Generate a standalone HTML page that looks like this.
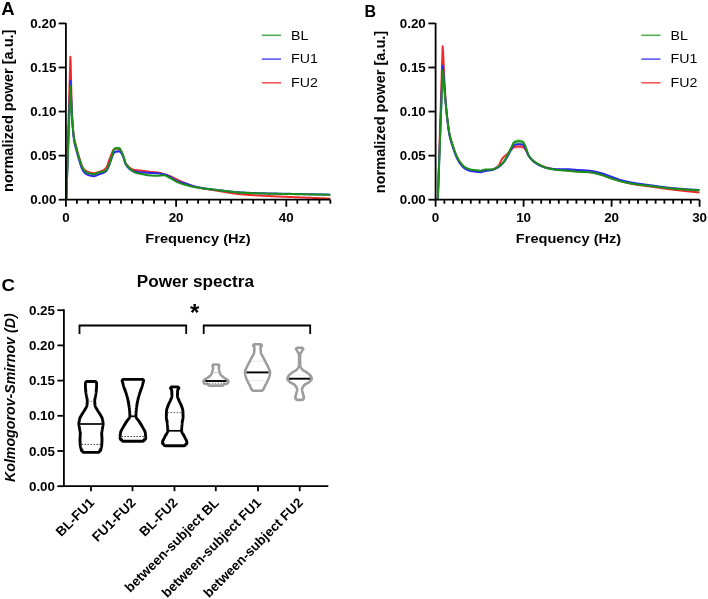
<!DOCTYPE html>
<html><head><meta charset="utf-8"><style>
html,body{margin:0;padding:0;background:#fff;}
svg{display:block;font-family:"Liberation Sans",sans-serif;will-change:transform;}
</style></head><body>
<svg width="708" height="599" viewBox="0 0 708 599">
<rect width="708" height="599" fill="#fff"/>
<path d="M69.21,97.28 L69.23,96.07 L69.25,95.05 L69.28,94.08 L69.30,93.12 L69.32,92.18 L69.34,91.25 L69.37,90.32 L69.39,89.41 L69.41,88.50 L69.44,87.59 L69.46,86.69 L69.48,85.79 L69.51,84.89 L69.53,84.00 L69.55,83.11 L69.58,82.23 L69.60,81.35 L69.62,80.46 L69.65,79.59 L69.67,78.71 L69.69,77.83 L69.72,76.96 L69.74,76.09 L69.76,75.22 L69.78,74.36 L69.81,73.49 L69.83,72.63 L69.85,71.77 L69.88,70.91 L69.90,70.05 L69.92,69.20 L69.95,68.34 L69.97,67.49 L69.99,66.64 L70.02,65.79 L70.04,64.94 L70.06,64.09 L70.09,63.25 L70.11,62.41 L70.13,61.56 L70.16,60.72 L70.18,59.89 L70.20,59.05 L70.22,58.21 L70.25,57.38 L70.27,56.55 L70.29,55.71 L70.32,54.89 L70.34,54.06 L70.36,53.25 L70.39,53.65 L70.41,54.04 L70.43,54.44 L70.46,54.84 L70.48,55.24 L70.50,55.64 L70.53,56.04 L70.55,56.44 L70.57,56.85 L70.60,57.26 L70.62,57.66 L70.64,58.16 L70.66,59.26 L70.69,60.35 L70.71,61.45 L70.73,62.55 L70.76,63.64 L70.78,64.74 L70.80,65.83 L70.83,66.92 L70.85,68.01 L70.87,69.09 L70.90,70.17 L70.92,71.25 L70.94,72.33 L70.97,73.40 L70.99,74.46 L71.01,75.53 L71.03,76.59 L71.06,77.64 L71.08,78.69 L71.10,79.73 L71.13,80.77 L71.15,81.80 L71.17,82.83 L71.20,83.85 L71.22,84.87 L71.24,85.87 L71.27,86.87 L71.29,87.87 L71.31,88.85 L71.34,89.83 L71.36,90.81 L71.38,91.77 L71.41,92.72 L71.43,93.67 L71.45,94.61 L71.47,95.54 L71.50,96.46 L71.52,97.37 L71.54,98.27 L71.57,99.17 L71.59,100.05 L71.61,100.92 L71.64,101.79 L71.66,102.64 L71.68,103.49 L71.71,104.32 L71.73,105.14 L71.75,105.96 L71.78,106.77 L71.80,107.56 L71.82,108.35 L71.85,109.14 L71.87,109.91 L71.89,110.69 L71.91,111.48 L71.94,112.28 L71.96,113.27 L71.96,113.27 L71.94,113.08 L71.91,112.68 L71.89,112.23 L71.87,111.74 L71.85,111.22 L71.82,110.68 L71.80,110.11 L71.78,109.52 L71.75,108.92 L71.73,108.29 L71.71,107.64 L71.68,106.98 L71.66,106.30 L71.64,105.61 L71.61,104.90 L71.59,104.17 L71.57,103.43 L71.54,102.68 L71.52,101.91 L71.50,101.13 L71.47,100.33 L71.45,99.52 L71.43,98.70 L71.41,97.86 L71.38,97.02 L71.36,96.16 L71.34,95.29 L71.31,94.41 L71.29,93.52 L71.27,92.61 L71.24,91.70 L71.22,90.78 L71.20,89.85 L71.17,88.90 L71.15,87.95 L71.13,86.99 L71.10,86.02 L71.08,85.04 L71.06,84.06 L71.03,83.06 L71.01,82.06 L70.99,81.05 L70.97,80.03 L70.94,79.01 L70.92,77.98 L70.90,76.94 L70.87,75.90 L70.85,74.85 L70.83,73.80 L70.80,72.74 L70.78,71.67 L70.76,70.60 L70.73,69.53 L70.71,68.45 L70.69,67.36 L70.66,66.28 L70.64,65.19 L70.62,64.70 L70.60,64.30 L70.57,63.89 L70.55,63.48 L70.53,63.07 L70.50,62.66 L70.48,62.25 L70.46,61.83 L70.43,61.42 L70.41,61.00 L70.39,60.58 L70.36,60.16 L70.34,60.93 L70.32,61.73 L70.29,62.52 L70.27,63.32 L70.25,64.11 L70.22,64.90 L70.20,65.69 L70.18,66.47 L70.16,67.26 L70.13,68.04 L70.11,68.82 L70.09,69.60 L70.06,70.38 L70.04,71.16 L70.02,71.94 L69.99,72.71 L69.97,73.48 L69.95,74.26 L69.92,75.03 L69.90,75.79 L69.88,76.56 L69.85,77.32 L69.83,78.09 L69.81,78.85 L69.78,79.61 L69.76,80.36 L69.74,81.12 L69.72,81.87 L69.69,82.63 L69.67,83.38 L69.65,84.12 L69.62,84.87 L69.60,85.61 L69.58,86.35 L69.55,87.09 L69.53,87.82 L69.51,88.56 L69.48,89.29 L69.46,90.01 L69.44,90.73 L69.41,91.45 L69.39,92.16 L69.37,92.87 L69.34,93.57 L69.32,94.26 L69.30,94.95 L69.28,95.61 L69.25,96.26 L69.23,96.87 L69.21,97.28 Z" fill="#ff8080" fill-opacity="0.45" stroke="none"/>
<path d="M111.63,153.94 L111.74,153.51 L111.85,153.16 L111.95,152.83 L112.06,152.49 L112.17,152.16 L112.27,151.83 L112.38,151.51 L112.48,151.19 L112.59,150.88 L112.70,150.58 L112.80,150.29 L112.91,150.01 L113.02,149.75 L113.12,149.50 L113.23,149.27 L113.34,149.06 L113.44,148.87 L113.55,148.71 L113.66,148.57 L113.76,148.46 L113.87,148.36 L113.98,148.27 L114.08,148.17 L114.19,148.08 L114.30,147.99 L114.40,147.90 L114.51,147.82 L114.61,147.74 L114.72,147.67 L114.83,147.60 L114.93,147.54 L115.04,147.48 L115.15,147.42 L115.25,147.37 L115.36,147.33 L115.47,147.29 L115.57,147.26 L115.68,147.24 L115.79,147.22 L115.89,147.20 L116.00,147.19 L116.11,147.18 L116.21,147.17 L116.32,147.17 L116.43,147.16 L116.53,147.16 L116.64,147.16 L116.74,147.16 L116.85,147.16 L116.96,147.16 L117.06,147.16 L117.17,147.17 L117.28,147.18 L117.38,147.19 L117.49,147.20 L117.60,147.21 L117.70,147.22 L117.81,147.24 L117.92,147.25 L118.02,147.27 L118.13,147.29 L118.24,147.31 L118.34,147.33 L118.45,147.36 L118.56,147.38 L118.66,147.41 L118.77,147.44 L118.87,147.47 L118.98,147.50 L119.09,147.53 L119.19,147.56 L119.30,147.61 L119.41,147.67 L119.51,147.74 L119.62,147.83 L119.73,147.94 L119.83,148.05 L119.94,148.18 L120.05,148.32 L120.15,148.47 L120.26,148.63 L120.37,148.80 L120.47,148.97 L120.58,149.15 L120.69,149.34 L120.79,149.53 L120.90,149.73 L121.00,149.93 L121.11,150.13 L121.22,150.34 L121.32,150.54 L121.43,150.75 L121.54,150.95 L121.64,151.16 L121.75,151.38 L121.86,151.61 L121.96,151.85 L122.07,152.11 L122.18,152.37 L122.28,152.64 L122.39,152.92 L122.50,153.21 L122.60,153.50 L122.71,153.80 L122.82,154.11 L122.92,154.42 L123.03,154.74 L123.13,155.06 L123.24,155.38 L123.35,155.71 L123.45,156.04 L123.56,156.37 L123.67,156.70 L123.77,157.04 L123.88,157.39 L123.99,157.77 L124.09,158.17 L124.20,158.60 L124.31,159.12 L124.31,159.12 L124.20,158.96 L124.09,158.71 L123.99,158.46 L123.88,158.22 L123.77,157.98 L123.67,157.75 L123.56,157.52 L123.45,157.28 L123.35,157.04 L123.24,156.80 L123.13,156.55 L123.03,156.31 L122.92,156.07 L122.82,155.83 L122.71,155.59 L122.60,155.36 L122.50,155.13 L122.39,154.90 L122.28,154.68 L122.18,154.47 L122.07,154.26 L121.96,154.06 L121.86,153.87 L121.75,153.69 L121.64,153.52 L121.54,153.36 L121.43,153.20 L121.32,153.04 L121.22,152.88 L121.11,152.72 L121.00,152.55 L120.90,152.39 L120.79,152.23 L120.69,152.07 L120.58,151.92 L120.47,151.77 L120.37,151.63 L120.26,151.49 L120.15,151.36 L120.05,151.24 L119.94,151.12 L119.83,151.02 L119.73,150.92 L119.62,150.84 L119.51,150.77 L119.41,150.72 L119.30,150.67 L119.19,150.64 L119.09,150.62 L118.98,150.61 L118.87,150.59 L118.77,150.57 L118.66,150.55 L118.56,150.53 L118.45,150.51 L118.34,150.49 L118.24,150.48 L118.13,150.46 L118.02,150.44 L117.92,150.42 L117.81,150.40 L117.70,150.39 L117.60,150.37 L117.49,150.35 L117.38,150.33 L117.28,150.32 L117.17,150.30 L117.06,150.28 L116.96,150.27 L116.85,150.25 L116.74,150.24 L116.64,150.22 L116.53,150.20 L116.43,150.19 L116.32,150.17 L116.21,150.16 L116.11,150.15 L116.00,150.13 L115.89,150.12 L115.79,150.10 L115.68,150.10 L115.57,150.09 L115.47,150.09 L115.36,150.10 L115.25,150.11 L115.15,150.12 L115.04,150.14 L114.93,150.16 L114.83,150.18 L114.72,150.21 L114.61,150.24 L114.51,150.28 L114.40,150.31 L114.30,150.35 L114.19,150.39 L114.08,150.43 L113.98,150.48 L113.87,150.52 L113.76,150.56 L113.66,150.62 L113.55,150.69 L113.44,150.79 L113.34,150.92 L113.23,151.06 L113.12,151.22 L113.02,151.39 L112.91,151.58 L112.80,151.78 L112.70,151.99 L112.59,152.21 L112.48,152.43 L112.38,152.65 L112.27,152.88 L112.17,153.10 L112.06,153.31 L111.95,153.52 L111.85,153.71 L111.74,153.87 L111.63,153.94 Z" fill="#ff8080" fill-opacity="0.45" stroke="none"/>
<path d="M66.29,199.70 L70.36,56.70 L70.64,61.54 L70.86,71.86 L71.08,81.78 L71.30,91.11 L71.52,99.61 L71.74,107.06 L71.96,113.27 L72.18,117.99 L72.40,121.43 L72.62,124.48 L72.84,127.21 L73.06,129.65 L73.28,131.83 L73.50,133.76 L73.72,135.47 L73.94,136.99 L74.17,138.35 L74.39,139.57 L74.61,140.62 L74.83,141.55 L75.05,142.38 L75.27,143.15 L75.49,143.90 L75.71,144.65 L75.93,145.46 L76.15,146.31 L76.37,147.18 L76.59,148.05 L76.81,148.92 L77.03,149.78 L77.25,150.63 L77.47,151.46 L77.69,152.27 L77.91,153.06 L78.13,153.84 L78.35,154.60 L78.57,155.36 L78.79,156.10 L79.01,156.84 L79.23,157.56 L79.45,158.26 L79.68,158.96 L79.90,159.65 L80.12,160.35 L80.34,161.05 L80.56,161.74 L80.78,162.42 L81.00,163.08 L81.22,163.72 L81.44,164.32 L81.66,164.89 L81.88,165.40 L82.10,165.88 L82.32,166.33 L82.54,166.76 L82.76,167.17 L82.98,167.57 L83.20,167.93 L83.42,168.27 L83.64,168.58 L83.86,168.86 L84.08,169.11 L84.30,169.34 L84.52,169.57 L84.74,169.79 L84.96,170.00 L85.19,170.20 L85.41,170.39 L85.63,170.57 L85.85,170.74 L86.07,170.90 L86.29,171.06 L86.51,171.20 L86.73,171.33 L86.95,171.45 L87.17,171.55 L87.39,171.65 L87.61,171.74 L87.83,171.83 L88.05,171.91 L88.27,171.99 L88.49,172.07 L88.71,172.15 L88.93,172.22 L89.15,172.29 L89.37,172.35 L89.59,172.41 L89.81,172.47 L90.03,172.53 L90.25,172.59 L90.47,172.64 L90.70,172.69 L90.92,172.74 L91.14,172.78 L91.36,172.83 L91.58,172.87 L91.80,172.91 L92.02,172.95 L92.24,172.99 L92.46,173.03 L92.68,173.07 L92.90,173.11 L93.12,173.14 L93.34,173.17 L93.56,173.19 L93.78,173.21 L94.00,173.21 L94.22,173.21 L94.44,173.19 L94.66,173.16 L94.88,173.12 L95.10,173.07 L95.32,173.02 L95.54,172.96 L95.76,172.90 L95.98,172.83 L96.21,172.76 L96.43,172.69 L96.65,172.62 L96.87,172.55 L97.09,172.48 L97.31,172.42 L97.53,172.36 L97.75,172.30 L97.97,172.23 L98.19,172.17 L98.41,172.11 L98.63,172.04 L98.85,171.97 L99.07,171.90 L99.29,171.83 L99.51,171.76 L99.73,171.69 L99.95,171.61 L100.17,171.54 L100.39,171.46 L100.61,171.38 L100.83,171.30 L101.05,171.21 L101.27,171.12 L101.49,171.03 L101.72,170.94 L101.94,170.85 L102.16,170.75 L102.38,170.65 L102.60,170.55 L102.82,170.44 L103.04,170.32 L103.26,170.20 L103.48,170.07 L103.70,169.93 L103.92,169.78 L104.14,169.62 L104.36,169.45 L104.58,169.26 L104.80,169.06 L105.02,168.84 L105.24,168.61 L105.46,168.36 L105.68,168.10 L105.90,167.81 L106.12,167.52 L106.34,167.20 L106.56,166.87 L106.78,166.51 L107.00,166.08 L107.23,165.58 L107.45,165.03 L107.67,164.42 L107.89,163.79 L108.11,163.13 L108.33,162.46 L108.55,161.80 L108.77,161.16 L108.99,160.54 L109.21,159.96 L109.43,159.39 L109.65,158.82 L109.87,158.26 L110.09,157.69 L110.31,157.14 L110.53,156.58 L110.75,156.04 L110.97,155.50 L111.19,154.97 L111.41,154.45 L111.63,153.94 L111.85,153.42 L112.07,152.86 L112.29,152.30 L112.51,151.74 L112.74,151.20 L112.96,150.70 L113.18,150.26 L113.40,149.90 L113.62,149.63 L113.84,149.46 L114.06,149.32 L114.28,149.18 L114.50,149.05 L114.72,148.94 L114.94,148.85 L115.16,148.77 L115.38,148.71 L115.60,148.67 L115.82,148.66 L116.04,148.66 L116.26,148.67 L116.48,148.68 L116.70,148.69 L116.92,148.71 L117.14,148.73 L117.36,148.76 L117.58,148.79 L117.80,148.82 L118.02,148.86 L118.25,148.89 L118.47,148.94 L118.69,148.98 L118.91,149.03 L119.13,149.09 L119.35,149.16 L119.57,149.30 L119.79,149.49 L120.01,149.73 L120.23,150.02 L120.45,150.34 L120.67,150.68 L120.89,151.05 L121.11,151.42 L121.33,151.80 L121.55,152.18 L121.77,152.58 L121.99,153.02 L122.21,153.50 L122.43,154.02 L122.65,154.56 L122.87,155.12 L123.09,155.70 L123.31,156.28 L123.53,156.87 L123.76,157.46 L123.98,158.08 L124.20,158.77 L124.42,159.48 L124.64,160.19 L124.86,160.88 L125.08,161.52 L125.30,162.07 L125.52,162.52 L125.74,162.93 L125.96,163.32 L126.18,163.69 L126.40,164.04 L126.62,164.37 L126.84,164.68 L127.06,164.98 L127.28,165.26 L127.50,165.53 L127.72,165.78 L127.94,166.03 L128.16,166.26 L128.38,166.49 L128.60,166.71 L128.82,166.92 L129.04,167.14 L129.27,167.34 L129.49,167.54 L129.71,167.73 L129.93,167.91 L130.15,168.08 L130.37,168.25 L130.59,168.40 L130.81,168.54 L131.03,168.67 L131.25,168.79 L131.47,168.90 L131.69,169.00 L131.91,169.10 L132.13,169.19 L132.35,169.28 L132.57,169.36 L132.79,169.44 L133.01,169.52 L133.23,169.59 L133.45,169.66 L133.67,169.72 L133.89,169.78 L134.11,169.83 L134.33,169.88 L134.55,169.92 L134.78,169.96 L135.00,169.99 L135.22,170.01 L135.44,170.04 L135.66,170.06 L135.88,170.08 L136.10,170.10 L136.32,170.12 L136.54,170.14 L136.76,170.16 L136.98,170.17 L137.20,170.19 L137.42,170.20 L137.64,170.22 L137.86,170.24 L138.08,170.26 L138.30,170.28 L138.52,170.30 L138.74,170.32 L138.96,170.34 L139.18,170.37 L139.40,170.39 L139.62,170.42 L139.84,170.44 L140.06,170.47 L140.29,170.50 L140.51,170.53 L140.73,170.56 L140.95,170.58 L141.17,170.61 L141.39,170.64 L141.61,170.67 L141.83,170.70 L142.05,170.73 L142.27,170.77 L142.49,170.80 L142.71,170.83 L142.93,170.86 L143.15,170.89 L143.37,170.93 L143.59,170.96 L143.81,170.99 L144.03,171.02 L144.25,171.06 L144.47,171.09 L144.69,171.12 L144.91,171.15 L145.13,171.19 L145.35,171.22 L145.57,171.25 L145.80,171.28 L146.02,171.32 L146.24,171.35 L146.46,171.38 L146.68,171.41 L146.90,171.44 L147.12,171.47 L147.34,171.51 L147.56,171.54 L147.78,171.57 L148.00,171.60 L148.22,171.63 L148.44,171.65 L148.66,171.68 L148.88,171.71 L149.10,171.74 L149.32,171.77 L149.54,171.79 L149.76,171.82 L149.98,171.84 L150.20,171.87 L150.42,171.89 L150.64,171.91 L150.86,171.94 L151.08,171.96 L151.31,171.98 L151.53,172.00 L151.75,172.02 L151.97,172.04 L152.19,172.05 L152.41,172.07 L152.63,172.09 L152.85,172.10 L153.07,172.11 L153.29,172.13 L153.51,172.14 L153.73,172.16 L153.95,172.17 L154.17,172.18 L154.39,172.20 L154.61,172.21 L154.83,172.22 L155.05,172.24 L155.27,172.25 L155.49,172.27 L155.71,172.29 L155.93,172.31 L156.15,172.33 L156.37,172.35 L156.59,172.37 L156.82,172.39 L157.04,172.41 L157.26,172.44 L157.48,172.47 L157.70,172.50 L157.92,172.54 L158.14,172.58 L158.36,172.62 L158.58,172.67 L158.80,172.71 L159.02,172.76 L159.24,172.82 L159.46,172.87 L159.68,172.93 L159.90,172.99 L160.12,173.05 L160.34,173.11 L160.56,173.17 L160.78,173.23 L161.00,173.30 L161.22,173.36 L161.44,173.43 L161.66,173.49 L161.88,173.56 L162.10,173.63 L162.33,173.70 L162.55,173.76 L162.77,173.83 L162.99,173.89 L163.21,173.96 L163.43,174.02 L163.65,174.09 L163.87,174.15 L164.09,174.21 L164.31,174.27 L164.53,174.33 L164.75,174.39 L164.97,174.45 L165.19,174.51 L165.41,174.58 L165.63,174.64 L165.85,174.70 L166.07,174.77 L166.29,174.83 L166.51,174.90 L166.73,174.96 L166.95,175.03 L167.17,175.10 L167.39,175.17 L167.61,175.25 L167.84,175.32 L168.06,175.40 L168.28,175.48 L168.50,175.56 L168.72,175.65 L168.94,175.73 L169.16,175.82 L169.38,175.91 L169.60,176.00 L169.82,176.09 L170.04,176.18 L170.26,176.27 L170.48,176.37 L170.70,176.47 L170.92,176.56 L171.14,176.66 L171.36,176.76 L171.58,176.87 L171.80,176.97 L172.02,177.07 L172.24,177.18 L172.46,177.28 L172.68,177.39 L172.90,177.49 L173.12,177.60 L173.35,177.71 L173.57,177.82 L173.79,177.93 L174.01,178.04 L174.23,178.14 L174.45,178.26 L174.67,178.37 L174.89,178.48 L175.11,178.59 L175.33,178.70 L175.55,178.81 L175.77,178.92 L175.99,179.03 L176.21,179.14 L176.43,179.25 L176.65,179.36 L176.87,179.47 L177.09,179.58 L177.31,179.69 L177.53,179.80 L177.75,179.91 L177.97,180.01 L178.19,180.12 L178.41,180.23 L178.63,180.33 L178.86,180.44 L179.08,180.54 L179.30,180.64 L179.52,180.74 L179.74,180.85 L179.96,180.95 L180.18,181.04 L180.40,181.14 L180.62,181.24 L180.84,181.33 L181.06,181.43 L181.28,181.52 L181.50,181.61 L181.72,181.71 L181.94,181.80 L182.16,181.90 L182.38,181.99 L182.60,182.08 L182.82,182.18 L183.04,182.27 L183.26,182.36 L183.48,182.46 L183.70,182.55 L183.92,182.64 L184.14,182.73 L184.37,182.83 L184.59,182.92 L184.81,183.01 L185.03,183.10 L185.25,183.19 L185.47,183.28 L185.69,183.37 L185.91,183.46 L186.13,183.54 L186.35,183.63 L186.57,183.72 L186.79,183.80 L187.01,183.89 L187.23,183.97 L187.45,184.06 L187.67,184.14 L187.89,184.22 L188.11,184.31 L188.33,184.39 L188.55,184.47 L188.77,184.55 L188.99,184.62 L189.21,184.70 L189.43,184.78 L189.65,184.85 L189.88,184.93 L190.10,185.01 L190.32,185.08 L190.54,185.16 L190.76,185.23 L190.98,185.31 L191.20,185.38 L191.42,185.45 L191.64,185.53 L191.86,185.60 L192.08,185.67 L192.30,185.74 L192.52,185.81 L192.74,185.88 L192.96,185.95 L193.18,186.02 L193.40,186.09 L193.62,186.16 L193.84,186.22 L194.06,186.29 L194.28,186.35 L194.50,186.42 L194.72,186.48 L194.94,186.54 L195.16,186.60 L195.39,186.66 L195.61,186.72 L195.83,186.78 L196.05,186.83 L196.27,186.89 L196.49,186.94 L196.71,186.99 L196.93,187.04 L197.15,187.10 L197.37,187.15 L197.59,187.20 L197.81,187.25 L198.03,187.30 L198.25,187.35 L198.47,187.40 L198.69,187.45 L198.91,187.50 L199.13,187.55 L199.35,187.60 L199.57,187.64 L199.79,187.69 L200.01,187.74 L200.23,187.79 L200.45,187.83 L200.67,187.88 L200.90,187.92 L201.12,187.97 L201.34,188.02 L201.56,188.06 L201.78,188.11 L202.00,188.15 L202.22,188.19 L202.44,188.24 L202.66,188.28 L202.88,188.33 L203.10,188.37 L203.32,188.41 L203.54,188.45 L203.76,188.50 L203.98,188.54 L204.20,188.58 L204.42,188.62 L204.64,188.66 L204.86,188.70 L205.08,188.75 L205.30,188.79 L205.52,188.83 L205.74,188.87 L205.96,188.91 L206.18,188.95 L206.41,188.99 L206.63,189.03 L206.85,189.07 L207.07,189.10 L207.29,189.14 L207.51,189.18 L207.73,189.22 L207.95,189.26 L208.17,189.30 L208.39,189.34 L208.61,189.37 L208.83,189.41 L209.05,189.45 L209.27,189.49 L209.49,189.52 L209.71,189.56 L209.93,189.60 L210.15,189.63 L210.37,189.67 L210.59,189.71 L210.81,189.74 L211.03,189.78 L211.25,189.82 L211.47,189.85 L211.69,189.89 L211.92,189.93 L212.14,189.96 L212.36,190.00 L212.58,190.03 L212.80,190.07 L213.02,190.10 L213.24,190.14 L213.46,190.18 L213.68,190.21 L213.90,190.25 L214.12,190.28 L214.34,190.32 L214.56,190.35 L214.78,190.39 L215.00,190.42 L215.22,190.46 L215.44,190.49 L215.66,190.53 L215.88,190.56 L216.10,190.60 L216.32,190.63 L216.54,190.67 L216.76,190.71 L216.98,190.74 L217.20,190.78 L217.43,190.81 L217.65,190.85 L217.87,190.88 L218.09,190.92 L218.31,190.95 L218.53,190.99 L218.75,191.02 L218.97,191.06 L219.19,191.09 L219.41,191.13 L219.63,191.17 L219.85,191.20 L220.07,191.24 L220.29,191.27 L220.51,191.31 L220.73,191.34 L220.95,191.38 L221.17,191.42 L221.39,191.45 L221.61,191.49 L221.83,191.53 L222.05,191.56 L222.27,191.60 L222.49,191.63 L222.71,191.67 L222.94,191.71 L223.16,191.74 L223.38,191.78 L223.60,191.82 L223.82,191.85 L224.04,191.89 L224.26,191.93 L224.48,191.96 L224.70,192.00 L224.92,192.03 L225.14,192.07 L225.36,192.11 L225.58,192.14 L225.80,192.18 L226.02,192.21 L226.24,192.25 L226.46,192.29 L226.68,192.32 L226.90,192.36 L227.12,192.39 L227.34,192.43 L227.56,192.46 L227.78,192.50 L228.00,192.54 L228.22,192.57 L228.45,192.61 L228.67,192.64 L228.89,192.68 L229.11,192.71 L229.33,192.74 L229.55,192.78 L229.77,192.81 L229.99,192.85 L230.21,192.88 L230.43,192.92 L230.65,192.95 L230.87,192.98 L231.09,193.02 L231.31,193.05 L231.53,193.08 L231.75,193.12 L231.97,193.15 L232.19,193.18 L232.41,193.21 L232.63,193.24 L232.85,193.28 L233.07,193.31 L233.29,193.34 L233.51,193.37 L233.73,193.40 L233.96,193.43 L234.18,193.46 L234.40,193.49 L234.62,193.52 L234.84,193.55 L235.06,193.58 L235.28,193.61 L235.50,193.64 L235.72,193.67 L235.94,193.70 L236.16,193.73 L236.38,193.76 L236.60,193.78 L236.82,193.81 L237.04,193.84 L237.26,193.86 L237.48,193.89 L237.70,193.92 L237.92,193.94 L238.14,193.97 L238.36,193.99 L238.58,194.02 L238.80,194.04 L239.02,194.07 L239.24,194.09 L239.47,194.12 L239.69,194.14 L239.91,194.16 L240.13,194.18 L240.35,194.21 L240.57,194.23 L240.79,194.25 L241.01,194.27 L241.23,194.29 L241.45,194.31 L241.67,194.33 L241.89,194.35 L242.11,194.37 L242.33,194.39 L242.55,194.41 L242.77,194.43 L242.99,194.45 L243.21,194.47 L243.43,194.48 L243.65,194.50 L243.87,194.52 L244.09,194.54 L244.31,194.56 L244.53,194.58 L244.75,194.59 L244.98,194.61 L245.20,194.63 L245.42,194.64 L245.64,194.66 L245.86,194.68 L246.08,194.70 L246.30,194.71 L246.52,194.73 L246.74,194.75 L246.96,194.76 L247.18,194.78 L247.40,194.79 L247.62,194.81 L247.84,194.83 L248.06,194.84 L248.28,194.86 L248.50,194.87 L248.72,194.89 L248.94,194.90 L249.16,194.92 L249.38,194.93 L249.60,194.95 L249.82,194.96 L250.04,194.98 L250.26,194.99 L250.49,195.01 L250.71,195.02 L250.93,195.04 L251.15,195.05 L251.37,195.07 L251.59,195.08 L251.81,195.09 L252.03,195.11 L252.25,195.12 L252.47,195.14 L252.69,195.15 L252.91,195.16 L253.13,195.18 L253.35,195.19 L253.57,195.20 L253.79,195.22 L254.01,195.23 L254.23,195.24 L254.45,195.26 L254.67,195.27 L254.89,195.28 L255.11,195.30 L255.33,195.31 L255.55,195.32 L255.77,195.33 L256.00,195.35 L256.22,195.36 L256.44,195.37 L256.66,195.38 L256.88,195.40 L257.10,195.41 L257.32,195.42 L257.54,195.43 L257.76,195.45 L257.98,195.46 L258.20,195.47 L258.42,195.48 L258.64,195.50 L258.86,195.51 L259.08,195.52 L259.30,195.53 L259.52,195.54 L259.74,195.56 L259.96,195.57 L260.18,195.58 L260.40,195.59 L260.62,195.60 L260.84,195.62 L261.06,195.63 L261.28,195.64 L261.51,195.65 L261.73,195.66 L261.95,195.67 L262.17,195.69 L262.39,195.70 L262.61,195.71 L262.83,195.72 L263.05,195.73 L263.27,195.75 L263.49,195.76 L263.71,195.77 L263.93,195.78 L264.15,195.79 L264.37,195.80 L264.59,195.82 L264.81,195.83 L265.03,195.84 L265.25,195.85 L265.47,195.86 L265.69,195.88 L265.91,195.89 L266.13,195.90 L266.35,195.91 L266.57,195.92 L266.79,195.93 L267.02,195.94 L267.24,195.96 L267.46,195.97 L267.68,195.98 L267.90,195.99 L268.12,196.00 L268.34,196.01 L268.56,196.02 L268.78,196.03 L269.00,196.05 L269.22,196.06 L269.44,196.07 L269.66,196.08 L269.88,196.09 L270.10,196.10 L270.32,196.11 L270.54,196.12 L270.76,196.13 L270.98,196.14 L271.20,196.15 L271.42,196.16 L271.64,196.18 L271.86,196.19 L272.08,196.20 L272.30,196.21 L272.53,196.22 L272.75,196.23 L272.97,196.24 L273.19,196.25 L273.41,196.26 L273.63,196.27 L273.85,196.28 L274.07,196.29 L274.29,196.30 L274.51,196.31 L274.73,196.32 L274.95,196.33 L275.17,196.34 L275.39,196.35 L275.61,196.36 L275.83,196.37 L276.05,196.38 L276.27,196.39 L276.49,196.40 L276.71,196.41 L276.93,196.42 L277.15,196.43 L277.37,196.44 L277.59,196.45 L277.81,196.46 L278.04,196.47 L278.26,196.48 L278.48,196.49 L278.70,196.50 L278.92,196.51 L279.14,196.52 L279.36,196.53 L279.58,196.54 L279.80,196.55 L280.02,196.56 L280.24,196.57 L280.46,196.58 L280.68,196.59 L280.90,196.60 L281.12,196.61 L281.34,196.62 L281.56,196.63 L281.78,196.64 L282.00,196.64 L282.22,196.65 L282.44,196.66 L282.66,196.67 L282.88,196.68 L283.10,196.69 L283.32,196.70 L283.55,196.71 L283.77,196.72 L283.99,196.73 L284.21,196.74 L284.43,196.75 L284.65,196.76 L284.87,196.77 L285.09,196.78 L285.31,196.79 L285.53,196.80 L285.75,196.80 L285.97,196.81 L286.19,196.82 L286.41,196.83 L286.63,196.84 L286.85,196.85 L287.07,196.86 L287.29,196.87 L287.51,196.88 L287.73,196.89 L287.95,196.90 L288.17,196.91 L288.39,196.92 L288.61,196.93 L288.83,196.93 L289.06,196.94 L289.28,196.95 L289.50,196.96 L289.72,196.97 L289.94,196.98 L290.16,196.99 L290.38,197.00 L290.60,197.01 L290.82,197.02 L291.04,197.03 L291.26,197.04 L291.48,197.05 L291.70,197.06 L291.92,197.06 L292.14,197.07 L292.36,197.08 L292.58,197.09 L292.80,197.10 L293.02,197.11 L293.24,197.12 L293.46,197.13 L293.68,197.14 L293.90,197.15 L294.12,197.16 L294.34,197.17 L294.57,197.18 L294.79,197.18 L295.01,197.19 L295.23,197.20 L295.45,197.21 L295.67,197.22 L295.89,197.23 L296.11,197.24 L296.33,197.25 L296.55,197.26 L296.77,197.27 L296.99,197.28 L297.21,197.29 L297.43,197.29 L297.65,197.30 L297.87,197.31 L298.09,197.32 L298.31,197.33 L298.53,197.34 L298.75,197.35 L298.97,197.36 L299.19,197.37 L299.41,197.38 L299.63,197.39 L299.85,197.39 L300.08,197.40 L300.30,197.41 L300.52,197.42 L300.74,197.43 L300.96,197.44 L301.18,197.45 L301.40,197.46 L301.62,197.47 L301.84,197.48 L302.06,197.48 L302.28,197.49 L302.50,197.50 L302.72,197.51 L302.94,197.52 L303.16,197.53 L303.38,197.54 L303.60,197.55 L303.82,197.56 L304.04,197.56 L304.26,197.57 L304.48,197.58 L304.70,197.59 L304.92,197.60 L305.14,197.61 L305.36,197.62 L305.59,197.63 L305.81,197.63 L306.03,197.64 L306.25,197.65 L306.47,197.66 L306.69,197.67 L306.91,197.68 L307.13,197.69 L307.35,197.70 L307.57,197.70 L307.79,197.71 L308.01,197.72 L308.23,197.73 L308.45,197.74 L308.67,197.75 L308.89,197.76 L309.11,197.77 L309.33,197.77 L309.55,197.78 L309.77,197.79 L309.99,197.80 L310.21,197.81 L310.43,197.82 L310.65,197.83 L310.87,197.83 L311.10,197.84 L311.32,197.85 L311.54,197.86 L311.76,197.87 L311.98,197.88 L312.20,197.89 L312.42,197.89 L312.64,197.90 L312.86,197.91 L313.08,197.92 L313.30,197.93 L313.52,197.94 L313.74,197.95 L313.96,197.95 L314.18,197.96 L314.40,197.97 L314.62,197.98 L314.84,197.99 L315.06,198.00 L315.28,198.00 L315.50,198.01 L315.72,198.02 L315.94,198.03 L316.16,198.04 L316.38,198.05 L316.61,198.06 L316.83,198.06 L317.05,198.07 L317.27,198.08 L317.49,198.09 L317.71,198.10 L317.93,198.11 L318.15,198.11 L318.37,198.12 L318.59,198.13 L318.81,198.14 L319.03,198.15 L319.25,198.15 L319.47,198.16 L319.69,198.17 L319.91,198.18 L320.13,198.19 L320.35,198.20 L320.57,198.20 L320.79,198.21 L321.01,198.22 L321.23,198.23 L321.45,198.24 L321.67,198.24 L321.89,198.25 L322.12,198.26 L322.34,198.27 L322.56,198.28 L322.78,198.28 L323.00,198.29 L323.22,198.30 L323.44,198.31 L323.66,198.32 L323.88,198.32 L324.10,198.33 L324.32,198.34 L324.54,198.35 L324.76,198.36 L324.98,198.36 L325.20,198.37 L325.42,198.38 L325.64,198.39 L325.86,198.40 L326.08,198.40 L326.30,198.41 L326.52,198.42 L326.74,198.43 L326.96,198.44 L327.18,198.44 L327.40,198.45 L327.63,198.46 L327.85,198.47 L328.07,198.47 L328.29,198.48 L328.51,198.49 L328.73,198.50 L328.95,198.51 L329.17,198.51 L329.39,198.52 L329.61,198.53 L329.83,198.54 L330.05,198.54 L330.27,198.55" fill="none" stroke="#f02a2a" stroke-width="2" stroke-linejoin="round"/>
<path d="M111.63,158.34 L111.74,157.90 L111.85,157.52 L111.95,157.15 L112.06,156.78 L112.17,156.41 L112.27,156.04 L112.38,155.68 L112.48,155.32 L112.59,154.97 L112.70,154.62 L112.80,154.29 L112.91,153.97 L113.02,153.67 L113.12,153.38 L113.23,153.12 L113.34,152.87 L113.44,152.65 L113.55,152.45 L113.66,152.29 L113.76,152.15 L113.87,152.02 L113.98,151.90 L114.08,151.78 L114.19,151.67 L114.30,151.56 L114.40,151.45 L114.51,151.35 L114.61,151.26 L114.72,151.17 L114.83,151.09 L114.93,151.01 L115.04,150.93 L115.15,150.86 L115.25,150.79 L115.36,150.73 L115.47,150.68 L115.57,150.63 L115.68,150.58 L115.79,150.54 L115.89,150.51 L116.00,150.47 L116.11,150.44 L116.21,150.41 L116.32,150.38 L116.43,150.35 L116.53,150.32 L116.64,150.29 L116.74,150.26 L116.85,150.24 L116.96,150.21 L117.06,150.19 L117.17,150.17 L117.28,150.15 L117.38,150.13 L117.49,150.11 L117.60,150.09 L117.70,150.08 L117.81,150.07 L117.92,150.05 L118.02,150.04 L118.13,150.03 L118.24,150.02 L118.34,150.02 L118.45,150.01 L118.56,150.01 L118.66,150.00 L118.77,150.00 L118.87,150.00 L118.98,150.01 L119.09,150.01 L119.19,150.02 L119.30,150.03 L119.41,150.06 L119.51,150.10 L119.62,150.16 L119.73,150.22 L119.83,150.30 L119.94,150.39 L120.05,150.49 L120.15,150.59 L120.26,150.71 L120.37,150.83 L120.47,150.96 L120.58,151.10 L120.69,151.24 L120.79,151.38 L120.90,151.53 L121.00,151.69 L121.11,151.84 L121.22,152.00 L121.32,152.16 L121.43,152.32 L121.54,152.48 L121.64,152.64 L121.75,152.82 L121.86,153.01 L121.96,153.22 L122.07,153.43 L122.18,153.66 L122.28,153.90 L122.39,154.15 L122.50,154.40 L122.60,154.67 L122.71,154.94 L122.82,155.22 L122.92,155.51 L123.03,155.81 L123.13,156.11 L123.24,156.41 L123.35,156.72 L123.45,157.03 L123.56,157.35 L123.67,157.67 L123.77,158.00 L123.88,158.35 L123.99,158.73 L124.09,159.14 L124.20,159.58 L124.31,160.10 L124.31,160.10 L124.20,159.87 L124.09,159.59 L123.99,159.30 L123.88,159.03 L123.77,158.78 L123.67,158.54 L123.56,158.31 L123.45,158.07 L123.35,157.83 L123.24,157.59 L123.13,157.35 L123.03,157.12 L122.92,156.88 L122.82,156.66 L122.71,156.43 L122.60,156.21 L122.50,156.00 L122.39,155.80 L122.28,155.60 L122.18,155.41 L122.07,155.23 L121.96,155.06 L121.86,154.90 L121.75,154.75 L121.64,154.61 L121.54,154.49 L121.43,154.36 L121.32,154.24 L121.22,154.12 L121.11,153.99 L121.00,153.87 L120.90,153.75 L120.79,153.63 L120.69,153.51 L120.58,153.40 L120.47,153.29 L120.37,153.19 L120.26,153.09 L120.15,153.00 L120.05,152.92 L119.94,152.84 L119.83,152.77 L119.73,152.71 L119.62,152.66 L119.51,152.63 L119.41,152.60 L119.30,152.59 L119.19,152.58 L119.09,152.59 L118.98,152.60 L118.87,152.60 L118.77,152.61 L118.66,152.62 L118.56,152.63 L118.45,152.64 L118.34,152.65 L118.24,152.66 L118.13,152.67 L118.02,152.68 L117.92,152.69 L117.81,152.70 L117.70,152.72 L117.60,152.73 L117.49,152.74 L117.38,152.75 L117.28,152.77 L117.17,152.78 L117.06,152.79 L116.96,152.80 L116.85,152.82 L116.74,152.83 L116.64,152.84 L116.53,152.86 L116.43,152.87 L116.32,152.88 L116.21,152.90 L116.11,152.91 L116.00,152.92 L115.89,152.94 L115.79,152.95 L115.68,152.97 L115.57,152.99 L115.47,153.01 L115.36,153.04 L115.25,153.07 L115.15,153.11 L115.04,153.15 L114.93,153.19 L114.83,153.24 L114.72,153.29 L114.61,153.34 L114.51,153.40 L114.40,153.46 L114.30,153.53 L114.19,153.59 L114.08,153.67 L113.98,153.74 L113.87,153.82 L113.76,153.90 L113.66,153.99 L113.55,154.11 L113.44,154.25 L113.34,154.42 L113.23,154.61 L113.12,154.82 L113.02,155.04 L112.91,155.29 L112.80,155.54 L112.70,155.80 L112.59,156.08 L112.48,156.35 L112.38,156.63 L112.27,156.91 L112.17,157.19 L112.06,157.46 L111.95,157.73 L111.85,157.97 L111.74,158.20 L111.63,158.34 Z" fill="#8080ff" fill-opacity="0.45" stroke="none"/>
<path d="M66.29,199.70 L70.36,80.90 L70.64,83.54 L70.86,89.64 L71.08,95.51 L71.30,101.09 L71.52,106.31 L71.74,111.10 L71.96,115.40 L72.18,119.13 L72.40,122.39 L72.62,125.47 L72.84,128.38 L73.06,131.10 L73.28,133.62 L73.50,135.91 L73.72,137.97 L73.94,139.78 L74.17,141.31 L74.39,142.57 L74.61,143.64 L74.83,144.58 L75.05,145.40 L75.27,146.17 L75.49,146.90 L75.71,147.65 L75.93,148.45 L76.15,149.31 L76.37,150.17 L76.59,151.04 L76.81,151.91 L77.03,152.77 L77.25,153.62 L77.47,154.45 L77.69,155.26 L77.91,156.05 L78.13,156.83 L78.35,157.60 L78.57,158.35 L78.79,159.10 L79.01,159.83 L79.23,160.55 L79.45,161.25 L79.68,161.95 L79.90,162.64 L80.12,163.34 L80.34,164.04 L80.56,164.73 L80.78,165.41 L81.00,166.08 L81.22,166.71 L81.44,167.31 L81.66,167.88 L81.88,168.40 L82.10,168.87 L82.32,169.32 L82.54,169.75 L82.76,170.17 L82.98,170.56 L83.20,170.93 L83.42,171.27 L83.64,171.58 L83.86,171.85 L84.08,172.10 L84.30,172.34 L84.52,172.56 L84.74,172.78 L84.96,172.99 L85.19,173.19 L85.41,173.38 L85.63,173.56 L85.85,173.74 L86.07,173.90 L86.29,174.05 L86.51,174.19 L86.73,174.32 L86.95,174.44 L87.17,174.55 L87.39,174.64 L87.61,174.73 L87.83,174.82 L88.05,174.91 L88.27,174.99 L88.49,175.06 L88.71,175.14 L88.93,175.21 L89.15,175.28 L89.37,175.34 L89.59,175.41 L89.81,175.47 L90.03,175.52 L90.25,175.58 L90.47,175.63 L90.70,175.68 L90.92,175.73 L91.14,175.77 L91.36,175.82 L91.58,175.86 L91.80,175.90 L92.02,175.94 L92.24,175.98 L92.46,176.02 L92.68,176.06 L92.90,176.10 L93.12,176.13 L93.34,176.16 L93.56,176.18 L93.78,176.20 L94.00,176.20 L94.22,176.19 L94.44,176.17 L94.66,176.12 L94.88,176.07 L95.10,176.00 L95.32,175.91 L95.54,175.83 L95.76,175.73 L95.98,175.63 L96.21,175.53 L96.43,175.43 L96.65,175.33 L96.87,175.23 L97.09,175.14 L97.31,175.06 L97.53,174.98 L97.75,174.90 L97.97,174.82 L98.19,174.74 L98.41,174.66 L98.63,174.58 L98.85,174.49 L99.07,174.41 L99.29,174.33 L99.51,174.25 L99.73,174.16 L99.95,174.08 L100.17,174.00 L100.39,173.92 L100.61,173.83 L100.83,173.75 L101.05,173.67 L101.27,173.58 L101.49,173.50 L101.72,173.43 L101.94,173.35 L102.16,173.28 L102.38,173.21 L102.60,173.13 L102.82,173.06 L103.04,172.98 L103.26,172.89 L103.48,172.80 L103.70,172.70 L103.92,172.60 L104.14,172.48 L104.36,172.36 L104.58,172.22 L104.80,172.08 L105.02,171.93 L105.24,171.76 L105.46,171.59 L105.68,171.40 L105.90,171.20 L106.12,170.99 L106.34,170.76 L106.56,170.52 L106.78,170.26 L107.00,169.96 L107.23,169.60 L107.45,169.21 L107.67,168.78 L107.89,168.32 L108.11,167.84 L108.33,167.34 L108.55,166.82 L108.77,166.30 L108.99,165.77 L109.21,165.25 L109.43,164.70 L109.65,164.11 L109.87,163.49 L110.09,162.86 L110.31,162.20 L110.53,161.54 L110.75,160.88 L110.97,160.22 L111.19,159.57 L111.41,158.94 L111.63,158.34 L111.85,157.73 L112.07,157.08 L112.29,156.41 L112.51,155.75 L112.74,155.11 L112.96,154.51 L113.18,153.98 L113.40,153.53 L113.62,153.19 L113.84,152.95 L114.06,152.75 L114.28,152.56 L114.50,152.39 L114.72,152.23 L114.94,152.10 L115.16,151.98 L115.38,151.88 L115.60,151.80 L115.82,151.74 L116.04,151.69 L116.26,151.64 L116.48,151.60 L116.70,151.56 L116.92,151.52 L117.14,151.48 L117.36,151.44 L117.58,151.41 L117.80,151.39 L118.02,151.36 L118.25,151.34 L118.47,151.32 L118.69,151.31 L118.91,151.30 L119.13,151.30 L119.35,151.32 L119.57,151.39 L119.79,151.51 L120.01,151.67 L120.23,151.87 L120.45,152.10 L120.67,152.36 L120.89,152.63 L121.11,152.92 L121.33,153.21 L121.55,153.50 L121.77,153.82 L121.99,154.19 L122.21,154.61 L122.43,155.06 L122.65,155.56 L122.87,156.08 L123.09,156.63 L123.31,157.19 L123.53,157.76 L123.76,158.34 L123.98,158.98 L124.20,159.71 L124.42,160.50 L124.64,161.30 L124.86,162.07 L125.08,162.78 L125.30,163.37 L125.52,163.84 L125.74,164.26 L125.96,164.66 L126.18,165.03 L126.40,165.38 L126.62,165.70 L126.84,166.01 L127.06,166.30 L127.28,166.58 L127.50,166.84 L127.72,167.09 L127.94,167.34 L128.16,167.58 L128.38,167.82 L128.60,168.05 L128.82,168.28 L129.04,168.50 L129.27,168.72 L129.49,168.93 L129.71,169.13 L129.93,169.33 L130.15,169.51 L130.37,169.69 L130.59,169.85 L130.81,170.01 L131.03,170.15 L131.25,170.28 L131.47,170.40 L131.69,170.50 L131.91,170.61 L132.13,170.70 L132.35,170.80 L132.57,170.89 L132.79,170.97 L133.01,171.06 L133.23,171.13 L133.45,171.21 L133.67,171.27 L133.89,171.34 L134.11,171.40 L134.33,171.45 L134.55,171.50 L134.78,171.54 L135.00,171.58 L135.22,171.62 L135.44,171.66 L135.66,171.69 L135.88,171.73 L136.10,171.76 L136.32,171.79 L136.54,171.82 L136.76,171.85 L136.98,171.88 L137.20,171.91 L137.42,171.94 L137.64,171.96 L137.86,171.99 L138.08,172.01 L138.30,172.04 L138.52,172.06 L138.74,172.08 L138.96,172.11 L139.18,172.13 L139.40,172.15 L139.62,172.17 L139.84,172.19 L140.06,172.21 L140.29,172.23 L140.51,172.25 L140.73,172.27 L140.95,172.29 L141.17,172.31 L141.39,172.32 L141.61,172.34 L141.83,172.36 L142.05,172.38 L142.27,172.40 L142.49,172.42 L142.71,172.44 L142.93,172.46 L143.15,172.48 L143.37,172.50 L143.59,172.51 L143.81,172.53 L144.03,172.55 L144.25,172.57 L144.47,172.58 L144.69,172.60 L144.91,172.62 L145.13,172.63 L145.35,172.65 L145.57,172.66 L145.80,172.68 L146.02,172.70 L146.24,172.71 L146.46,172.73 L146.68,172.74 L146.90,172.76 L147.12,172.77 L147.34,172.78 L147.56,172.80 L147.78,172.81 L148.00,172.83 L148.22,172.84 L148.44,172.85 L148.66,172.87 L148.88,172.88 L149.10,172.89 L149.32,172.90 L149.54,172.92 L149.76,172.93 L149.98,172.94 L150.20,172.95 L150.42,172.96 L150.64,172.97 L150.86,172.98 L151.08,172.99 L151.31,173.00 L151.53,173.01 L151.75,173.02 L151.97,173.03 L152.19,173.03 L152.41,173.04 L152.63,173.05 L152.85,173.06 L153.07,173.07 L153.29,173.08 L153.51,173.09 L153.73,173.10 L153.95,173.11 L154.17,173.12 L154.39,173.13 L154.61,173.14 L154.83,173.15 L155.05,173.17 L155.27,173.18 L155.49,173.19 L155.71,173.20 L155.93,173.22 L156.15,173.23 L156.37,173.25 L156.59,173.26 L156.82,173.28 L157.04,173.30 L157.26,173.31 L157.48,173.33 L157.70,173.35 L157.92,173.37 L158.14,173.39 L158.36,173.42 L158.58,173.44 L158.80,173.47 L159.02,173.49 L159.24,173.52 L159.46,173.55 L159.68,173.58 L159.90,173.61 L160.12,173.64 L160.34,173.67 L160.56,173.70 L160.78,173.74 L161.00,173.77 L161.22,173.81 L161.44,173.85 L161.66,173.89 L161.88,173.93 L162.10,173.97 L162.33,174.01 L162.55,174.05 L162.77,174.10 L162.99,174.14 L163.21,174.19 L163.43,174.23 L163.65,174.28 L163.87,174.33 L164.09,174.38 L164.31,174.44 L164.53,174.50 L164.75,174.56 L164.97,174.63 L165.19,174.71 L165.41,174.79 L165.63,174.87 L165.85,174.95 L166.07,175.04 L166.29,175.13 L166.51,175.23 L166.73,175.33 L166.95,175.43 L167.17,175.53 L167.39,175.63 L167.61,175.74 L167.84,175.84 L168.06,175.95 L168.28,176.06 L168.50,176.17 L168.72,176.28 L168.94,176.39 L169.16,176.50 L169.38,176.60 L169.60,176.71 L169.82,176.82 L170.04,176.93 L170.26,177.04 L170.48,177.16 L170.70,177.28 L170.92,177.40 L171.14,177.53 L171.36,177.66 L171.58,177.80 L171.80,177.93 L172.02,178.07 L172.24,178.21 L172.46,178.35 L172.68,178.49 L172.90,178.63 L173.12,178.77 L173.35,178.91 L173.57,179.06 L173.79,179.20 L174.01,179.34 L174.23,179.48 L174.45,179.62 L174.67,179.75 L174.89,179.89 L175.11,180.02 L175.33,180.15 L175.55,180.28 L175.77,180.40 L175.99,180.52 L176.21,180.64 L176.43,180.75 L176.65,180.86 L176.87,180.96 L177.09,181.06 L177.31,181.15 L177.53,181.24 L177.75,181.33 L177.97,181.41 L178.19,181.49 L178.41,181.56 L178.63,181.64 L178.86,181.71 L179.08,181.78 L179.30,181.85 L179.52,181.92 L179.74,181.99 L179.96,182.05 L180.18,182.12 L180.40,182.18 L180.62,182.24 L180.84,182.30 L181.06,182.36 L181.28,182.42 L181.50,182.48 L181.72,182.54 L181.94,182.60 L182.16,182.66 L182.38,182.72 L182.60,182.77 L182.82,182.83 L183.04,182.89 L183.26,182.95 L183.48,183.01 L183.70,183.07 L183.92,183.13 L184.14,183.19 L184.37,183.26 L184.59,183.32 L184.81,183.39 L185.03,183.45 L185.25,183.52 L185.47,183.59 L185.69,183.66 L185.91,183.73 L186.13,183.80 L186.35,183.87 L186.57,183.95 L186.79,184.02 L187.01,184.09 L187.23,184.17 L187.45,184.24 L187.67,184.32 L187.89,184.40 L188.11,184.47 L188.33,184.55 L188.55,184.63 L188.77,184.70 L188.99,184.78 L189.21,184.86 L189.43,184.93 L189.65,185.01 L189.88,185.09 L190.10,185.16 L190.32,185.24 L190.54,185.31 L190.76,185.39 L190.98,185.46 L191.20,185.54 L191.42,185.61 L191.64,185.69 L191.86,185.76 L192.08,185.83 L192.30,185.90 L192.52,185.97 L192.74,186.04 L192.96,186.11 L193.18,186.18 L193.40,186.24 L193.62,186.31 L193.84,186.37 L194.06,186.44 L194.28,186.50 L194.50,186.56 L194.72,186.62 L194.94,186.67 L195.16,186.73 L195.39,186.78 L195.61,186.84 L195.83,186.89 L196.05,186.94 L196.27,186.98 L196.49,187.03 L196.71,187.07 L196.93,187.12 L197.15,187.16 L197.37,187.20 L197.59,187.24 L197.81,187.29 L198.03,187.33 L198.25,187.37 L198.47,187.41 L198.69,187.45 L198.91,187.49 L199.13,187.53 L199.35,187.57 L199.57,187.61 L199.79,187.65 L200.01,187.69 L200.23,187.73 L200.45,187.76 L200.67,187.80 L200.90,187.84 L201.12,187.87 L201.34,187.91 L201.56,187.95 L201.78,187.98 L202.00,188.02 L202.22,188.05 L202.44,188.09 L202.66,188.12 L202.88,188.16 L203.10,188.19 L203.32,188.22 L203.54,188.26 L203.76,188.29 L203.98,188.32 L204.20,188.35 L204.42,188.39 L204.64,188.42 L204.86,188.45 L205.08,188.48 L205.30,188.51 L205.52,188.54 L205.74,188.57 L205.96,188.61 L206.18,188.64 L206.41,188.67 L206.63,188.70 L206.85,188.73 L207.07,188.75 L207.29,188.78 L207.51,188.81 L207.73,188.84 L207.95,188.87 L208.17,188.90 L208.39,188.93 L208.61,188.96 L208.83,188.98 L209.05,189.01 L209.27,189.04 L209.49,189.07 L209.71,189.09 L209.93,189.12 L210.15,189.15 L210.37,189.18 L210.59,189.20 L210.81,189.23 L211.03,189.26 L211.25,189.28 L211.47,189.31 L211.69,189.34 L211.92,189.36 L212.14,189.39 L212.36,189.41 L212.58,189.44 L212.80,189.47 L213.02,189.49 L213.24,189.52 L213.46,189.54 L213.68,189.57 L213.90,189.60 L214.12,189.62 L214.34,189.65 L214.56,189.67 L214.78,189.70 L215.00,189.72 L215.22,189.75 L215.44,189.77 L215.66,189.80 L215.88,189.82 L216.10,189.85 L216.32,189.88 L216.54,189.90 L216.76,189.93 L216.98,189.95 L217.20,189.98 L217.43,190.00 L217.65,190.03 L217.87,190.05 L218.09,190.08 L218.31,190.11 L218.53,190.13 L218.75,190.16 L218.97,190.18 L219.19,190.21 L219.41,190.23 L219.63,190.26 L219.85,190.29 L220.07,190.31 L220.29,190.34 L220.51,190.37 L220.73,190.39 L220.95,190.42 L221.17,190.44 L221.39,190.47 L221.61,190.50 L221.83,190.52 L222.05,190.55 L222.27,190.58 L222.49,190.60 L222.71,190.63 L222.94,190.66 L223.16,190.68 L223.38,190.71 L223.60,190.73 L223.82,190.76 L224.04,190.79 L224.26,190.81 L224.48,190.84 L224.70,190.87 L224.92,190.89 L225.14,190.92 L225.36,190.94 L225.58,190.97 L225.80,191.00 L226.02,191.02 L226.24,191.05 L226.46,191.07 L226.68,191.10 L226.90,191.12 L227.12,191.15 L227.34,191.18 L227.56,191.20 L227.78,191.23 L228.00,191.25 L228.22,191.28 L228.45,191.30 L228.67,191.33 L228.89,191.35 L229.11,191.38 L229.33,191.40 L229.55,191.42 L229.77,191.45 L229.99,191.47 L230.21,191.50 L230.43,191.52 L230.65,191.55 L230.87,191.57 L231.09,191.59 L231.31,191.62 L231.53,191.64 L231.75,191.66 L231.97,191.69 L232.19,191.71 L232.41,191.73 L232.63,191.75 L232.85,191.78 L233.07,191.80 L233.29,191.82 L233.51,191.84 L233.73,191.86 L233.96,191.88 L234.18,191.91 L234.40,191.93 L234.62,191.95 L234.84,191.97 L235.06,191.99 L235.28,192.01 L235.50,192.03 L235.72,192.05 L235.94,192.07 L236.16,192.09 L236.38,192.11 L236.60,192.12 L236.82,192.14 L237.04,192.16 L237.26,192.18 L237.48,192.20 L237.70,192.22 L237.92,192.23 L238.14,192.25 L238.36,192.27 L238.58,192.28 L238.80,192.30 L239.02,192.32 L239.24,192.33 L239.47,192.35 L239.69,192.36 L239.91,192.38 L240.13,192.39 L240.35,192.41 L240.57,192.42 L240.79,192.43 L241.01,192.45 L241.23,192.46 L241.45,192.47 L241.67,192.48 L241.89,192.50 L242.11,192.51 L242.33,192.52 L242.55,192.53 L242.77,192.54 L242.99,192.56 L243.21,192.57 L243.43,192.58 L243.65,192.59 L243.87,192.60 L244.09,192.61 L244.31,192.62 L244.53,192.63 L244.75,192.65 L244.98,192.66 L245.20,192.67 L245.42,192.68 L245.64,192.69 L245.86,192.70 L246.08,192.71 L246.30,192.72 L246.52,192.73 L246.74,192.74 L246.96,192.75 L247.18,192.76 L247.40,192.77 L247.62,192.78 L247.84,192.79 L248.06,192.80 L248.28,192.81 L248.50,192.82 L248.72,192.83 L248.94,192.84 L249.16,192.85 L249.38,192.86 L249.60,192.87 L249.82,192.88 L250.04,192.88 L250.26,192.89 L250.49,192.90 L250.71,192.91 L250.93,192.92 L251.15,192.93 L251.37,192.94 L251.59,192.95 L251.81,192.96 L252.03,192.96 L252.25,192.97 L252.47,192.98 L252.69,192.99 L252.91,193.00 L253.13,193.00 L253.35,193.01 L253.57,193.02 L253.79,193.03 L254.01,193.04 L254.23,193.04 L254.45,193.05 L254.67,193.06 L254.89,193.07 L255.11,193.08 L255.33,193.08 L255.55,193.09 L255.77,193.10 L256.00,193.11 L256.22,193.11 L256.44,193.12 L256.66,193.13 L256.88,193.13 L257.10,193.14 L257.32,193.15 L257.54,193.16 L257.76,193.16 L257.98,193.17 L258.20,193.18 L258.42,193.18 L258.64,193.19 L258.86,193.20 L259.08,193.20 L259.30,193.21 L259.52,193.22 L259.74,193.22 L259.96,193.23 L260.18,193.24 L260.40,193.24 L260.62,193.25 L260.84,193.26 L261.06,193.26 L261.28,193.27 L261.51,193.27 L261.73,193.28 L261.95,193.29 L262.17,193.29 L262.39,193.30 L262.61,193.31 L262.83,193.31 L263.05,193.32 L263.27,193.32 L263.49,193.33 L263.71,193.33 L263.93,193.34 L264.15,193.35 L264.37,193.35 L264.59,193.36 L264.81,193.36 L265.03,193.37 L265.25,193.38 L265.47,193.38 L265.69,193.39 L265.91,193.39 L266.13,193.40 L266.35,193.40 L266.57,193.41 L266.79,193.41 L267.02,193.42 L267.24,193.42 L267.46,193.43 L267.68,193.43 L267.90,193.44 L268.12,193.45 L268.34,193.45 L268.56,193.46 L268.78,193.46 L269.00,193.47 L269.22,193.47 L269.44,193.47 L269.66,193.48 L269.88,193.48 L270.10,193.49 L270.32,193.49 L270.54,193.50 L270.76,193.50 L270.98,193.51 L271.20,193.51 L271.42,193.52 L271.64,193.52 L271.86,193.53 L272.08,193.53 L272.30,193.54 L272.53,193.54 L272.75,193.54 L272.97,193.55 L273.19,193.55 L273.41,193.56 L273.63,193.56 L273.85,193.57 L274.07,193.57 L274.29,193.57 L274.51,193.58 L274.73,193.58 L274.95,193.59 L275.17,193.59 L275.39,193.60 L275.61,193.60 L275.83,193.60 L276.05,193.61 L276.27,193.61 L276.49,193.62 L276.71,193.62 L276.93,193.62 L277.15,193.63 L277.37,193.63 L277.59,193.64 L277.81,193.64 L278.04,193.64 L278.26,193.65 L278.48,193.65 L278.70,193.66 L278.92,193.66 L279.14,193.66 L279.36,193.67 L279.58,193.67 L279.80,193.67 L280.02,193.68 L280.24,193.68 L280.46,193.69 L280.68,193.69 L280.90,193.69 L281.12,193.70 L281.34,193.70 L281.56,193.71 L281.78,193.71 L282.00,193.71 L282.22,193.72 L282.44,193.72 L282.66,193.72 L282.88,193.73 L283.10,193.73 L283.32,193.74 L283.55,193.74 L283.77,193.74 L283.99,193.75 L284.21,193.75 L284.43,193.76 L284.65,193.76 L284.87,193.76 L285.09,193.77 L285.31,193.77 L285.53,193.77 L285.75,193.78 L285.97,193.78 L286.19,193.79 L286.41,193.79 L286.63,193.79 L286.85,193.80 L287.07,193.80 L287.29,193.81 L287.51,193.81 L287.73,193.81 L287.95,193.82 L288.17,193.82 L288.39,193.83 L288.61,193.83 L288.83,193.83 L289.06,193.84 L289.28,193.84 L289.50,193.85 L289.72,193.85 L289.94,193.86 L290.16,193.86 L290.38,193.86 L290.60,193.87 L290.82,193.87 L291.04,193.88 L291.26,193.88 L291.48,193.89 L291.70,193.89 L291.92,193.89 L292.14,193.90 L292.36,193.90 L292.58,193.91 L292.80,193.91 L293.02,193.92 L293.24,193.92 L293.46,193.93 L293.68,193.93 L293.90,193.93 L294.12,193.94 L294.34,193.94 L294.57,193.95 L294.79,193.95 L295.01,193.96 L295.23,193.96 L295.45,193.96 L295.67,193.97 L295.89,193.97 L296.11,193.98 L296.33,193.98 L296.55,193.99 L296.77,193.99 L296.99,194.00 L297.21,194.00 L297.43,194.00 L297.65,194.01 L297.87,194.01 L298.09,194.02 L298.31,194.02 L298.53,194.03 L298.75,194.03 L298.97,194.04 L299.19,194.04 L299.41,194.04 L299.63,194.05 L299.85,194.05 L300.08,194.06 L300.30,194.06 L300.52,194.07 L300.74,194.07 L300.96,194.08 L301.18,194.08 L301.40,194.08 L301.62,194.09 L301.84,194.09 L302.06,194.10 L302.28,194.10 L302.50,194.11 L302.72,194.11 L302.94,194.12 L303.16,194.12 L303.38,194.13 L303.60,194.13 L303.82,194.13 L304.04,194.14 L304.26,194.14 L304.48,194.15 L304.70,194.15 L304.92,194.16 L305.14,194.16 L305.36,194.17 L305.59,194.17 L305.81,194.17 L306.03,194.18 L306.25,194.18 L306.47,194.19 L306.69,194.19 L306.91,194.20 L307.13,194.20 L307.35,194.21 L307.57,194.21 L307.79,194.21 L308.01,194.22 L308.23,194.22 L308.45,194.23 L308.67,194.23 L308.89,194.24 L309.11,194.24 L309.33,194.25 L309.55,194.25 L309.77,194.26 L309.99,194.26 L310.21,194.26 L310.43,194.27 L310.65,194.27 L310.87,194.28 L311.10,194.28 L311.32,194.29 L311.54,194.29 L311.76,194.30 L311.98,194.30 L312.20,194.31 L312.42,194.31 L312.64,194.31 L312.86,194.32 L313.08,194.32 L313.30,194.33 L313.52,194.33 L313.74,194.34 L313.96,194.34 L314.18,194.35 L314.40,194.35 L314.62,194.36 L314.84,194.36 L315.06,194.36 L315.28,194.37 L315.50,194.37 L315.72,194.38 L315.94,194.38 L316.16,194.39 L316.38,194.39 L316.61,194.40 L316.83,194.40 L317.05,194.41 L317.27,194.41 L317.49,194.41 L317.71,194.42 L317.93,194.42 L318.15,194.43 L318.37,194.43 L318.59,194.44 L318.81,194.44 L319.03,194.45 L319.25,194.45 L319.47,194.46 L319.69,194.46 L319.91,194.46 L320.13,194.47 L320.35,194.47 L320.57,194.48 L320.79,194.48 L321.01,194.49 L321.23,194.49 L321.45,194.50 L321.67,194.50 L321.89,194.51 L322.12,194.51 L322.34,194.52 L322.56,194.52 L322.78,194.52 L323.00,194.53 L323.22,194.53 L323.44,194.54 L323.66,194.54 L323.88,194.55 L324.10,194.55 L324.32,194.56 L324.54,194.56 L324.76,194.57 L324.98,194.57 L325.20,194.58 L325.42,194.58 L325.64,194.58 L325.86,194.59 L326.08,194.59 L326.30,194.60 L326.52,194.60 L326.74,194.61 L326.96,194.61 L327.18,194.62 L327.40,194.62 L327.63,194.63 L327.85,194.63 L328.07,194.64 L328.29,194.64 L328.51,194.64 L328.73,194.65 L328.95,194.65 L329.17,194.66 L329.39,194.66 L329.61,194.67 L329.83,194.67 L330.05,194.68 L330.27,194.68" fill="none" stroke="#2a2aec" stroke-width="2" stroke-linejoin="round"/>
<path d="M111.63,156.67 L111.74,156.15 L111.85,155.69 L111.95,155.24 L112.06,154.79 L112.17,154.34 L112.27,153.88 L112.38,153.43 L112.48,152.98 L112.59,152.53 L112.70,152.09 L112.80,151.67 L112.91,151.26 L113.02,150.87 L113.12,150.50 L113.23,150.15 L113.34,149.83 L113.44,149.54 L113.55,149.29 L113.66,149.07 L113.76,148.88 L113.87,148.71 L113.98,148.54 L114.08,148.37 L114.19,148.20 L114.30,148.05 L114.40,147.89 L114.51,147.75 L114.61,147.61 L114.72,147.47 L114.83,147.35 L114.93,147.23 L115.04,147.13 L115.15,147.03 L115.25,146.94 L115.36,146.87 L115.47,146.80 L115.57,146.75 L115.68,146.71 L115.79,146.69 L115.89,146.67 L116.00,146.66 L116.11,146.65 L116.21,146.64 L116.32,146.63 L116.43,146.62 L116.53,146.61 L116.64,146.60 L116.74,146.59 L116.85,146.58 L116.96,146.58 L117.06,146.57 L117.17,146.57 L117.28,146.56 L117.38,146.56 L117.49,146.55 L117.60,146.55 L117.70,146.55 L117.81,146.55 L117.92,146.55 L118.02,146.55 L118.13,146.55 L118.24,146.55 L118.34,146.55 L118.45,146.55 L118.56,146.56 L118.66,146.56 L118.77,146.57 L118.87,146.57 L118.98,146.58 L119.09,146.58 L119.19,146.59 L119.30,146.61 L119.41,146.66 L119.51,146.73 L119.62,146.82 L119.73,146.93 L119.83,147.05 L119.94,147.20 L120.05,147.36 L120.15,147.53 L120.26,147.71 L120.37,147.91 L120.47,148.12 L120.58,148.33 L120.69,148.55 L120.79,148.78 L120.90,149.01 L121.00,149.25 L121.11,149.49 L121.22,149.72 L121.32,149.96 L121.43,150.19 L121.54,150.42 L121.64,150.65 L121.75,150.90 L121.86,151.15 L121.96,151.42 L122.07,151.69 L122.18,151.98 L122.28,152.28 L122.39,152.58 L122.50,152.90 L122.60,153.21 L122.71,153.54 L122.82,153.87 L122.92,154.21 L123.03,154.55 L123.13,154.90 L123.24,155.25 L123.35,155.60 L123.45,155.96 L123.56,156.32 L123.67,156.68 L123.77,157.04 L123.88,157.43 L123.99,157.84 L124.09,158.27 L124.20,158.73 L124.31,159.29 L124.31,159.29 L124.20,159.09 L124.09,158.81 L123.99,158.53 L123.88,158.25 L123.77,157.98 L123.67,157.73 L123.56,157.47 L123.45,157.20 L123.35,156.93 L123.24,156.67 L123.13,156.40 L123.03,156.13 L122.92,155.86 L122.82,155.59 L122.71,155.33 L122.60,155.07 L122.50,154.81 L122.39,154.56 L122.28,154.32 L122.18,154.08 L122.07,153.85 L121.96,153.63 L121.86,153.41 L121.75,153.21 L121.64,153.01 L121.54,152.83 L121.43,152.65 L121.32,152.46 L121.22,152.26 L121.11,152.07 L121.00,151.87 L120.90,151.67 L120.79,151.48 L120.69,151.29 L120.58,151.10 L120.47,150.92 L120.37,150.74 L120.26,150.57 L120.15,150.42 L120.05,150.27 L119.94,150.14 L119.83,150.02 L119.73,149.91 L119.62,149.83 L119.51,149.76 L119.41,149.71 L119.30,149.68 L119.19,149.67 L119.09,149.68 L118.98,149.69 L118.87,149.69 L118.77,149.70 L118.66,149.70 L118.56,149.71 L118.45,149.71 L118.34,149.71 L118.24,149.71 L118.13,149.72 L118.02,149.72 L117.92,149.72 L117.81,149.72 L117.70,149.71 L117.60,149.71 L117.49,149.71 L117.38,149.71 L117.28,149.70 L117.17,149.70 L117.06,149.69 L116.96,149.69 L116.85,149.68 L116.74,149.67 L116.64,149.66 L116.53,149.66 L116.43,149.65 L116.32,149.64 L116.21,149.63 L116.11,149.61 L116.00,149.60 L115.89,149.59 L115.79,149.58 L115.68,149.57 L115.57,149.58 L115.47,149.60 L115.36,149.63 L115.25,149.68 L115.15,149.73 L115.04,149.79 L114.93,149.86 L114.83,149.93 L114.72,150.02 L114.61,150.11 L114.51,150.20 L114.40,150.30 L114.30,150.41 L114.19,150.52 L114.08,150.63 L113.98,150.75 L113.87,150.86 L113.76,150.98 L113.66,151.11 L113.55,151.27 L113.44,151.46 L113.34,151.69 L113.23,151.94 L113.12,152.22 L113.02,152.52 L112.91,152.84 L112.80,153.17 L112.70,153.51 L112.59,153.86 L112.48,154.22 L112.38,154.57 L112.27,154.93 L112.17,155.27 L112.06,155.61 L111.95,155.93 L111.85,156.24 L111.74,156.50 L111.63,156.67 Z" fill="#60d060" fill-opacity="0.45" stroke="none"/>
<path d="M66.29,199.70 L70.36,86.00 L70.64,88.38 L70.86,93.62 L71.08,98.67 L71.30,103.48 L71.52,107.99 L71.74,112.15 L71.96,115.91 L72.18,119.22 L72.40,122.14 L72.62,124.91 L72.84,127.52 L73.06,129.98 L73.28,132.26 L73.50,134.36 L73.72,136.26 L73.94,137.94 L74.17,139.40 L74.39,140.62 L74.61,141.68 L74.83,142.61 L75.05,143.44 L75.27,144.21 L75.49,144.95 L75.71,145.71 L75.93,146.51 L76.15,147.37 L76.37,148.24 L76.59,149.11 L76.81,149.98 L77.03,150.84 L77.25,151.69 L77.47,152.52 L77.69,153.32 L77.91,154.11 L78.13,154.89 L78.35,155.66 L78.57,156.42 L78.79,157.16 L79.01,157.89 L79.23,158.61 L79.45,159.32 L79.68,160.01 L79.90,160.70 L80.12,161.40 L80.34,162.10 L80.56,162.80 L80.78,163.48 L81.00,164.14 L81.22,164.78 L81.44,165.38 L81.66,165.94 L81.88,166.46 L82.10,166.93 L82.32,167.38 L82.54,167.82 L82.76,168.23 L82.98,168.62 L83.20,168.99 L83.42,169.33 L83.64,169.64 L83.86,169.92 L84.08,170.16 L84.30,170.40 L84.52,170.63 L84.74,170.85 L84.96,171.06 L85.19,171.26 L85.41,171.45 L85.63,171.63 L85.85,171.80 L86.07,171.96 L86.29,172.11 L86.51,172.25 L86.73,172.38 L86.95,172.50 L87.17,172.61 L87.39,172.71 L87.61,172.80 L87.83,172.89 L88.05,172.97 L88.27,173.05 L88.49,173.13 L88.71,173.20 L88.93,173.27 L89.15,173.34 L89.37,173.41 L89.59,173.47 L89.81,173.53 L90.03,173.59 L90.25,173.64 L90.47,173.69 L90.70,173.74 L90.92,173.79 L91.14,173.84 L91.36,173.88 L91.58,173.92 L91.80,173.97 L92.02,174.00 L92.24,174.04 L92.46,174.08 L92.68,174.12 L92.90,174.16 L93.12,174.20 L93.34,174.22 L93.56,174.25 L93.78,174.26 L94.00,174.27 L94.22,174.26 L94.44,174.22 L94.66,174.17 L94.88,174.11 L95.10,174.02 L95.32,173.93 L95.54,173.83 L95.76,173.73 L95.98,173.62 L96.21,173.51 L96.43,173.40 L96.65,173.30 L96.87,173.20 L97.09,173.11 L97.31,173.04 L97.53,172.97 L97.75,172.90 L97.97,172.84 L98.19,172.78 L98.41,172.72 L98.63,172.66 L98.85,172.60 L99.07,172.54 L99.29,172.48 L99.51,172.43 L99.73,172.37 L99.95,172.32 L100.17,172.26 L100.39,172.21 L100.61,172.16 L100.83,172.10 L101.05,172.05 L101.27,171.99 L101.49,171.94 L101.72,171.89 L101.94,171.85 L102.16,171.80 L102.38,171.76 L102.60,171.72 L102.82,171.67 L103.04,171.62 L103.26,171.57 L103.48,171.51 L103.70,171.44 L103.92,171.36 L104.14,171.27 L104.36,171.17 L104.58,171.04 L104.80,170.90 L105.02,170.75 L105.24,170.58 L105.46,170.39 L105.68,170.20 L105.90,169.99 L106.12,169.77 L106.34,169.53 L106.56,169.29 L106.78,169.03 L107.00,168.73 L107.23,168.39 L107.45,168.01 L107.67,167.59 L107.89,167.15 L108.11,166.68 L108.33,166.19 L108.55,165.68 L108.77,165.16 L108.99,164.63 L109.21,164.10 L109.43,163.54 L109.65,162.93 L109.87,162.29 L110.09,161.63 L110.31,160.94 L110.53,160.23 L110.75,159.52 L110.97,158.79 L111.19,158.08 L111.41,157.37 L111.63,156.67 L111.85,155.94 L112.07,155.15 L112.29,154.32 L112.51,153.48 L112.74,152.67 L112.96,151.90 L113.18,151.21 L113.40,150.61 L113.62,150.15 L113.84,149.83 L114.06,149.53 L114.28,149.25 L114.50,148.99 L114.72,148.75 L114.94,148.54 L115.16,148.37 L115.38,148.24 L115.60,148.16 L115.82,148.13 L116.04,148.13 L116.26,148.13 L116.48,148.13 L116.70,148.13 L116.92,148.13 L117.14,148.13 L117.36,148.13 L117.58,148.13 L117.80,148.13 L118.02,148.13 L118.25,148.13 L118.47,148.13 L118.69,148.13 L118.91,148.13 L119.13,148.13 L119.35,148.16 L119.57,148.28 L119.79,148.49 L120.01,148.76 L120.23,149.09 L120.45,149.47 L120.67,149.89 L120.89,150.33 L121.11,150.78 L121.33,151.22 L121.55,151.65 L121.77,152.10 L121.99,152.59 L122.21,153.12 L122.43,153.69 L122.65,154.28 L122.87,154.90 L123.09,155.53 L123.31,156.17 L123.53,156.82 L123.76,157.46 L123.98,158.14 L124.20,158.90 L124.42,159.68 L124.64,160.47 L124.86,161.22 L125.08,161.91 L125.30,162.50 L125.52,162.96 L125.74,163.38 L125.96,163.77 L126.18,164.13 L126.40,164.47 L126.62,164.79 L126.84,165.09 L127.06,165.37 L127.28,165.65 L127.50,165.92 L127.72,166.18 L127.94,166.44 L128.16,166.70 L128.38,166.96 L128.60,167.21 L128.82,167.46 L129.04,167.71 L129.27,167.95 L129.49,168.18 L129.71,168.41 L129.93,168.63 L130.15,168.85 L130.37,169.06 L130.59,169.26 L130.81,169.47 L131.03,169.66 L131.25,169.86 L131.47,170.04 L131.69,170.23 L131.91,170.42 L132.13,170.61 L132.35,170.80 L132.57,170.98 L132.79,171.16 L133.01,171.34 L133.23,171.51 L133.45,171.67 L133.67,171.83 L133.89,171.97 L134.11,172.10 L134.33,172.22 L134.55,172.33 L134.78,172.42 L135.00,172.50 L135.22,172.58 L135.44,172.65 L135.66,172.72 L135.88,172.79 L136.10,172.86 L136.32,172.92 L136.54,172.98 L136.76,173.04 L136.98,173.09 L137.20,173.15 L137.42,173.20 L137.64,173.25 L137.86,173.30 L138.08,173.35 L138.30,173.39 L138.52,173.44 L138.74,173.48 L138.96,173.52 L139.18,173.57 L139.40,173.61 L139.62,173.65 L139.84,173.69 L140.06,173.73 L140.29,173.77 L140.51,173.81 L140.73,173.85 L140.95,173.89 L141.17,173.93 L141.39,173.97 L141.61,174.01 L141.83,174.05 L142.05,174.09 L142.27,174.14 L142.49,174.18 L142.71,174.23 L142.93,174.27 L143.15,174.32 L143.37,174.37 L143.59,174.42 L143.81,174.47 L144.03,174.52 L144.25,174.57 L144.47,174.62 L144.69,174.66 L144.91,174.71 L145.13,174.76 L145.35,174.81 L145.57,174.86 L145.80,174.90 L146.02,174.95 L146.24,174.99 L146.46,175.03 L146.68,175.07 L146.90,175.11 L147.12,175.15 L147.34,175.18 L147.56,175.21 L147.78,175.24 L148.00,175.27 L148.22,175.29 L148.44,175.31 L148.66,175.33 L148.88,175.35 L149.10,175.37 L149.32,175.39 L149.54,175.41 L149.76,175.42 L149.98,175.44 L150.20,175.46 L150.42,175.47 L150.64,175.49 L150.86,175.51 L151.08,175.52 L151.31,175.54 L151.53,175.55 L151.75,175.57 L151.97,175.58 L152.19,175.60 L152.41,175.61 L152.63,175.62 L152.85,175.63 L153.07,175.65 L153.29,175.66 L153.51,175.67 L153.73,175.68 L153.95,175.69 L154.17,175.70 L154.39,175.71 L154.61,175.72 L154.83,175.72 L155.05,175.73 L155.27,175.74 L155.49,175.74 L155.71,175.75 L155.93,175.75 L156.15,175.76 L156.37,175.76 L156.59,175.76 L156.82,175.76 L157.04,175.76 L157.26,175.76 L157.48,175.76 L157.70,175.75 L157.92,175.75 L158.14,175.74 L158.36,175.72 L158.58,175.71 L158.80,175.70 L159.02,175.68 L159.24,175.66 L159.46,175.64 L159.68,175.62 L159.90,175.60 L160.12,175.58 L160.34,175.56 L160.56,175.54 L160.78,175.52 L161.00,175.50 L161.22,175.48 L161.44,175.46 L161.66,175.44 L161.88,175.42 L162.10,175.40 L162.33,175.39 L162.55,175.37 L162.77,175.36 L162.99,175.35 L163.21,175.34 L163.43,175.33 L163.65,175.33 L163.87,175.32 L164.09,175.33 L164.31,175.34 L164.53,175.37 L164.75,175.40 L164.97,175.45 L165.19,175.51 L165.41,175.58 L165.63,175.66 L165.85,175.75 L166.07,175.84 L166.29,175.94 L166.51,176.05 L166.73,176.16 L166.95,176.28 L167.17,176.40 L167.39,176.52 L167.61,176.65 L167.84,176.77 L168.06,176.90 L168.28,177.03 L168.50,177.16 L168.72,177.29 L168.94,177.41 L169.16,177.53 L169.38,177.65 L169.60,177.77 L169.82,177.88 L170.04,177.98 L170.26,178.10 L170.48,178.21 L170.70,178.33 L170.92,178.45 L171.14,178.57 L171.36,178.69 L171.58,178.82 L171.80,178.94 L172.02,179.07 L172.24,179.20 L172.46,179.33 L172.68,179.46 L172.90,179.59 L173.12,179.73 L173.35,179.86 L173.57,179.99 L173.79,180.12 L174.01,180.25 L174.23,180.38 L174.45,180.51 L174.67,180.64 L174.89,180.77 L175.11,180.90 L175.33,181.02 L175.55,181.14 L175.77,181.26 L175.99,181.38 L176.21,181.50 L176.43,181.61 L176.65,181.72 L176.87,181.82 L177.09,181.93 L177.31,182.03 L177.53,182.12 L177.75,182.22 L177.97,182.31 L178.19,182.40 L178.41,182.49 L178.63,182.58 L178.86,182.67 L179.08,182.76 L179.30,182.85 L179.52,182.93 L179.74,183.02 L179.96,183.10 L180.18,183.18 L180.40,183.27 L180.62,183.35 L180.84,183.43 L181.06,183.51 L181.28,183.58 L181.50,183.66 L181.72,183.74 L181.94,183.81 L182.16,183.88 L182.38,183.96 L182.60,184.03 L182.82,184.10 L183.04,184.17 L183.26,184.24 L183.48,184.31 L183.70,184.38 L183.92,184.45 L184.14,184.51 L184.37,184.58 L184.59,184.64 L184.81,184.71 L185.03,184.77 L185.25,184.83 L185.47,184.90 L185.69,184.96 L185.91,185.02 L186.13,185.08 L186.35,185.15 L186.57,185.21 L186.79,185.27 L187.01,185.33 L187.23,185.39 L187.45,185.45 L187.67,185.51 L187.89,185.56 L188.11,185.62 L188.33,185.68 L188.55,185.74 L188.77,185.80 L188.99,185.85 L189.21,185.91 L189.43,185.96 L189.65,186.02 L189.88,186.07 L190.10,186.13 L190.32,186.18 L190.54,186.24 L190.76,186.29 L190.98,186.34 L191.20,186.39 L191.42,186.44 L191.64,186.50 L191.86,186.55 L192.08,186.60 L192.30,186.65 L192.52,186.69 L192.74,186.74 L192.96,186.79 L193.18,186.84 L193.40,186.88 L193.62,186.93 L193.84,186.97 L194.06,187.02 L194.28,187.06 L194.50,187.11 L194.72,187.15 L194.94,187.19 L195.16,187.23 L195.39,187.27 L195.61,187.31 L195.83,187.35 L196.05,187.39 L196.27,187.43 L196.49,187.47 L196.71,187.51 L196.93,187.54 L197.15,187.58 L197.37,187.61 L197.59,187.65 L197.81,187.69 L198.03,187.72 L198.25,187.76 L198.47,187.79 L198.69,187.82 L198.91,187.86 L199.13,187.89 L199.35,187.92 L199.57,187.96 L199.79,187.99 L200.01,188.02 L200.23,188.06 L200.45,188.09 L200.67,188.12 L200.90,188.15 L201.12,188.18 L201.34,188.21 L201.56,188.24 L201.78,188.27 L202.00,188.30 L202.22,188.33 L202.44,188.36 L202.66,188.39 L202.88,188.42 L203.10,188.45 L203.32,188.48 L203.54,188.51 L203.76,188.54 L203.98,188.57 L204.20,188.60 L204.42,188.62 L204.64,188.65 L204.86,188.68 L205.08,188.71 L205.30,188.73 L205.52,188.76 L205.74,188.79 L205.96,188.81 L206.18,188.84 L206.41,188.87 L206.63,188.89 L206.85,188.92 L207.07,188.95 L207.29,188.97 L207.51,189.00 L207.73,189.02 L207.95,189.05 L208.17,189.07 L208.39,189.10 L208.61,189.13 L208.83,189.15 L209.05,189.18 L209.27,189.20 L209.49,189.23 L209.71,189.25 L209.93,189.28 L210.15,189.30 L210.37,189.32 L210.59,189.35 L210.81,189.37 L211.03,189.40 L211.25,189.42 L211.47,189.45 L211.69,189.47 L211.92,189.49 L212.14,189.52 L212.36,189.54 L212.58,189.57 L212.80,189.59 L213.02,189.62 L213.24,189.64 L213.46,189.66 L213.68,189.69 L213.90,189.71 L214.12,189.74 L214.34,189.76 L214.56,189.78 L214.78,189.81 L215.00,189.83 L215.22,189.86 L215.44,189.88 L215.66,189.90 L215.88,189.93 L216.10,189.95 L216.32,189.98 L216.54,190.00 L216.76,190.02 L216.98,190.05 L217.20,190.07 L217.43,190.10 L217.65,190.12 L217.87,190.15 L218.09,190.17 L218.31,190.20 L218.53,190.22 L218.75,190.25 L218.97,190.27 L219.19,190.30 L219.41,190.32 L219.63,190.35 L219.85,190.37 L220.07,190.40 L220.29,190.42 L220.51,190.45 L220.73,190.48 L220.95,190.50 L221.17,190.53 L221.39,190.55 L221.61,190.58 L221.83,190.61 L222.05,190.63 L222.27,190.66 L222.49,190.69 L222.71,190.71 L222.94,190.74 L223.16,190.77 L223.38,190.79 L223.60,190.82 L223.82,190.85 L224.04,190.87 L224.26,190.90 L224.48,190.93 L224.70,190.96 L224.92,190.98 L225.14,191.01 L225.36,191.04 L225.58,191.06 L225.80,191.09 L226.02,191.12 L226.24,191.14 L226.46,191.17 L226.68,191.20 L226.90,191.22 L227.12,191.25 L227.34,191.28 L227.56,191.30 L227.78,191.33 L228.00,191.36 L228.22,191.38 L228.45,191.41 L228.67,191.44 L228.89,191.46 L229.11,191.49 L229.33,191.51 L229.55,191.54 L229.77,191.57 L229.99,191.59 L230.21,191.62 L230.43,191.64 L230.65,191.67 L230.87,191.69 L231.09,191.72 L231.31,191.74 L231.53,191.77 L231.75,191.79 L231.97,191.82 L232.19,191.84 L232.41,191.87 L232.63,191.89 L232.85,191.91 L233.07,191.94 L233.29,191.96 L233.51,191.98 L233.73,192.01 L233.96,192.03 L234.18,192.05 L234.40,192.07 L234.62,192.10 L234.84,192.12 L235.06,192.14 L235.28,192.16 L235.50,192.18 L235.72,192.20 L235.94,192.22 L236.16,192.24 L236.38,192.26 L236.60,192.28 L236.82,192.30 L237.04,192.32 L237.26,192.34 L237.48,192.36 L237.70,192.38 L237.92,192.40 L238.14,192.42 L238.36,192.43 L238.58,192.45 L238.80,192.47 L239.02,192.49 L239.24,192.50 L239.47,192.52 L239.69,192.53 L239.91,192.55 L240.13,192.56 L240.35,192.58 L240.57,192.59 L240.79,192.61 L241.01,192.62 L241.23,192.63 L241.45,192.65 L241.67,192.66 L241.89,192.67 L242.11,192.68 L242.33,192.70 L242.55,192.71 L242.77,192.72 L242.99,192.73 L243.21,192.74 L243.43,192.76 L243.65,192.77 L243.87,192.78 L244.09,192.79 L244.31,192.80 L244.53,192.81 L244.75,192.82 L244.98,192.83 L245.20,192.84 L245.42,192.86 L245.64,192.87 L245.86,192.88 L246.08,192.89 L246.30,192.90 L246.52,192.91 L246.74,192.92 L246.96,192.93 L247.18,192.94 L247.40,192.95 L247.62,192.96 L247.84,192.97 L248.06,192.98 L248.28,192.99 L248.50,193.00 L248.72,193.01 L248.94,193.02 L249.16,193.03 L249.38,193.04 L249.60,193.04 L249.82,193.05 L250.04,193.06 L250.26,193.07 L250.49,193.08 L250.71,193.09 L250.93,193.10 L251.15,193.11 L251.37,193.12 L251.59,193.12 L251.81,193.13 L252.03,193.14 L252.25,193.15 L252.47,193.16 L252.69,193.17 L252.91,193.17 L253.13,193.18 L253.35,193.19 L253.57,193.20 L253.79,193.21 L254.01,193.21 L254.23,193.22 L254.45,193.23 L254.67,193.24 L254.89,193.25 L255.11,193.25 L255.33,193.26 L255.55,193.27 L255.77,193.28 L256.00,193.28 L256.22,193.29 L256.44,193.30 L256.66,193.30 L256.88,193.31 L257.10,193.32 L257.32,193.33 L257.54,193.33 L257.76,193.34 L257.98,193.35 L258.20,193.35 L258.42,193.36 L258.64,193.37 L258.86,193.37 L259.08,193.38 L259.30,193.39 L259.52,193.39 L259.74,193.40 L259.96,193.41 L260.18,193.41 L260.40,193.42 L260.62,193.43 L260.84,193.43 L261.06,193.44 L261.28,193.44 L261.51,193.45 L261.73,193.46 L261.95,193.46 L262.17,193.47 L262.39,193.48 L262.61,193.48 L262.83,193.49 L263.05,193.49 L263.27,193.50 L263.49,193.51 L263.71,193.51 L263.93,193.52 L264.15,193.52 L264.37,193.53 L264.59,193.53 L264.81,193.54 L265.03,193.55 L265.25,193.55 L265.47,193.56 L265.69,193.56 L265.91,193.57 L266.13,193.57 L266.35,193.58 L266.57,193.58 L266.79,193.59 L267.02,193.60 L267.24,193.60 L267.46,193.61 L267.68,193.61 L267.90,193.62 L268.12,193.62 L268.34,193.63 L268.56,193.63 L268.78,193.64 L269.00,193.64 L269.22,193.65 L269.44,193.65 L269.66,193.66 L269.88,193.66 L270.10,193.67 L270.32,193.67 L270.54,193.68 L270.76,193.68 L270.98,193.69 L271.20,193.69 L271.42,193.69 L271.64,193.70 L271.86,193.70 L272.08,193.71 L272.30,193.71 L272.53,193.72 L272.75,193.72 L272.97,193.73 L273.19,193.73 L273.41,193.74 L273.63,193.74 L273.85,193.74 L274.07,193.75 L274.29,193.75 L274.51,193.76 L274.73,193.76 L274.95,193.77 L275.17,193.77 L275.39,193.77 L275.61,193.78 L275.83,193.78 L276.05,193.79 L276.27,193.79 L276.49,193.79 L276.71,193.80 L276.93,193.80 L277.15,193.81 L277.37,193.81 L277.59,193.82 L277.81,193.82 L278.04,193.82 L278.26,193.83 L278.48,193.83 L278.70,193.83 L278.92,193.84 L279.14,193.84 L279.36,193.85 L279.58,193.85 L279.80,193.85 L280.02,193.86 L280.24,193.86 L280.46,193.87 L280.68,193.87 L280.90,193.87 L281.12,193.88 L281.34,193.88 L281.56,193.89 L281.78,193.89 L282.00,193.89 L282.22,193.90 L282.44,193.90 L282.66,193.90 L282.88,193.91 L283.10,193.91 L283.32,193.92 L283.55,193.92 L283.77,193.92 L283.99,193.93 L284.21,193.93 L284.43,193.94 L284.65,193.94 L284.87,193.94 L285.09,193.95 L285.31,193.95 L285.53,193.95 L285.75,193.96 L285.97,193.96 L286.19,193.97 L286.41,193.97 L286.63,193.97 L286.85,193.98 L287.07,193.98 L287.29,193.99 L287.51,193.99 L287.73,193.99 L287.95,194.00 L288.17,194.00 L288.39,194.01 L288.61,194.01 L288.83,194.01 L289.06,194.02 L289.28,194.02 L289.50,194.03 L289.72,194.03 L289.94,194.03 L290.16,194.04 L290.38,194.04 L290.60,194.05 L290.82,194.05 L291.04,194.05 L291.26,194.06 L291.48,194.06 L291.70,194.07 L291.92,194.07 L292.14,194.07 L292.36,194.08 L292.58,194.08 L292.80,194.09 L293.02,194.09 L293.24,194.10 L293.46,194.10 L293.68,194.10 L293.90,194.11 L294.12,194.11 L294.34,194.12 L294.57,194.12 L294.79,194.12 L295.01,194.13 L295.23,194.13 L295.45,194.14 L295.67,194.14 L295.89,194.14 L296.11,194.15 L296.33,194.15 L296.55,194.16 L296.77,194.16 L296.99,194.17 L297.21,194.17 L297.43,194.17 L297.65,194.18 L297.87,194.18 L298.09,194.19 L298.31,194.19 L298.53,194.19 L298.75,194.20 L298.97,194.20 L299.19,194.21 L299.41,194.21 L299.63,194.22 L299.85,194.22 L300.08,194.22 L300.30,194.23 L300.52,194.23 L300.74,194.24 L300.96,194.24 L301.18,194.24 L301.40,194.25 L301.62,194.25 L301.84,194.26 L302.06,194.26 L302.28,194.26 L302.50,194.27 L302.72,194.27 L302.94,194.28 L303.16,194.28 L303.38,194.28 L303.60,194.29 L303.82,194.29 L304.04,194.30 L304.26,194.30 L304.48,194.31 L304.70,194.31 L304.92,194.31 L305.14,194.32 L305.36,194.32 L305.59,194.33 L305.81,194.33 L306.03,194.33 L306.25,194.34 L306.47,194.34 L306.69,194.35 L306.91,194.35 L307.13,194.35 L307.35,194.36 L307.57,194.36 L307.79,194.37 L308.01,194.37 L308.23,194.37 L308.45,194.38 L308.67,194.38 L308.89,194.39 L309.11,194.39 L309.33,194.39 L309.55,194.40 L309.77,194.40 L309.99,194.41 L310.21,194.41 L310.43,194.41 L310.65,194.42 L310.87,194.42 L311.10,194.43 L311.32,194.43 L311.54,194.43 L311.76,194.44 L311.98,194.44 L312.20,194.45 L312.42,194.45 L312.64,194.46 L312.86,194.46 L313.08,194.46 L313.30,194.47 L313.52,194.47 L313.74,194.48 L313.96,194.48 L314.18,194.48 L314.40,194.49 L314.62,194.49 L314.84,194.50 L315.06,194.50 L315.28,194.50 L315.50,194.51 L315.72,194.51 L315.94,194.52 L316.16,194.52 L316.38,194.52 L316.61,194.53 L316.83,194.53 L317.05,194.54 L317.27,194.54 L317.49,194.54 L317.71,194.55 L317.93,194.55 L318.15,194.55 L318.37,194.56 L318.59,194.56 L318.81,194.57 L319.03,194.57 L319.25,194.57 L319.47,194.58 L319.69,194.58 L319.91,194.59 L320.13,194.59 L320.35,194.59 L320.57,194.60 L320.79,194.60 L321.01,194.61 L321.23,194.61 L321.45,194.61 L321.67,194.62 L321.89,194.62 L322.12,194.63 L322.34,194.63 L322.56,194.63 L322.78,194.64 L323.00,194.64 L323.22,194.65 L323.44,194.65 L323.66,194.65 L323.88,194.66 L324.10,194.66 L324.32,194.67 L324.54,194.67 L324.76,194.67 L324.98,194.68 L325.20,194.68 L325.42,194.68 L325.64,194.69 L325.86,194.69 L326.08,194.70 L326.30,194.70 L326.52,194.70 L326.74,194.71 L326.96,194.71 L327.18,194.72 L327.40,194.72 L327.63,194.72 L327.85,194.73 L328.07,194.73 L328.29,194.74 L328.51,194.74 L328.73,194.74 L328.95,194.75 L329.17,194.75 L329.39,194.75 L329.61,194.76 L329.83,194.76 L330.05,194.77 L330.27,194.77" fill="none" stroke="#1a901a" stroke-width="2" stroke-linejoin="round"/>
<path d="M65.90,22.9 V199.70 H330.38" fill="none" stroke="#000" stroke-width="1.8"/>
<line x1="58.70" y1="199.70" x2="65.90" y2="199.70" stroke="#000" stroke-width="1.8"/>
<line x1="58.70" y1="155.63" x2="65.90" y2="155.63" stroke="#000" stroke-width="1.8"/>
<line x1="58.70" y1="111.56" x2="65.90" y2="111.56" stroke="#000" stroke-width="1.8"/>
<line x1="58.70" y1="67.49" x2="65.90" y2="67.49" stroke="#000" stroke-width="1.8"/>
<line x1="58.70" y1="23.42" x2="65.90" y2="23.42" stroke="#000" stroke-width="1.8"/>
<line x1="65.90" y1="199.70" x2="65.90" y2="206.70" stroke="#000" stroke-width="1.8"/>
<line x1="76.92" y1="199.70" x2="76.92" y2="203.70" stroke="#000" stroke-width="1.8"/>
<line x1="87.94" y1="199.70" x2="87.94" y2="203.70" stroke="#000" stroke-width="1.8"/>
<line x1="98.96" y1="199.70" x2="98.96" y2="203.70" stroke="#000" stroke-width="1.8"/>
<line x1="109.98" y1="199.70" x2="109.98" y2="203.70" stroke="#000" stroke-width="1.8"/>
<line x1="121.00" y1="199.70" x2="121.00" y2="203.70" stroke="#000" stroke-width="1.8"/>
<line x1="132.02" y1="199.70" x2="132.02" y2="203.70" stroke="#000" stroke-width="1.8"/>
<line x1="143.04" y1="199.70" x2="143.04" y2="203.70" stroke="#000" stroke-width="1.8"/>
<line x1="154.06" y1="199.70" x2="154.06" y2="203.70" stroke="#000" stroke-width="1.8"/>
<line x1="165.08" y1="199.70" x2="165.08" y2="203.70" stroke="#000" stroke-width="1.8"/>
<line x1="176.10" y1="199.70" x2="176.10" y2="206.70" stroke="#000" stroke-width="1.8"/>
<line x1="187.12" y1="199.70" x2="187.12" y2="203.70" stroke="#000" stroke-width="1.8"/>
<line x1="198.14" y1="199.70" x2="198.14" y2="203.70" stroke="#000" stroke-width="1.8"/>
<line x1="209.16" y1="199.70" x2="209.16" y2="203.70" stroke="#000" stroke-width="1.8"/>
<line x1="220.18" y1="199.70" x2="220.18" y2="203.70" stroke="#000" stroke-width="1.8"/>
<line x1="231.20" y1="199.70" x2="231.20" y2="203.70" stroke="#000" stroke-width="1.8"/>
<line x1="242.22" y1="199.70" x2="242.22" y2="203.70" stroke="#000" stroke-width="1.8"/>
<line x1="253.24" y1="199.70" x2="253.24" y2="203.70" stroke="#000" stroke-width="1.8"/>
<line x1="264.26" y1="199.70" x2="264.26" y2="203.70" stroke="#000" stroke-width="1.8"/>
<line x1="275.28" y1="199.70" x2="275.28" y2="203.70" stroke="#000" stroke-width="1.8"/>
<line x1="286.30" y1="199.70" x2="286.30" y2="206.70" stroke="#000" stroke-width="1.8"/>
<line x1="297.32" y1="199.70" x2="297.32" y2="203.70" stroke="#000" stroke-width="1.8"/>
<line x1="308.34" y1="199.70" x2="308.34" y2="203.70" stroke="#000" stroke-width="1.8"/>
<line x1="319.36" y1="199.70" x2="319.36" y2="203.70" stroke="#000" stroke-width="1.8"/>
<line x1="330.38" y1="199.70" x2="330.38" y2="203.70" stroke="#000" stroke-width="1.8"/>
<text transform="translate(56.40 204.20) scale(1.03 1)" font-size="13" font-weight="bold" font-style="normal" text-anchor="end" fill="#000">0.00</text>
<text transform="translate(56.40 160.13) scale(1.03 1)" font-size="13" font-weight="bold" font-style="normal" text-anchor="end" fill="#000">0.05</text>
<text transform="translate(56.40 116.06) scale(1.03 1)" font-size="13" font-weight="bold" font-style="normal" text-anchor="end" fill="#000">0.10</text>
<text transform="translate(56.40 71.99) scale(1.03 1)" font-size="13" font-weight="bold" font-style="normal" text-anchor="end" fill="#000">0.15</text>
<text transform="translate(56.40 27.92) scale(1.03 1)" font-size="13" font-weight="bold" font-style="normal" text-anchor="end" fill="#000">0.20</text>
<text transform="translate(65.90 222.00) scale(1.03 1)" font-size="13" font-weight="bold" font-style="normal" text-anchor="middle" fill="#000">0</text>
<text transform="translate(176.10 222.00) scale(1.03 1)" font-size="13" font-weight="bold" font-style="normal" text-anchor="middle" fill="#000">20</text>
<text transform="translate(286.30 222.00) scale(1.03 1)" font-size="13" font-weight="bold" font-style="normal" text-anchor="middle" fill="#000">40</text>
<text transform="translate(198.00 243.20) scale(1.065 1)" font-size="13.7" font-weight="bold" font-style="normal" text-anchor="middle" fill="#000">Frequency (Hz)</text>
<text transform="translate(12.60 110.80) rotate(-90) scale(1.04 1)" font-size="14" font-weight="bold" font-style="normal" text-anchor="middle" fill="#000">normalized power [a.u.]</text>
<text transform="translate(1.20 15.00)" font-size="18.5" font-weight="bold" font-style="normal" text-anchor="start" fill="#000">A</text>
<line x1="261.8" y1="35.3" x2="281" y2="35.3" stroke="#52b052" stroke-width="1.6"/>
<text transform="translate(291.00 39.60) scale(1.05 1)" font-size="13.5" font-weight="normal" font-style="normal" text-anchor="start" fill="#000">BL</text>
<line x1="261.8" y1="59.1" x2="281" y2="59.1" stroke="#5a5af5" stroke-width="1.6"/>
<text transform="translate(291.00 63.40) scale(1.05 1)" font-size="13.5" font-weight="normal" font-style="normal" text-anchor="start" fill="#000">FU1</text>
<line x1="261.8" y1="82.8" x2="281" y2="82.8" stroke="#f55a5a" stroke-width="1.6"/>
<text transform="translate(291.00 87.10) scale(1.05 1)" font-size="13.5" font-weight="normal" font-style="normal" text-anchor="start" fill="#000">FU2</text>
<path d="M440.88,102.09 L440.92,100.52 L440.95,99.15 L440.99,97.81 L441.03,96.49 L441.06,95.19 L441.10,93.90 L441.14,92.62 L441.18,91.34 L441.21,90.07 L441.25,88.80 L441.29,87.54 L441.32,86.28 L441.36,85.03 L441.40,83.78 L441.43,82.53 L441.47,81.28 L441.51,80.04 L441.55,78.80 L441.58,77.56 L441.62,76.32 L441.66,75.09 L441.69,73.86 L441.73,72.63 L441.77,71.40 L441.80,70.17 L441.84,68.95 L441.88,67.73 L441.92,66.51 L441.95,65.29 L441.99,64.07 L442.03,62.85 L442.06,61.64 L442.10,60.43 L442.14,59.22 L442.17,58.01 L442.21,56.80 L442.25,55.59 L442.29,54.39 L442.32,53.18 L442.36,51.98 L442.40,50.78 L442.43,49.58 L442.47,48.39 L442.51,47.19 L442.54,46.00 L442.58,44.81 L442.62,43.61 L442.65,43.07 L442.69,43.51 L442.73,43.94 L442.77,44.38 L442.80,44.82 L442.84,45.26 L442.88,45.70 L442.91,46.14 L442.95,46.58 L442.99,47.03 L443.02,47.48 L443.06,47.92 L443.10,48.37 L443.14,48.83 L443.17,49.33 L443.21,50.25 L443.25,51.15 L443.28,52.06 L443.32,52.96 L443.36,53.85 L443.39,54.75 L443.43,55.64 L443.47,56.52 L443.51,57.40 L443.54,58.28 L443.58,59.15 L443.62,60.02 L443.65,60.88 L443.69,61.74 L443.73,62.60 L443.76,63.45 L443.80,64.30 L443.84,65.15 L443.87,65.99 L443.91,66.82 L443.95,67.66 L443.99,68.49 L444.02,69.31 L444.06,70.13 L444.10,70.95 L444.13,71.76 L444.17,72.57 L444.21,73.37 L444.24,74.18 L444.28,74.97 L444.32,75.76 L444.36,76.55 L444.39,77.34 L444.43,78.12 L444.47,78.90 L444.50,79.67 L444.54,80.44 L444.58,81.21 L444.61,81.97 L444.65,82.73 L444.69,83.49 L444.73,84.24 L444.76,84.99 L444.80,85.74 L444.84,86.48 L444.87,87.22 L444.91,87.96 L444.95,88.70 L444.98,89.44 L445.02,90.18 L445.06,90.92 L445.10,91.66 L445.13,92.40 L445.17,93.15 L445.21,93.92 L445.24,94.72 L445.28,95.71 L445.28,95.71 L445.24,95.52 L445.21,95.13 L445.17,94.69 L445.13,94.23 L445.10,93.74 L445.06,93.24 L445.02,92.73 L444.98,92.20 L444.95,91.66 L444.91,91.11 L444.87,90.55 L444.84,89.98 L444.80,89.40 L444.76,88.81 L444.73,88.22 L444.69,87.61 L444.65,87.00 L444.61,86.38 L444.58,85.75 L444.54,85.11 L444.50,84.46 L444.47,83.81 L444.43,83.15 L444.39,82.48 L444.36,81.80 L444.32,81.12 L444.28,80.43 L444.24,79.73 L444.21,79.02 L444.17,78.31 L444.13,77.59 L444.10,76.86 L444.06,76.13 L444.02,75.38 L443.99,74.63 L443.95,73.88 L443.91,73.11 L443.87,72.34 L443.84,71.56 L443.80,70.78 L443.76,69.99 L443.73,69.19 L443.69,68.38 L443.65,67.57 L443.62,66.75 L443.58,65.92 L443.54,65.09 L443.51,64.25 L443.47,63.40 L443.43,62.54 L443.39,61.68 L443.36,60.81 L443.32,59.94 L443.28,59.05 L443.25,58.16 L443.21,57.27 L443.17,56.36 L443.14,55.86 L443.10,55.41 L443.06,54.96 L443.02,54.51 L442.99,54.06 L442.95,53.61 L442.91,53.15 L442.88,52.69 L442.84,52.23 L442.80,51.77 L442.77,51.31 L442.73,50.85 L442.69,50.38 L442.65,49.92 L442.62,50.42 L442.58,51.58 L442.54,52.73 L442.51,53.88 L442.47,55.03 L442.43,56.17 L442.40,57.32 L442.36,58.46 L442.32,59.60 L442.29,60.74 L442.25,61.88 L442.21,63.02 L442.17,64.15 L442.14,65.29 L442.10,66.42 L442.06,67.55 L442.03,68.68 L441.99,69.81 L441.95,70.94 L441.92,72.06 L441.88,73.18 L441.84,74.30 L441.80,75.42 L441.77,76.54 L441.73,77.66 L441.69,78.77 L441.66,79.88 L441.62,80.99 L441.58,82.10 L441.55,83.20 L441.51,84.30 L441.47,85.41 L441.43,86.50 L441.40,87.60 L441.36,88.69 L441.32,89.78 L441.29,90.86 L441.25,91.95 L441.21,93.02 L441.18,94.10 L441.14,95.16 L441.10,96.22 L441.06,97.28 L441.03,98.32 L440.99,99.34 L440.95,100.35 L440.92,101.32 L440.88,102.09 Z" fill="#ff8080" fill-opacity="0.45" stroke="none"/>
<path d="M509.52,151.55 L509.67,151.09 L509.82,150.76 L509.96,150.47 L510.11,150.18 L510.26,149.91 L510.41,149.65 L510.56,149.40 L510.70,149.15 L510.85,148.91 L511.00,148.67 L511.15,148.45 L511.29,148.22 L511.44,148.01 L511.59,147.80 L511.74,147.60 L511.89,147.40 L512.03,147.19 L512.18,146.98 L512.33,146.77 L512.48,146.57 L512.63,146.37 L512.77,146.17 L512.92,145.99 L513.07,145.81 L513.22,145.64 L513.37,145.49 L513.51,145.36 L513.66,145.24 L513.81,145.14 L513.96,145.06 L514.10,144.98 L514.25,144.91 L514.40,144.84 L514.55,144.78 L514.70,144.71 L514.84,144.65 L514.99,144.59 L515.14,144.53 L515.29,144.48 L515.44,144.43 L515.58,144.38 L515.73,144.33 L515.88,144.28 L516.03,144.24 L516.18,144.20 L516.32,144.16 L516.47,144.13 L516.62,144.09 L516.77,144.06 L516.91,144.03 L517.06,144.01 L517.21,143.99 L517.36,143.97 L517.51,143.95 L517.65,143.94 L517.80,143.93 L517.95,143.92 L518.10,143.91 L518.25,143.91 L518.39,143.91 L518.54,143.91 L518.69,143.92 L518.84,143.92 L518.99,143.93 L519.13,143.94 L519.28,143.96 L519.43,143.97 L519.58,143.99 L519.73,144.01 L519.87,144.03 L520.02,144.06 L520.17,144.09 L520.32,144.12 L520.46,144.15 L520.61,144.18 L520.76,144.22 L520.91,144.26 L521.06,144.30 L521.20,144.34 L521.35,144.38 L521.50,144.43 L521.65,144.48 L521.80,144.53 L521.94,144.58 L522.09,144.64 L522.24,144.70 L522.39,144.76 L522.54,144.82 L522.68,144.88 L522.83,144.95 L522.98,145.04 L523.13,145.15 L523.27,145.27 L523.42,145.41 L523.57,145.56 L523.72,145.72 L523.87,145.90 L524.01,146.09 L524.16,146.28 L524.31,146.49 L524.46,146.70 L524.61,146.92 L524.75,147.14 L524.90,147.37 L525.05,147.60 L525.20,147.83 L525.35,148.08 L525.49,148.36 L525.64,148.66 L525.79,148.98 L525.94,149.32 L526.08,149.68 L526.23,150.05 L526.38,150.44 L526.53,150.85 L526.68,151.28 L526.82,151.72 L526.97,152.20 L527.12,152.80 L527.12,152.80 L526.97,152.75 L526.82,152.57 L526.68,152.35 L526.53,152.13 L526.38,151.90 L526.23,151.68 L526.08,151.46 L525.94,151.25 L525.79,151.05 L525.64,150.86 L525.49,150.69 L525.35,150.53 L525.20,150.40 L525.05,150.28 L524.90,150.15 L524.75,150.03 L524.61,149.91 L524.46,149.78 L524.31,149.66 L524.16,149.55 L524.01,149.44 L523.87,149.34 L523.72,149.24 L523.57,149.16 L523.42,149.08 L523.27,149.02 L523.13,148.97 L522.98,148.93 L522.83,148.91 L522.68,148.90 L522.54,148.90 L522.39,148.90 L522.24,148.89 L522.09,148.89 L521.94,148.89 L521.80,148.89 L521.65,148.88 L521.50,148.88 L521.35,148.88 L521.20,148.87 L521.06,148.87 L520.91,148.87 L520.76,148.86 L520.61,148.86 L520.46,148.86 L520.32,148.86 L520.17,148.85 L520.02,148.85 L519.87,148.85 L519.73,148.85 L519.58,148.84 L519.43,148.84 L519.28,148.84 L519.13,148.84 L518.99,148.84 L518.84,148.84 L518.69,148.84 L518.54,148.84 L518.39,148.84 L518.25,148.84 L518.10,148.84 L517.95,148.84 L517.80,148.84 L517.65,148.84 L517.51,148.85 L517.36,148.85 L517.21,148.86 L517.06,148.86 L516.91,148.87 L516.77,148.88 L516.62,148.88 L516.47,148.89 L516.32,148.90 L516.18,148.91 L516.03,148.92 L515.88,148.93 L515.73,148.94 L515.58,148.95 L515.44,148.96 L515.29,148.97 L515.14,148.98 L514.99,148.99 L514.84,149.00 L514.70,149.02 L514.55,149.03 L514.40,149.04 L514.25,149.05 L514.10,149.06 L513.96,149.07 L513.81,149.09 L513.66,149.13 L513.51,149.18 L513.37,149.24 L513.22,149.32 L513.07,149.41 L512.92,149.50 L512.77,149.61 L512.63,149.72 L512.48,149.83 L512.33,149.95 L512.18,150.06 L512.03,150.17 L511.89,150.28 L511.74,150.38 L511.59,150.48 L511.44,150.57 L511.29,150.67 L511.15,150.77 L511.00,150.87 L510.85,150.98 L510.70,151.08 L510.56,151.18 L510.41,151.28 L510.26,151.37 L510.11,151.46 L509.96,151.54 L509.82,151.61 L509.67,151.64 L509.52,151.55 Z" fill="#ff8080" fill-opacity="0.45" stroke="none"/>
<path d="M437.80,199.70 L442.64,46.32 L443.17,52.74 L443.52,61.17 L443.87,69.10 L444.22,76.53 L444.58,83.45 L444.93,89.85 L445.28,95.71 L445.63,101.04 L445.98,105.81 L446.34,110.03 L446.69,113.63 L447.04,116.70 L447.39,119.48 L447.74,122.17 L448.10,124.92 L448.45,127.64 L448.80,130.19 L449.15,132.45 L449.50,134.30 L449.86,135.91 L450.21,137.37 L450.56,138.72 L450.91,139.97 L451.26,141.14 L451.62,142.26 L451.97,143.35 L452.32,144.42 L452.67,145.49 L453.02,146.57 L453.38,147.65 L453.73,148.70 L454.08,149.74 L454.43,150.75 L454.78,151.74 L455.14,152.70 L455.49,153.62 L455.84,154.51 L456.19,155.36 L456.54,156.17 L456.90,156.93 L457.25,157.64 L457.60,158.33 L457.95,159.00 L458.30,159.64 L458.66,160.25 L459.01,160.84 L459.36,161.39 L459.71,161.92 L460.06,162.42 L460.42,162.89 L460.77,163.34 L461.12,163.77 L461.47,164.20 L461.82,164.62 L462.18,165.02 L462.53,165.41 L462.88,165.78 L463.23,166.13 L463.58,166.46 L463.94,166.77 L464.29,167.06 L464.64,167.32 L464.99,167.56 L465.34,167.77 L465.70,167.97 L466.05,168.17 L466.40,168.35 L466.75,168.54 L467.10,168.71 L467.46,168.87 L467.81,169.03 L468.16,169.18 L468.51,169.32 L468.86,169.45 L469.22,169.58 L469.57,169.69 L469.92,169.79 L470.27,169.89 L470.62,169.97 L470.98,170.04 L471.33,170.11 L471.68,170.17 L472.03,170.23 L472.38,170.28 L472.74,170.33 L473.09,170.37 L473.44,170.41 L473.79,170.45 L474.14,170.49 L474.50,170.53 L474.85,170.57 L475.20,170.60 L475.55,170.64 L475.90,170.68 L476.26,170.72 L476.61,170.76 L476.96,170.81 L477.31,170.85 L477.66,170.90 L478.02,170.94 L478.37,170.98 L478.72,171.01 L479.07,171.04 L479.42,171.07 L479.78,171.09 L480.13,171.10 L480.48,171.10 L480.83,171.08 L481.18,171.02 L481.54,170.95 L481.89,170.86 L482.24,170.76 L482.59,170.64 L482.94,170.53 L483.30,170.41 L483.65,170.31 L484.00,170.21 L484.35,170.13 L484.70,170.07 L485.06,170.04 L485.41,170.01 L485.76,169.99 L486.11,169.98 L486.46,169.96 L486.82,169.95 L487.17,169.94 L487.52,169.93 L487.87,169.92 L488.22,169.91 L488.58,169.90 L488.93,169.89 L489.28,169.88 L489.63,169.87 L489.98,169.86 L490.34,169.84 L490.69,169.82 L491.04,169.80 L491.39,169.77 L491.74,169.73 L492.10,169.67 L492.45,169.59 L492.80,169.49 L493.15,169.37 L493.50,169.24 L493.86,169.09 L494.21,168.92 L494.56,168.74 L494.91,168.54 L495.26,168.33 L495.62,168.11 L495.97,167.88 L496.32,167.63 L496.67,167.38 L497.02,167.11 L497.38,166.84 L497.73,166.55 L498.08,166.26 L498.43,165.90 L498.78,165.42 L499.14,164.84 L499.49,164.18 L499.84,163.46 L500.19,162.71 L500.54,161.94 L500.90,161.18 L501.25,160.44 L501.60,159.74 L501.95,159.11 L502.30,158.57 L502.66,158.13 L503.01,157.72 L503.36,157.34 L503.71,156.99 L504.06,156.65 L504.42,156.33 L504.77,156.03 L505.12,155.74 L505.47,155.45 L505.82,155.16 L506.18,154.88 L506.53,154.59 L506.88,154.29 L507.23,153.99 L507.58,153.66 L507.94,153.33 L508.29,152.97 L508.64,152.58 L508.99,152.18 L509.34,151.76 L509.70,151.33 L510.05,150.90 L510.40,150.47 L510.75,150.06 L511.10,149.66 L511.46,149.28 L511.81,148.92 L512.16,148.54 L512.51,148.16 L512.86,147.80 L513.22,147.48 L513.57,147.23 L513.92,147.08 L514.27,146.98 L514.62,146.88 L514.98,146.80 L515.33,146.72 L515.68,146.64 L516.03,146.58 L516.38,146.52 L516.74,146.47 L517.09,146.43 L517.44,146.40 L517.79,146.38 L518.14,146.37 L518.50,146.37 L518.85,146.38 L519.20,146.39 L519.55,146.42 L519.90,146.44 L520.26,146.48 L520.61,146.52 L520.96,146.57 L521.31,146.62 L521.66,146.68 L522.02,146.75 L522.37,146.82 L522.72,146.90 L523.07,147.03 L523.42,147.25 L523.78,147.54 L524.13,147.88 L524.48,148.27 L524.83,148.68 L525.18,149.10 L525.54,149.59 L525.89,150.19 L526.24,150.88 L526.59,151.63 L526.94,152.41 L527.30,153.20 L527.65,153.96 L528.00,154.67 L528.35,155.30 L528.70,155.82 L529.06,156.30 L529.41,156.76 L529.76,157.19 L530.11,157.61 L530.46,158.01 L530.82,158.40 L531.17,158.76 L531.52,159.12 L531.87,159.45 L532.22,159.78 L532.58,160.09 L532.93,160.39 L533.28,160.68 L533.63,160.97 L533.98,161.25 L534.34,161.52 L534.69,161.78 L535.04,162.04 L535.39,162.29 L535.74,162.54 L536.10,162.78 L536.45,163.01 L536.80,163.24 L537.15,163.46 L537.50,163.67 L537.86,163.88 L538.21,164.08 L538.56,164.27 L538.91,164.46 L539.26,164.64 L539.62,164.81 L539.97,164.98 L540.32,165.15 L540.67,165.31 L541.02,165.47 L541.38,165.62 L541.73,165.77 L542.08,165.92 L542.43,166.07 L542.78,166.21 L543.14,166.35 L543.49,166.49 L543.84,166.62 L544.19,166.75 L544.54,166.88 L544.90,167.00 L545.25,167.12 L545.60,167.23 L545.95,167.34 L546.30,167.45 L546.66,167.55 L547.01,167.64 L547.36,167.74 L547.71,167.82 L548.06,167.91 L548.42,167.99 L548.77,168.07 L549.12,168.15 L549.47,168.23 L549.82,168.31 L550.18,168.39 L550.53,168.46 L550.88,168.53 L551.23,168.61 L551.58,168.68 L551.94,168.75 L552.29,168.82 L552.64,168.88 L552.99,168.95 L553.34,169.01 L553.70,169.07 L554.05,169.13 L554.40,169.19 L554.75,169.25 L555.10,169.30 L555.46,169.35 L555.81,169.41 L556.16,169.45 L556.51,169.50 L556.86,169.55 L557.22,169.59 L557.57,169.63 L557.92,169.67 L558.27,169.71 L558.62,169.74 L558.98,169.77 L559.33,169.80 L559.68,169.83 L560.03,169.86 L560.38,169.88 L560.74,169.90 L561.09,169.93 L561.44,169.95 L561.79,169.97 L562.14,169.98 L562.50,170.00 L562.85,170.02 L563.20,170.04 L563.55,170.06 L563.90,170.07 L564.26,170.09 L564.61,170.11 L564.96,170.13 L565.31,170.15 L565.66,170.18 L566.02,170.20 L566.37,170.23 L566.72,170.25 L567.07,170.28 L567.42,170.31 L567.78,170.35 L568.13,170.38 L568.48,170.41 L568.83,170.45 L569.18,170.48 L569.54,170.52 L569.89,170.56 L570.24,170.60 L570.59,170.64 L570.94,170.67 L571.30,170.71 L571.65,170.75 L572.00,170.79 L572.35,170.83 L572.70,170.87 L573.06,170.91 L573.41,170.95 L573.76,170.99 L574.11,171.03 L574.46,171.07 L574.82,171.10 L575.17,171.14 L575.52,171.18 L575.87,171.21 L576.22,171.24 L576.58,171.28 L576.93,171.31 L577.28,171.34 L577.63,171.36 L577.98,171.39 L578.34,171.42 L578.69,171.44 L579.04,171.46 L579.39,171.48 L579.74,171.51 L580.10,171.53 L580.45,171.55 L580.80,171.56 L581.15,171.58 L581.50,171.60 L581.86,171.62 L582.21,171.64 L582.56,171.65 L582.91,171.67 L583.26,171.69 L583.62,171.71 L583.97,171.73 L584.32,171.74 L584.67,171.76 L585.02,171.78 L585.38,171.80 L585.73,171.83 L586.08,171.85 L586.43,171.87 L586.78,171.89 L587.14,171.92 L587.49,171.95 L587.84,171.97 L588.19,172.00 L588.54,172.04 L588.90,172.07 L589.25,172.10 L589.60,172.14 L589.95,172.18 L590.30,172.23 L590.66,172.28 L591.01,172.33 L591.36,172.39 L591.71,172.44 L592.06,172.50 L592.42,172.57 L592.77,172.63 L593.12,172.70 L593.47,172.77 L593.82,172.84 L594.18,172.91 L594.53,172.99 L594.88,173.07 L595.23,173.14 L595.58,173.22 L595.94,173.31 L596.29,173.39 L596.64,173.47 L596.99,173.56 L597.34,173.65 L597.70,173.73 L598.05,173.82 L598.40,173.91 L598.75,174.00 L599.10,174.09 L599.46,174.18 L599.81,174.27 L600.16,174.36 L600.51,174.45 L600.86,174.54 L601.22,174.64 L601.57,174.75 L601.92,174.85 L602.27,174.96 L602.62,175.07 L602.98,175.19 L603.33,175.31 L603.68,175.43 L604.03,175.55 L604.38,175.67 L604.74,175.80 L605.09,175.92 L605.44,176.05 L605.79,176.18 L606.14,176.31 L606.50,176.44 L606.85,176.57 L607.20,176.70 L607.55,176.83 L607.90,176.96 L608.26,177.09 L608.61,177.22 L608.96,177.35 L609.31,177.48 L609.66,177.60 L610.02,177.72 L610.37,177.85 L610.72,177.97 L611.07,178.08 L611.42,178.20 L611.78,178.31 L612.13,178.43 L612.48,178.54 L612.83,178.65 L613.18,178.77 L613.54,178.88 L613.89,179.00 L614.24,179.11 L614.59,179.22 L614.94,179.34 L615.30,179.45 L615.65,179.56 L616.00,179.67 L616.35,179.78 L616.70,179.90 L617.06,180.01 L617.41,180.11 L617.76,180.22 L618.11,180.33 L618.46,180.44 L618.82,180.55 L619.17,180.65 L619.52,180.75 L619.87,180.86 L620.22,180.96 L620.58,181.06 L620.93,181.16 L621.28,181.26 L621.63,181.36 L621.98,181.45 L622.34,181.54 L622.69,181.64 L623.04,181.73 L623.39,181.82 L623.74,181.91 L624.10,182.00 L624.45,182.09 L624.80,182.18 L625.15,182.26 L625.50,182.35 L625.86,182.44 L626.21,182.52 L626.56,182.61 L626.91,182.69 L627.26,182.77 L627.62,182.86 L627.97,182.94 L628.32,183.02 L628.67,183.10 L629.02,183.18 L629.38,183.26 L629.73,183.33 L630.08,183.41 L630.43,183.49 L630.78,183.56 L631.14,183.63 L631.49,183.71 L631.84,183.78 L632.19,183.85 L632.54,183.92 L632.90,183.98 L633.25,184.05 L633.60,184.12 L633.95,184.18 L634.30,184.24 L634.66,184.31 L635.01,184.37 L635.36,184.43 L635.71,184.49 L636.06,184.54 L636.42,184.60 L636.77,184.66 L637.12,184.71 L637.47,184.77 L637.82,184.82 L638.18,184.88 L638.53,184.93 L638.88,184.99 L639.23,185.04 L639.58,185.09 L639.94,185.14 L640.29,185.19 L640.64,185.24 L640.99,185.29 L641.34,185.34 L641.70,185.39 L642.05,185.44 L642.40,185.49 L642.75,185.54 L643.10,185.58 L643.46,185.63 L643.81,185.68 L644.16,185.73 L644.51,185.77 L644.86,185.82 L645.22,185.87 L645.57,185.91 L645.92,185.96 L646.27,186.01 L646.62,186.05 L646.98,186.10 L647.33,186.15 L647.68,186.20 L648.03,186.24 L648.38,186.29 L648.74,186.34 L649.09,186.38 L649.44,186.43 L649.79,186.48 L650.14,186.53 L650.50,186.58 L650.85,186.63 L651.20,186.68 L651.55,186.73 L651.90,186.78 L652.26,186.83 L652.61,186.88 L652.96,186.93 L653.31,186.98 L653.66,187.03 L654.02,187.08 L654.37,187.13 L654.72,187.18 L655.07,187.23 L655.42,187.28 L655.78,187.33 L656.13,187.38 L656.48,187.43 L656.83,187.48 L657.18,187.53 L657.54,187.58 L657.89,187.63 L658.24,187.68 L658.59,187.73 L658.94,187.78 L659.30,187.83 L659.65,187.88 L660.00,187.93 L660.35,187.98 L660.70,188.03 L661.06,188.08 L661.41,188.13 L661.76,188.18 L662.11,188.23 L662.46,188.28 L662.82,188.33 L663.17,188.38 L663.52,188.43 L663.87,188.48 L664.22,188.53 L664.58,188.57 L664.93,188.62 L665.28,188.67 L665.63,188.72 L665.98,188.77 L666.34,188.81 L666.69,188.86 L667.04,188.91 L667.39,188.95 L667.74,189.00 L668.10,189.05 L668.45,189.09 L668.80,189.14 L669.15,189.18 L669.50,189.23 L669.86,189.27 L670.21,189.32 L670.56,189.36 L670.91,189.41 L671.26,189.45 L671.62,189.49 L671.97,189.54 L672.32,189.58 L672.67,189.62 L673.02,189.66 L673.38,189.71 L673.73,189.75 L674.08,189.79 L674.43,189.83 L674.78,189.87 L675.14,189.92 L675.49,189.96 L675.84,190.00 L676.19,190.04 L676.54,190.08 L676.90,190.12 L677.25,190.16 L677.60,190.21 L677.95,190.25 L678.30,190.29 L678.66,190.33 L679.01,190.37 L679.36,190.41 L679.71,190.45 L680.06,190.49 L680.42,190.53 L680.77,190.57 L681.12,190.61 L681.47,190.65 L681.82,190.69 L682.18,190.73 L682.53,190.77 L682.88,190.80 L683.23,190.84 L683.58,190.88 L683.94,190.92 L684.29,190.96 L684.64,191.00 L684.99,191.04 L685.34,191.07 L685.70,191.11 L686.05,191.15 L686.40,191.19 L686.75,191.22 L687.10,191.26 L687.46,191.30 L687.81,191.34 L688.16,191.37 L688.51,191.41 L688.86,191.45 L689.22,191.48 L689.57,191.52 L689.92,191.56 L690.27,191.59 L690.62,191.63 L690.98,191.66 L691.33,191.70 L691.68,191.73 L692.03,191.77 L692.38,191.80 L692.74,191.84 L693.09,191.87 L693.44,191.91 L693.79,191.94 L694.14,191.98 L694.50,192.01 L694.85,192.04 L695.20,192.08 L695.55,192.11 L695.90,192.15 L696.26,192.18 L696.61,192.21 L696.96,192.24 L697.31,192.28 L697.66,192.31 L698.02,192.34 L698.37,192.37 L698.72,192.41 L699.07,192.44 L699.42,192.47" fill="none" stroke="#f02a2a" stroke-width="2" stroke-linejoin="round"/>
<path d="M509.52,152.74 L509.67,152.25 L509.82,151.85 L509.96,151.46 L510.11,151.09 L510.26,150.73 L510.41,150.37 L510.56,150.02 L510.70,149.68 L510.85,149.34 L511.00,149.01 L511.15,148.69 L511.29,148.38 L511.44,148.07 L511.59,147.78 L511.74,147.48 L511.89,147.18 L512.03,146.87 L512.18,146.55 L512.33,146.24 L512.48,145.92 L512.63,145.62 L512.77,145.32 L512.92,145.03 L513.07,144.77 L513.22,144.52 L513.37,144.29 L513.51,144.09 L513.66,143.92 L513.81,143.79 L513.96,143.69 L514.10,143.60 L514.25,143.52 L514.40,143.43 L514.55,143.36 L514.70,143.28 L514.84,143.21 L514.99,143.13 L515.14,143.07 L515.29,143.00 L515.44,142.94 L515.58,142.88 L515.73,142.82 L515.88,142.77 L516.03,142.72 L516.18,142.67 L516.32,142.62 L516.47,142.58 L516.62,142.54 L516.77,142.51 L516.91,142.47 L517.06,142.44 L517.21,142.42 L517.36,142.39 L517.51,142.37 L517.65,142.36 L517.80,142.34 L517.95,142.33 L518.10,142.33 L518.25,142.32 L518.39,142.32 L518.54,142.33 L518.69,142.33 L518.84,142.33 L518.99,142.34 L519.13,142.35 L519.28,142.36 L519.43,142.37 L519.58,142.38 L519.73,142.39 L519.87,142.41 L520.02,142.42 L520.17,142.44 L520.32,142.46 L520.46,142.48 L520.61,142.51 L520.76,142.53 L520.91,142.56 L521.06,142.58 L521.20,142.61 L521.35,142.64 L521.50,142.68 L521.65,142.71 L521.80,142.75 L521.94,142.78 L522.09,142.82 L522.24,142.86 L522.39,142.90 L522.54,142.95 L522.68,142.99 L522.83,143.05 L522.98,143.14 L523.13,143.27 L523.27,143.42 L523.42,143.60 L523.57,143.81 L523.72,144.03 L523.87,144.28 L524.01,144.54 L524.16,144.82 L524.31,145.10 L524.46,145.40 L524.61,145.69 L524.75,146.00 L524.90,146.30 L525.05,146.59 L525.20,146.89 L525.35,147.19 L525.49,147.52 L525.64,147.87 L525.79,148.24 L525.94,148.63 L526.08,149.04 L526.23,149.46 L526.38,149.89 L526.53,150.34 L526.68,150.80 L526.82,151.27 L526.97,151.76 L527.12,152.35 L527.12,152.35 L526.97,152.16 L526.82,151.87 L526.68,151.57 L526.53,151.25 L526.38,150.93 L526.23,150.62 L526.08,150.31 L525.94,150.01 L525.79,149.72 L525.64,149.44 L525.49,149.18 L525.35,148.94 L525.20,148.72 L525.05,148.51 L524.90,148.28 L524.75,148.06 L524.61,147.83 L524.46,147.60 L524.31,147.37 L524.16,147.15 L524.01,146.94 L523.87,146.73 L523.72,146.55 L523.57,146.38 L523.42,146.23 L523.27,146.10 L523.13,146.00 L522.98,145.92 L522.83,145.88 L522.68,145.87 L522.54,145.86 L522.39,145.86 L522.24,145.86 L522.09,145.86 L521.94,145.86 L521.80,145.86 L521.65,145.85 L521.50,145.85 L521.35,145.85 L521.20,145.85 L521.06,145.85 L520.91,145.85 L520.76,145.85 L520.61,145.85 L520.46,145.85 L520.32,145.85 L520.17,145.85 L520.02,145.85 L519.87,145.85 L519.73,145.85 L519.58,145.84 L519.43,145.84 L519.28,145.84 L519.13,145.84 L518.99,145.84 L518.84,145.84 L518.69,145.84 L518.54,145.84 L518.39,145.84 L518.25,145.84 L518.10,145.85 L517.95,145.85 L517.80,145.86 L517.65,145.86 L517.51,145.87 L517.36,145.88 L517.21,145.90 L517.06,145.91 L516.91,145.93 L516.77,145.95 L516.62,145.97 L516.47,145.99 L516.32,146.01 L516.18,146.03 L516.03,146.06 L515.88,146.09 L515.73,146.12 L515.58,146.15 L515.44,146.18 L515.29,146.21 L515.14,146.24 L514.99,146.28 L514.84,146.32 L514.70,146.35 L514.55,146.39 L514.40,146.43 L514.25,146.47 L514.10,146.52 L513.96,146.56 L513.81,146.61 L513.66,146.70 L513.51,146.82 L513.37,146.97 L513.22,147.14 L513.07,147.34 L512.92,147.55 L512.77,147.78 L512.63,148.01 L512.48,148.26 L512.33,148.51 L512.18,148.75 L512.03,149.00 L511.89,149.24 L511.74,149.47 L511.59,149.69 L511.44,149.90 L511.29,150.13 L511.15,150.35 L511.00,150.59 L510.85,150.82 L510.70,151.06 L510.56,151.30 L510.41,151.53 L510.26,151.77 L510.11,152.00 L509.96,152.23 L509.82,152.45 L509.67,152.64 L509.52,152.74 Z" fill="#8080ff" fill-opacity="0.45" stroke="none"/>
<path d="M437.80,199.70 L442.64,65.68 L443.17,69.46 L443.52,74.70 L443.87,79.75 L444.22,84.61 L444.58,89.28 L444.93,93.78 L445.28,98.09 L445.63,102.23 L445.98,106.21 L446.34,110.03 L446.69,113.66 L447.04,117.08 L447.39,120.27 L447.74,123.23 L448.10,126.05 L448.45,128.76 L448.80,131.29 L449.15,133.51 L449.50,135.36 L449.86,136.96 L450.21,138.43 L450.56,139.78 L450.91,141.03 L451.26,142.20 L451.62,143.32 L451.97,144.40 L452.32,145.47 L452.67,146.55 L453.02,147.63 L453.38,148.70 L453.73,149.76 L454.08,150.79 L454.43,151.81 L454.78,152.80 L455.14,153.75 L455.49,154.68 L455.84,155.57 L456.19,156.42 L456.54,157.22 L456.90,157.98 L457.25,158.70 L457.60,159.39 L457.95,160.05 L458.30,160.69 L458.66,161.31 L459.01,161.89 L459.36,162.45 L459.71,162.98 L460.06,163.48 L460.42,163.95 L460.77,164.39 L461.12,164.83 L461.47,165.26 L461.82,165.67 L462.18,166.07 L462.53,166.46 L462.88,166.83 L463.23,167.19 L463.58,167.52 L463.94,167.83 L464.29,168.12 L464.64,168.38 L464.99,168.62 L465.34,168.83 L465.70,169.03 L466.05,169.22 L466.40,169.41 L466.75,169.59 L467.10,169.76 L467.46,169.93 L467.81,170.09 L468.16,170.24 L468.51,170.38 L468.86,170.51 L469.22,170.63 L469.57,170.74 L469.92,170.85 L470.27,170.94 L470.62,171.03 L470.98,171.10 L471.33,171.17 L471.68,171.23 L472.03,171.28 L472.38,171.33 L472.74,171.38 L473.09,171.43 L473.44,171.47 L473.79,171.51 L474.14,171.55 L474.50,171.59 L474.85,171.62 L475.20,171.66 L475.55,171.70 L475.90,171.74 L476.26,171.78 L476.61,171.82 L476.96,171.86 L477.31,171.91 L477.66,171.95 L478.02,171.99 L478.37,172.03 L478.72,172.07 L479.07,172.10 L479.42,172.12 L479.78,172.14 L480.13,172.15 L480.48,172.16 L480.83,172.14 L481.18,172.09 L481.54,172.03 L481.89,171.95 L482.24,171.86 L482.59,171.76 L482.94,171.65 L483.30,171.55 L483.65,171.44 L484.00,171.33 L484.35,171.24 L484.70,171.15 L485.06,171.08 L485.41,171.02 L485.76,170.96 L486.11,170.91 L486.46,170.86 L486.82,170.81 L487.17,170.77 L487.52,170.72 L487.87,170.68 L488.22,170.63 L488.58,170.59 L488.93,170.54 L489.28,170.49 L489.63,170.44 L489.98,170.38 L490.34,170.32 L490.69,170.26 L491.04,170.19 L491.39,170.11 L491.74,170.03 L492.10,169.94 L492.45,169.83 L492.80,169.73 L493.15,169.61 L493.50,169.49 L493.86,169.36 L494.21,169.22 L494.56,169.08 L494.91,168.93 L495.26,168.77 L495.62,168.61 L495.97,168.44 L496.32,168.26 L496.67,168.09 L497.02,167.90 L497.38,167.71 L497.73,167.52 L498.08,167.32 L498.43,167.11 L498.78,166.88 L499.14,166.64 L499.49,166.38 L499.84,166.11 L500.19,165.82 L500.54,165.53 L500.90,165.21 L501.25,164.89 L501.60,164.55 L501.95,164.20 L502.30,163.84 L502.66,163.47 L503.01,163.09 L503.36,162.70 L503.71,162.30 L504.06,161.88 L504.42,161.42 L504.77,160.93 L505.12,160.42 L505.47,159.88 L505.82,159.32 L506.18,158.75 L506.53,158.16 L506.88,157.56 L507.23,156.95 L507.58,156.33 L507.94,155.72 L508.29,155.11 L508.64,154.47 L508.99,153.79 L509.34,153.10 L509.70,152.39 L510.05,151.68 L510.40,150.97 L510.75,150.27 L511.10,149.60 L511.46,148.96 L511.81,148.35 L512.16,147.70 L512.51,147.03 L512.86,146.39 L513.22,145.83 L513.57,145.40 L513.92,145.14 L514.27,144.99 L514.62,144.84 L514.98,144.71 L515.33,144.59 L515.68,144.48 L516.03,144.39 L516.38,144.30 L516.74,144.23 L517.09,144.17 L517.44,144.13 L517.79,144.10 L518.14,144.09 L518.50,144.08 L518.85,144.09 L519.20,144.10 L519.55,144.11 L519.90,144.13 L520.26,144.15 L520.61,144.18 L520.96,144.21 L521.31,144.24 L521.66,144.28 L522.02,144.33 L522.37,144.38 L522.72,144.44 L523.07,144.59 L523.42,144.92 L523.78,145.37 L524.13,145.93 L524.48,146.54 L524.83,147.17 L525.18,147.78 L525.54,148.44 L525.89,149.21 L526.24,150.06 L526.59,150.96 L526.94,151.89 L527.30,152.81 L527.65,153.69 L528.00,154.51 L528.35,155.23 L528.70,155.84 L529.06,156.39 L529.41,156.92 L529.76,157.42 L530.11,157.90 L530.46,158.36 L530.82,158.80 L531.17,159.21 L531.52,159.61 L531.87,159.98 L532.22,160.34 L532.58,160.68 L532.93,161.00 L533.28,161.31 L533.63,161.60 L533.98,161.89 L534.34,162.17 L534.69,162.44 L535.04,162.71 L535.39,162.96 L535.74,163.21 L536.10,163.45 L536.45,163.68 L536.80,163.91 L537.15,164.13 L537.50,164.33 L537.86,164.54 L538.21,164.73 L538.56,164.92 L538.91,165.10 L539.26,165.27 L539.62,165.44 L539.97,165.60 L540.32,165.75 L540.67,165.90 L541.02,166.05 L541.38,166.20 L541.73,166.35 L542.08,166.49 L542.43,166.63 L542.78,166.77 L543.14,166.90 L543.49,167.03 L543.84,167.16 L544.19,167.28 L544.54,167.39 L544.90,167.50 L545.25,167.61 L545.60,167.71 L545.95,167.80 L546.30,167.89 L546.66,167.97 L547.01,168.05 L547.36,168.12 L547.71,168.18 L548.06,168.24 L548.42,168.29 L548.77,168.35 L549.12,168.40 L549.47,168.46 L549.82,168.51 L550.18,168.56 L550.53,168.62 L550.88,168.67 L551.23,168.72 L551.58,168.76 L551.94,168.81 L552.29,168.86 L552.64,168.90 L552.99,168.94 L553.34,168.98 L553.70,169.02 L554.05,169.06 L554.40,169.10 L554.75,169.13 L555.10,169.16 L555.46,169.19 L555.81,169.22 L556.16,169.24 L556.51,169.26 L556.86,169.28 L557.22,169.30 L557.57,169.31 L557.92,169.32 L558.27,169.33 L558.62,169.34 L558.98,169.34 L559.33,169.34 L559.68,169.34 L560.03,169.34 L560.38,169.33 L560.74,169.33 L561.09,169.32 L561.44,169.32 L561.79,169.31 L562.14,169.31 L562.50,169.30 L562.85,169.29 L563.20,169.29 L563.55,169.28 L563.90,169.27 L564.26,169.27 L564.61,169.26 L564.96,169.26 L565.31,169.26 L565.66,169.25 L566.02,169.25 L566.37,169.25 L566.72,169.25 L567.07,169.26 L567.42,169.27 L567.78,169.27 L568.13,169.29 L568.48,169.30 L568.83,169.32 L569.18,169.33 L569.54,169.35 L569.89,169.37 L570.24,169.39 L570.59,169.42 L570.94,169.44 L571.30,169.47 L571.65,169.49 L572.00,169.52 L572.35,169.55 L572.70,169.57 L573.06,169.60 L573.41,169.63 L573.76,169.66 L574.11,169.69 L574.46,169.72 L574.82,169.75 L575.17,169.78 L575.52,169.80 L575.87,169.83 L576.22,169.86 L576.58,169.88 L576.93,169.91 L577.28,169.93 L577.63,169.96 L577.98,169.98 L578.34,170.00 L578.69,170.02 L579.04,170.04 L579.39,170.06 L579.74,170.08 L580.10,170.10 L580.45,170.11 L580.80,170.13 L581.15,170.15 L581.50,170.17 L581.86,170.19 L582.21,170.21 L582.56,170.22 L582.91,170.24 L583.26,170.26 L583.62,170.28 L583.97,170.30 L584.32,170.32 L584.67,170.34 L585.02,170.36 L585.38,170.39 L585.73,170.41 L586.08,170.43 L586.43,170.46 L586.78,170.48 L587.14,170.51 L587.49,170.54 L587.84,170.57 L588.19,170.60 L588.54,170.63 L588.90,170.66 L589.25,170.69 L589.60,170.73 L589.95,170.77 L590.30,170.82 L590.66,170.86 L591.01,170.91 L591.36,170.97 L591.71,171.02 L592.06,171.08 L592.42,171.14 L592.77,171.20 L593.12,171.26 L593.47,171.33 L593.82,171.40 L594.18,171.47 L594.53,171.54 L594.88,171.61 L595.23,171.69 L595.58,171.77 L595.94,171.84 L596.29,171.92 L596.64,172.00 L596.99,172.09 L597.34,172.17 L597.70,172.25 L598.05,172.34 L598.40,172.42 L598.75,172.51 L599.10,172.60 L599.46,172.68 L599.81,172.77 L600.16,172.86 L600.51,172.95 L600.86,173.04 L601.22,173.14 L601.57,173.25 L601.92,173.35 L602.27,173.46 L602.62,173.57 L602.98,173.69 L603.33,173.81 L603.68,173.93 L604.03,174.05 L604.38,174.18 L604.74,174.30 L605.09,174.43 L605.44,174.56 L605.79,174.69 L606.14,174.83 L606.50,174.96 L606.85,175.09 L607.20,175.23 L607.55,175.36 L607.90,175.50 L608.26,175.63 L608.61,175.76 L608.96,175.90 L609.31,176.03 L609.66,176.16 L610.02,176.29 L610.37,176.42 L610.72,176.54 L611.07,176.67 L611.42,176.79 L611.78,176.91 L612.13,177.03 L612.48,177.16 L612.83,177.28 L613.18,177.41 L613.54,177.53 L613.89,177.66 L614.24,177.79 L614.59,177.91 L614.94,178.04 L615.30,178.17 L615.65,178.29 L616.00,178.42 L616.35,178.55 L616.70,178.67 L617.06,178.80 L617.41,178.92 L617.76,179.05 L618.11,179.17 L618.46,179.29 L618.82,179.41 L619.17,179.53 L619.52,179.64 L619.87,179.76 L620.22,179.87 L620.58,179.98 L620.93,180.09 L621.28,180.19 L621.63,180.29 L621.98,180.39 L622.34,180.49 L622.69,180.58 L623.04,180.67 L623.39,180.76 L623.74,180.85 L624.10,180.94 L624.45,181.02 L624.80,181.11 L625.15,181.19 L625.50,181.27 L625.86,181.35 L626.21,181.43 L626.56,181.51 L626.91,181.59 L627.26,181.67 L627.62,181.74 L627.97,181.82 L628.32,181.89 L628.67,181.96 L629.02,182.03 L629.38,182.11 L629.73,182.18 L630.08,182.24 L630.43,182.31 L630.78,182.38 L631.14,182.45 L631.49,182.51 L631.84,182.58 L632.19,182.64 L632.54,182.70 L632.90,182.77 L633.25,182.83 L633.60,182.89 L633.95,182.95 L634.30,183.01 L634.66,183.07 L635.01,183.13 L635.36,183.18 L635.71,183.24 L636.06,183.30 L636.42,183.35 L636.77,183.41 L637.12,183.46 L637.47,183.51 L637.82,183.57 L638.18,183.62 L638.53,183.67 L638.88,183.72 L639.23,183.77 L639.58,183.82 L639.94,183.87 L640.29,183.92 L640.64,183.97 L640.99,184.02 L641.34,184.07 L641.70,184.11 L642.05,184.16 L642.40,184.21 L642.75,184.26 L643.10,184.30 L643.46,184.35 L643.81,184.39 L644.16,184.44 L644.51,184.49 L644.86,184.53 L645.22,184.58 L645.57,184.62 L645.92,184.67 L646.27,184.71 L646.62,184.76 L646.98,184.80 L647.33,184.85 L647.68,184.89 L648.03,184.94 L648.38,184.99 L648.74,185.03 L649.09,185.08 L649.44,185.12 L649.79,185.17 L650.14,185.22 L650.50,185.26 L650.85,185.31 L651.20,185.36 L651.55,185.40 L651.90,185.45 L652.26,185.50 L652.61,185.55 L652.96,185.60 L653.31,185.64 L653.66,185.69 L654.02,185.74 L654.37,185.79 L654.72,185.84 L655.07,185.89 L655.42,185.94 L655.78,185.99 L656.13,186.04 L656.48,186.09 L656.83,186.14 L657.18,186.19 L657.54,186.24 L657.89,186.29 L658.24,186.34 L658.59,186.39 L658.94,186.44 L659.30,186.49 L659.65,186.54 L660.00,186.59 L660.35,186.63 L660.70,186.68 L661.06,186.73 L661.41,186.78 L661.76,186.83 L662.11,186.88 L662.46,186.93 L662.82,186.97 L663.17,187.02 L663.52,187.07 L663.87,187.11 L664.22,187.16 L664.58,187.21 L664.93,187.25 L665.28,187.30 L665.63,187.34 L665.98,187.39 L666.34,187.43 L666.69,187.47 L667.04,187.52 L667.39,187.56 L667.74,187.60 L668.10,187.64 L668.45,187.68 L668.80,187.72 L669.15,187.76 L669.50,187.80 L669.86,187.84 L670.21,187.87 L670.56,187.91 L670.91,187.95 L671.26,187.98 L671.62,188.02 L671.97,188.05 L672.32,188.08 L672.67,188.12 L673.02,188.15 L673.38,188.18 L673.73,188.21 L674.08,188.25 L674.43,188.28 L674.78,188.31 L675.14,188.34 L675.49,188.37 L675.84,188.40 L676.19,188.44 L676.54,188.47 L676.90,188.50 L677.25,188.53 L677.60,188.56 L677.95,188.59 L678.30,188.62 L678.66,188.65 L679.01,188.68 L679.36,188.71 L679.71,188.74 L680.06,188.77 L680.42,188.80 L680.77,188.83 L681.12,188.86 L681.47,188.89 L681.82,188.92 L682.18,188.95 L682.53,188.97 L682.88,189.00 L683.23,189.03 L683.58,189.06 L683.94,189.08 L684.29,189.11 L684.64,189.14 L684.99,189.17 L685.34,189.19 L685.70,189.22 L686.05,189.24 L686.40,189.27 L686.75,189.30 L687.10,189.32 L687.46,189.35 L687.81,189.37 L688.16,189.40 L688.51,189.42 L688.86,189.44 L689.22,189.47 L689.57,189.49 L689.92,189.51 L690.27,189.54 L690.62,189.56 L690.98,189.58 L691.33,189.60 L691.68,189.62 L692.03,189.65 L692.38,189.67 L692.74,189.69 L693.09,189.71 L693.44,189.73 L693.79,189.75 L694.14,189.77 L694.50,189.79 L694.85,189.80 L695.20,189.82 L695.55,189.84 L695.90,189.86 L696.26,189.87 L696.61,189.89 L696.96,189.91 L697.31,189.92 L697.66,189.94 L698.02,189.96 L698.37,189.97 L698.72,189.99 L699.07,190.00 L699.42,190.01" fill="none" stroke="#2a2aec" stroke-width="2" stroke-linejoin="round"/>
<path d="M509.52,151.15 L509.67,150.58 L509.82,150.15 L509.96,149.74 L510.11,149.35 L510.26,148.97 L510.41,148.59 L510.56,148.22 L510.70,147.85 L510.85,147.49 L511.00,147.13 L511.15,146.78 L511.29,146.43 L511.44,146.08 L511.59,145.73 L511.74,145.38 L511.89,145.01 L512.03,144.62 L512.18,144.23 L512.33,143.82 L512.48,143.42 L512.63,143.01 L512.77,142.62 L512.92,142.25 L513.07,141.89 L513.22,141.56 L513.37,141.26 L513.51,141.00 L513.66,140.77 L513.81,140.60 L513.96,140.47 L514.10,140.36 L514.25,140.26 L514.40,140.16 L514.55,140.06 L514.70,139.97 L514.84,139.88 L514.99,139.79 L515.14,139.70 L515.29,139.62 L515.44,139.55 L515.58,139.48 L515.73,139.41 L515.88,139.34 L516.03,139.28 L516.18,139.22 L516.32,139.17 L516.47,139.11 L516.62,139.07 L516.77,139.02 L516.91,138.98 L517.06,138.95 L517.21,138.92 L517.36,138.89 L517.51,138.87 L517.65,138.85 L517.80,138.83 L517.95,138.82 L518.10,138.81 L518.25,138.80 L518.39,138.80 L518.54,138.81 L518.69,138.81 L518.84,138.82 L518.99,138.83 L519.13,138.84 L519.28,138.86 L519.43,138.87 L519.58,138.89 L519.73,138.91 L519.87,138.94 L520.02,138.96 L520.17,138.99 L520.32,139.03 L520.46,139.06 L520.61,139.10 L520.76,139.13 L520.91,139.18 L521.06,139.22 L521.20,139.27 L521.35,139.31 L521.50,139.37 L521.65,139.42 L521.80,139.48 L521.94,139.53 L522.09,139.60 L522.24,139.66 L522.39,139.72 L522.54,139.79 L522.68,139.86 L522.83,139.95 L522.98,140.07 L523.13,140.23 L523.27,140.41 L523.42,140.63 L523.57,140.88 L523.72,141.15 L523.87,141.43 L524.01,141.74 L524.16,142.06 L524.31,142.40 L524.46,142.74 L524.61,143.09 L524.75,143.45 L524.90,143.80 L525.05,144.15 L525.20,144.50 L525.35,144.86 L525.49,145.26 L525.64,145.68 L525.79,146.12 L525.94,146.59 L526.08,147.08 L526.23,147.58 L526.38,148.11 L526.53,148.64 L526.68,149.20 L526.82,149.77 L526.97,150.37 L527.12,151.10 L527.12,151.10 L526.97,150.92 L526.82,150.61 L526.68,150.27 L526.53,149.92 L526.38,149.57 L526.23,149.21 L526.08,148.86 L525.94,148.52 L525.79,148.19 L525.64,147.88 L525.49,147.58 L525.35,147.31 L525.20,147.06 L525.05,146.83 L524.90,146.58 L524.75,146.33 L524.61,146.08 L524.46,145.82 L524.31,145.57 L524.16,145.33 L524.01,145.10 L523.87,144.87 L523.72,144.66 L523.57,144.48 L523.42,144.31 L523.27,144.16 L523.13,144.05 L522.98,143.96 L522.83,143.90 L522.68,143.88 L522.54,143.87 L522.39,143.86 L522.24,143.86 L522.09,143.85 L521.94,143.84 L521.80,143.83 L521.65,143.82 L521.50,143.81 L521.35,143.81 L521.20,143.80 L521.06,143.79 L520.91,143.79 L520.76,143.78 L520.61,143.78 L520.46,143.77 L520.32,143.77 L520.17,143.76 L520.02,143.76 L519.87,143.75 L519.73,143.75 L519.58,143.75 L519.43,143.74 L519.28,143.74 L519.13,143.74 L518.99,143.74 L518.84,143.73 L518.69,143.73 L518.54,143.73 L518.39,143.73 L518.25,143.73 L518.10,143.73 L517.95,143.74 L517.80,143.74 L517.65,143.75 L517.51,143.76 L517.36,143.77 L517.21,143.79 L517.06,143.80 L516.91,143.82 L516.77,143.84 L516.62,143.86 L516.47,143.88 L516.32,143.91 L516.18,143.93 L516.03,143.96 L515.88,143.99 L515.73,144.02 L515.58,144.05 L515.44,144.08 L515.29,144.12 L515.14,144.15 L514.99,144.19 L514.84,144.23 L514.70,144.27 L514.55,144.31 L514.40,144.35 L514.25,144.40 L514.10,144.44 L513.96,144.49 L513.81,144.55 L513.66,144.66 L513.51,144.81 L513.37,145.01 L513.22,145.23 L513.07,145.49 L512.92,145.77 L512.77,146.06 L512.63,146.37 L512.48,146.68 L512.33,147.00 L512.18,147.31 L512.03,147.61 L511.89,147.90 L511.74,148.16 L511.59,148.41 L511.44,148.64 L511.29,148.87 L511.15,149.10 L511.00,149.33 L510.85,149.56 L510.70,149.78 L510.56,150.00 L510.41,150.22 L510.26,150.43 L510.11,150.63 L509.96,150.82 L509.82,150.99 L509.67,151.14 L509.52,151.15 Z" fill="#60d060" fill-opacity="0.45" stroke="none"/>
<path d="M437.80,199.70 L442.64,70.34 L443.17,72.98 L443.52,77.82 L443.87,82.48 L444.22,86.94 L444.58,91.22 L444.93,95.32 L445.28,99.25 L445.63,103.01 L445.98,106.60 L446.34,110.03 L446.69,113.24 L447.04,116.21 L447.39,119.02 L447.74,121.73 L448.10,124.45 L448.45,127.17 L448.80,129.73 L449.15,132.00 L449.50,133.86 L449.86,135.47 L450.21,136.93 L450.56,138.28 L450.91,139.53 L451.26,140.70 L451.62,141.82 L451.97,142.91 L452.32,143.98 L452.67,145.05 L453.02,146.13 L453.38,147.21 L453.73,148.26 L454.08,149.30 L454.43,150.31 L454.78,151.30 L455.14,152.26 L455.49,153.18 L455.84,154.07 L456.19,154.92 L456.54,155.73 L456.90,156.49 L457.25,157.20 L457.60,157.89 L457.95,158.56 L458.30,159.20 L458.66,159.81 L459.01,160.40 L459.36,160.95 L459.71,161.48 L460.06,161.98 L460.42,162.45 L460.77,162.90 L461.12,163.33 L461.47,163.76 L461.82,164.18 L462.18,164.58 L462.53,164.97 L462.88,165.34 L463.23,165.69 L463.58,166.02 L463.94,166.33 L464.29,166.62 L464.64,166.88 L464.99,167.12 L465.34,167.33 L465.70,167.53 L466.05,167.73 L466.40,167.91 L466.75,168.10 L467.10,168.27 L467.46,168.43 L467.81,168.59 L468.16,168.74 L468.51,168.88 L468.86,169.01 L469.22,169.14 L469.57,169.25 L469.92,169.35 L470.27,169.45 L470.62,169.53 L470.98,169.60 L471.33,169.67 L471.68,169.73 L472.03,169.79 L472.38,169.84 L472.74,169.89 L473.09,169.93 L473.44,169.97 L473.79,170.01 L474.14,170.05 L474.50,170.09 L474.85,170.13 L475.20,170.16 L475.55,170.20 L475.90,170.24 L476.26,170.28 L476.61,170.32 L476.96,170.37 L477.31,170.41 L477.66,170.46 L478.02,170.50 L478.37,170.54 L478.72,170.57 L479.07,170.60 L479.42,170.63 L479.78,170.65 L480.13,170.66 L480.48,170.66 L480.83,170.63 L481.18,170.58 L481.54,170.50 L481.89,170.40 L482.24,170.29 L482.59,170.18 L482.94,170.06 L483.30,169.94 L483.65,169.84 L484.00,169.74 L484.35,169.67 L484.70,169.62 L485.06,169.60 L485.41,169.59 L485.76,169.59 L486.11,169.58 L486.46,169.57 L486.82,169.57 L487.17,169.57 L487.52,169.56 L487.87,169.56 L488.22,169.56 L488.58,169.56 L488.93,169.55 L489.28,169.55 L489.63,169.55 L489.98,169.54 L490.34,169.54 L490.69,169.53 L491.04,169.52 L491.39,169.51 L491.74,169.49 L492.10,169.44 L492.45,169.37 L492.80,169.29 L493.15,169.19 L493.50,169.07 L493.86,168.94 L494.21,168.79 L494.56,168.64 L494.91,168.47 L495.26,168.29 L495.62,168.11 L495.97,167.91 L496.32,167.72 L496.67,167.52 L497.02,167.31 L497.38,167.11 L497.73,166.90 L498.08,166.70 L498.43,166.49 L498.78,166.26 L499.14,166.02 L499.49,165.77 L499.84,165.50 L500.19,165.21 L500.54,164.91 L500.90,164.60 L501.25,164.27 L501.60,163.93 L501.95,163.57 L502.30,163.20 L502.66,162.82 L503.01,162.42 L503.36,162.02 L503.71,161.60 L504.06,161.14 L504.42,160.64 L504.77,160.09 L505.12,159.51 L505.47,158.89 L505.82,158.24 L506.18,157.58 L506.53,156.90 L506.88,156.22 L507.23,155.53 L507.58,154.85 L507.94,154.17 L508.29,153.51 L508.64,152.85 L508.99,152.18 L509.34,151.50 L509.70,150.81 L510.05,150.11 L510.40,149.42 L510.75,148.72 L511.10,148.03 L511.46,147.33 L511.81,146.63 L512.16,145.82 L512.51,144.97 L512.86,144.14 L513.22,143.40 L513.57,142.83 L513.92,142.50 L514.27,142.32 L514.62,142.15 L514.98,142.00 L515.33,141.86 L515.68,141.73 L516.03,141.62 L516.38,141.52 L516.74,141.44 L517.09,141.37 L517.44,141.32 L517.79,141.29 L518.14,141.27 L518.50,141.27 L518.85,141.28 L519.20,141.29 L519.55,141.32 L519.90,141.35 L520.26,141.39 L520.61,141.44 L520.96,141.49 L521.31,141.55 L521.66,141.62 L522.02,141.70 L522.37,141.79 L522.72,141.88 L523.07,142.09 L523.42,142.47 L523.78,143.00 L524.13,143.63 L524.48,144.33 L524.83,145.05 L525.18,145.76 L525.54,146.52 L525.89,147.42 L526.24,148.42 L526.59,149.48 L526.94,150.56 L527.30,151.63 L527.65,152.65 L528.00,153.59 L528.35,154.40 L528.70,155.06 L529.06,155.65 L529.41,156.20 L529.76,156.73 L530.11,157.23 L530.46,157.70 L530.82,158.15 L531.17,158.57 L531.52,158.97 L531.87,159.35 L532.22,159.71 L532.58,160.06 L532.93,160.38 L533.28,160.69 L533.63,161.00 L533.98,161.29 L534.34,161.57 L534.69,161.84 L535.04,162.10 L535.39,162.35 L535.74,162.60 L536.10,162.84 L536.45,163.07 L536.80,163.29 L537.15,163.51 L537.50,163.72 L537.86,163.93 L538.21,164.13 L538.56,164.32 L538.91,164.52 L539.26,164.70 L539.62,164.89 L539.97,165.07 L540.32,165.26 L540.67,165.44 L541.02,165.62 L541.38,165.80 L541.73,165.98 L542.08,166.15 L542.43,166.32 L542.78,166.49 L543.14,166.66 L543.49,166.82 L543.84,166.98 L544.19,167.14 L544.54,167.29 L544.90,167.43 L545.25,167.57 L545.60,167.70 L545.95,167.83 L546.30,167.95 L546.66,168.06 L547.01,168.16 L547.36,168.26 L547.71,168.35 L548.06,168.43 L548.42,168.51 L548.77,168.59 L549.12,168.67 L549.47,168.74 L549.82,168.81 L550.18,168.88 L550.53,168.95 L550.88,169.02 L551.23,169.08 L551.58,169.14 L551.94,169.20 L552.29,169.26 L552.64,169.32 L552.99,169.38 L553.34,169.43 L553.70,169.48 L554.05,169.54 L554.40,169.59 L554.75,169.63 L555.10,169.68 L555.46,169.73 L555.81,169.77 L556.16,169.82 L556.51,169.86 L556.86,169.90 L557.22,169.94 L557.57,169.98 L557.92,170.02 L558.27,170.05 L558.62,170.09 L558.98,170.12 L559.33,170.16 L559.68,170.19 L560.03,170.22 L560.38,170.25 L560.74,170.28 L561.09,170.30 L561.44,170.33 L561.79,170.35 L562.14,170.38 L562.50,170.40 L562.85,170.42 L563.20,170.44 L563.55,170.47 L563.90,170.49 L564.26,170.51 L564.61,170.54 L564.96,170.56 L565.31,170.59 L565.66,170.61 L566.02,170.64 L566.37,170.67 L566.72,170.70 L567.07,170.73 L567.42,170.76 L567.78,170.79 L568.13,170.82 L568.48,170.86 L568.83,170.89 L569.18,170.93 L569.54,170.96 L569.89,171.00 L570.24,171.04 L570.59,171.07 L570.94,171.11 L571.30,171.15 L571.65,171.18 L572.00,171.22 L572.35,171.26 L572.70,171.29 L573.06,171.33 L573.41,171.36 L573.76,171.40 L574.11,171.43 L574.46,171.46 L574.82,171.50 L575.17,171.53 L575.52,171.56 L575.87,171.59 L576.22,171.62 L576.58,171.64 L576.93,171.67 L577.28,171.69 L577.63,171.72 L577.98,171.74 L578.34,171.76 L578.69,171.78 L579.04,171.79 L579.39,171.81 L579.74,171.83 L580.10,171.84 L580.45,171.86 L580.80,171.87 L581.15,171.88 L581.50,171.90 L581.86,171.91 L582.21,171.92 L582.56,171.94 L582.91,171.95 L583.26,171.96 L583.62,171.97 L583.97,171.99 L584.32,172.00 L584.67,172.01 L585.02,172.03 L585.38,172.04 L585.73,172.06 L586.08,172.07 L586.43,172.09 L586.78,172.11 L587.14,172.13 L587.49,172.15 L587.84,172.17 L588.19,172.19 L588.54,172.22 L588.90,172.24 L589.25,172.27 L589.60,172.31 L589.95,172.34 L590.30,172.38 L590.66,172.43 L591.01,172.48 L591.36,172.53 L591.71,172.59 L592.06,172.64 L592.42,172.71 L592.77,172.77 L593.12,172.84 L593.47,172.91 L593.82,172.98 L594.18,173.05 L594.53,173.13 L594.88,173.21 L595.23,173.29 L595.58,173.37 L595.94,173.46 L596.29,173.54 L596.64,173.63 L596.99,173.72 L597.34,173.80 L597.70,173.89 L598.05,173.98 L598.40,174.08 L598.75,174.17 L599.10,174.26 L599.46,174.35 L599.81,174.44 L600.16,174.53 L600.51,174.63 L600.86,174.72 L601.22,174.83 L601.57,174.93 L601.92,175.05 L602.27,175.16 L602.62,175.28 L602.98,175.40 L603.33,175.52 L603.68,175.65 L604.03,175.78 L604.38,175.91 L604.74,176.05 L605.09,176.18 L605.44,176.32 L605.79,176.45 L606.14,176.59 L606.50,176.73 L606.85,176.87 L607.20,177.00 L607.55,177.14 L607.90,177.28 L608.26,177.42 L608.61,177.55 L608.96,177.68 L609.31,177.82 L609.66,177.94 L610.02,178.07 L610.37,178.20 L610.72,178.32 L611.07,178.44 L611.42,178.55 L611.78,178.66 L612.13,178.78 L612.48,178.89 L612.83,179.00 L613.18,179.11 L613.54,179.22 L613.89,179.33 L614.24,179.44 L614.59,179.55 L614.94,179.66 L615.30,179.77 L615.65,179.88 L616.00,179.99 L616.35,180.09 L616.70,180.20 L617.06,180.30 L617.41,180.41 L617.76,180.51 L618.11,180.61 L618.46,180.71 L618.82,180.81 L619.17,180.91 L619.52,181.01 L619.87,181.10 L620.22,181.20 L620.58,181.29 L620.93,181.38 L621.28,181.47 L621.63,181.56 L621.98,181.65 L622.34,181.73 L622.69,181.82 L623.04,181.90 L623.39,181.98 L623.74,182.06 L624.10,182.14 L624.45,182.22 L624.80,182.29 L625.15,182.37 L625.50,182.45 L625.86,182.52 L626.21,182.60 L626.56,182.67 L626.91,182.74 L627.26,182.82 L627.62,182.89 L627.97,182.96 L628.32,183.03 L628.67,183.10 L629.02,183.16 L629.38,183.23 L629.73,183.30 L630.08,183.36 L630.43,183.43 L630.78,183.49 L631.14,183.55 L631.49,183.61 L631.84,183.67 L632.19,183.73 L632.54,183.79 L632.90,183.85 L633.25,183.90 L633.60,183.96 L633.95,184.01 L634.30,184.06 L634.66,184.11 L635.01,184.16 L635.36,184.21 L635.71,184.26 L636.06,184.31 L636.42,184.36 L636.77,184.41 L637.12,184.45 L637.47,184.50 L637.82,184.55 L638.18,184.59 L638.53,184.63 L638.88,184.68 L639.23,184.72 L639.58,184.76 L639.94,184.80 L640.29,184.85 L640.64,184.89 L640.99,184.93 L641.34,184.97 L641.70,185.01 L642.05,185.05 L642.40,185.09 L642.75,185.13 L643.10,185.16 L643.46,185.20 L643.81,185.24 L644.16,185.28 L644.51,185.32 L644.86,185.36 L645.22,185.40 L645.57,185.43 L645.92,185.47 L646.27,185.51 L646.62,185.55 L646.98,185.59 L647.33,185.62 L647.68,185.66 L648.03,185.70 L648.38,185.74 L648.74,185.78 L649.09,185.82 L649.44,185.86 L649.79,185.90 L650.14,185.94 L650.50,185.98 L650.85,186.02 L651.20,186.06 L651.55,186.10 L651.90,186.14 L652.26,186.19 L652.61,186.23 L652.96,186.27 L653.31,186.31 L653.66,186.36 L654.02,186.40 L654.37,186.44 L654.72,186.49 L655.07,186.53 L655.42,186.58 L655.78,186.62 L656.13,186.67 L656.48,186.71 L656.83,186.76 L657.18,186.80 L657.54,186.85 L657.89,186.89 L658.24,186.94 L658.59,186.98 L658.94,187.03 L659.30,187.07 L659.65,187.11 L660.00,187.16 L660.35,187.20 L660.70,187.25 L661.06,187.29 L661.41,187.34 L661.76,187.38 L662.11,187.42 L662.46,187.47 L662.82,187.51 L663.17,187.55 L663.52,187.60 L663.87,187.64 L664.22,187.68 L664.58,187.72 L664.93,187.76 L665.28,187.81 L665.63,187.85 L665.98,187.89 L666.34,187.93 L666.69,187.97 L667.04,188.01 L667.39,188.04 L667.74,188.08 L668.10,188.12 L668.45,188.16 L668.80,188.19 L669.15,188.23 L669.50,188.26 L669.86,188.30 L670.21,188.33 L670.56,188.37 L670.91,188.40 L671.26,188.43 L671.62,188.46 L671.97,188.49 L672.32,188.52 L672.67,188.55 L673.02,188.58 L673.38,188.61 L673.73,188.64 L674.08,188.67 L674.43,188.70 L674.78,188.73 L675.14,188.76 L675.49,188.79 L675.84,188.82 L676.19,188.84 L676.54,188.87 L676.90,188.90 L677.25,188.93 L677.60,188.96 L677.95,188.98 L678.30,189.01 L678.66,189.04 L679.01,189.07 L679.36,189.09 L679.71,189.12 L680.06,189.15 L680.42,189.17 L680.77,189.20 L681.12,189.23 L681.47,189.25 L681.82,189.28 L682.18,189.31 L682.53,189.33 L682.88,189.36 L683.23,189.38 L683.58,189.41 L683.94,189.43 L684.29,189.46 L684.64,189.48 L684.99,189.51 L685.34,189.53 L685.70,189.55 L686.05,189.58 L686.40,189.60 L686.75,189.62 L687.10,189.65 L687.46,189.67 L687.81,189.69 L688.16,189.71 L688.51,189.74 L688.86,189.76 L689.22,189.78 L689.57,189.80 L689.92,189.82 L690.27,189.84 L690.62,189.86 L690.98,189.88 L691.33,189.90 L691.68,189.92 L692.03,189.94 L692.38,189.96 L692.74,189.98 L693.09,190.00 L693.44,190.02 L693.79,190.03 L694.14,190.05 L694.50,190.07 L694.85,190.09 L695.20,190.10 L695.55,190.12 L695.90,190.14 L696.26,190.15 L696.61,190.17 L696.96,190.18 L697.31,190.20 L697.66,190.21 L698.02,190.22 L698.37,190.24 L698.72,190.25 L699.07,190.27 L699.42,190.28" fill="none" stroke="#1a901a" stroke-width="2" stroke-linejoin="round"/>
<path d="M435.60,22.9 V199.70 H699.60" fill="none" stroke="#000" stroke-width="1.8"/>
<line x1="428.40" y1="199.70" x2="435.60" y2="199.70" stroke="#000" stroke-width="1.8"/>
<line x1="428.40" y1="155.63" x2="435.60" y2="155.63" stroke="#000" stroke-width="1.8"/>
<line x1="428.40" y1="111.56" x2="435.60" y2="111.56" stroke="#000" stroke-width="1.8"/>
<line x1="428.40" y1="67.49" x2="435.60" y2="67.49" stroke="#000" stroke-width="1.8"/>
<line x1="428.40" y1="23.42" x2="435.60" y2="23.42" stroke="#000" stroke-width="1.8"/>
<line x1="435.60" y1="199.70" x2="435.60" y2="206.70" stroke="#000" stroke-width="1.8"/>
<line x1="444.40" y1="199.70" x2="444.40" y2="203.70" stroke="#000" stroke-width="1.8"/>
<line x1="453.20" y1="199.70" x2="453.20" y2="203.70" stroke="#000" stroke-width="1.8"/>
<line x1="462.00" y1="199.70" x2="462.00" y2="203.70" stroke="#000" stroke-width="1.8"/>
<line x1="470.80" y1="199.70" x2="470.80" y2="203.70" stroke="#000" stroke-width="1.8"/>
<line x1="479.60" y1="199.70" x2="479.60" y2="203.70" stroke="#000" stroke-width="1.8"/>
<line x1="488.40" y1="199.70" x2="488.40" y2="203.70" stroke="#000" stroke-width="1.8"/>
<line x1="497.20" y1="199.70" x2="497.20" y2="203.70" stroke="#000" stroke-width="1.8"/>
<line x1="506.00" y1="199.70" x2="506.00" y2="203.70" stroke="#000" stroke-width="1.8"/>
<line x1="514.80" y1="199.70" x2="514.80" y2="203.70" stroke="#000" stroke-width="1.8"/>
<line x1="523.60" y1="199.70" x2="523.60" y2="206.70" stroke="#000" stroke-width="1.8"/>
<line x1="532.40" y1="199.70" x2="532.40" y2="203.70" stroke="#000" stroke-width="1.8"/>
<line x1="541.20" y1="199.70" x2="541.20" y2="203.70" stroke="#000" stroke-width="1.8"/>
<line x1="550.00" y1="199.70" x2="550.00" y2="203.70" stroke="#000" stroke-width="1.8"/>
<line x1="558.80" y1="199.70" x2="558.80" y2="203.70" stroke="#000" stroke-width="1.8"/>
<line x1="567.60" y1="199.70" x2="567.60" y2="203.70" stroke="#000" stroke-width="1.8"/>
<line x1="576.40" y1="199.70" x2="576.40" y2="203.70" stroke="#000" stroke-width="1.8"/>
<line x1="585.20" y1="199.70" x2="585.20" y2="203.70" stroke="#000" stroke-width="1.8"/>
<line x1="594.00" y1="199.70" x2="594.00" y2="203.70" stroke="#000" stroke-width="1.8"/>
<line x1="602.80" y1="199.70" x2="602.80" y2="203.70" stroke="#000" stroke-width="1.8"/>
<line x1="611.60" y1="199.70" x2="611.60" y2="206.70" stroke="#000" stroke-width="1.8"/>
<line x1="620.40" y1="199.70" x2="620.40" y2="203.70" stroke="#000" stroke-width="1.8"/>
<line x1="629.20" y1="199.70" x2="629.20" y2="203.70" stroke="#000" stroke-width="1.8"/>
<line x1="638.00" y1="199.70" x2="638.00" y2="203.70" stroke="#000" stroke-width="1.8"/>
<line x1="646.80" y1="199.70" x2="646.80" y2="203.70" stroke="#000" stroke-width="1.8"/>
<line x1="655.60" y1="199.70" x2="655.60" y2="203.70" stroke="#000" stroke-width="1.8"/>
<line x1="664.40" y1="199.70" x2="664.40" y2="203.70" stroke="#000" stroke-width="1.8"/>
<line x1="673.20" y1="199.70" x2="673.20" y2="203.70" stroke="#000" stroke-width="1.8"/>
<line x1="682.00" y1="199.70" x2="682.00" y2="203.70" stroke="#000" stroke-width="1.8"/>
<line x1="690.80" y1="199.70" x2="690.80" y2="203.70" stroke="#000" stroke-width="1.8"/>
<line x1="699.60" y1="199.70" x2="699.60" y2="206.70" stroke="#000" stroke-width="1.8"/>
<text transform="translate(425.80 204.20) scale(1.03 1)" font-size="13" font-weight="bold" font-style="normal" text-anchor="end" fill="#000">0.00</text>
<text transform="translate(425.80 160.13) scale(1.03 1)" font-size="13" font-weight="bold" font-style="normal" text-anchor="end" fill="#000">0.05</text>
<text transform="translate(425.80 116.06) scale(1.03 1)" font-size="13" font-weight="bold" font-style="normal" text-anchor="end" fill="#000">0.10</text>
<text transform="translate(425.80 71.99) scale(1.03 1)" font-size="13" font-weight="bold" font-style="normal" text-anchor="end" fill="#000">0.15</text>
<text transform="translate(425.80 27.92) scale(1.03 1)" font-size="13" font-weight="bold" font-style="normal" text-anchor="end" fill="#000">0.20</text>
<text transform="translate(435.60 222.00) scale(1.03 1)" font-size="13" font-weight="bold" font-style="normal" text-anchor="middle" fill="#000">0</text>
<text transform="translate(523.60 222.00) scale(1.03 1)" font-size="13" font-weight="bold" font-style="normal" text-anchor="middle" fill="#000">10</text>
<text transform="translate(611.60 222.00) scale(1.03 1)" font-size="13" font-weight="bold" font-style="normal" text-anchor="middle" fill="#000">20</text>
<text transform="translate(699.60 222.00) scale(1.03 1)" font-size="13" font-weight="bold" font-style="normal" text-anchor="middle" fill="#000">30</text>
<text transform="translate(568.50 243.20) scale(1.065 1)" font-size="13.7" font-weight="bold" font-style="normal" text-anchor="middle" fill="#000">Frequency (Hz)</text>
<text transform="translate(384.50 112.00) rotate(-90) scale(1.04 1)" font-size="14" font-weight="bold" font-style="normal" text-anchor="middle" fill="#000">normalized power [a.u.]</text>
<text transform="translate(364.50 17.00)" font-size="16" font-weight="bold" font-style="normal" text-anchor="start" fill="#000">B</text>
<line x1="641.3" y1="35.3" x2="660.5" y2="35.3" stroke="#52b052" stroke-width="1.6"/>
<text transform="translate(670.50 39.60) scale(1.05 1)" font-size="13.5" font-weight="normal" font-style="normal" text-anchor="start" fill="#000">BL</text>
<line x1="641.3" y1="59.1" x2="660.5" y2="59.1" stroke="#5a5af5" stroke-width="1.6"/>
<text transform="translate(670.50 63.40) scale(1.05 1)" font-size="13.5" font-weight="normal" font-style="normal" text-anchor="start" fill="#000">FU1</text>
<line x1="641.3" y1="82.8" x2="660.5" y2="82.8" stroke="#f55a5a" stroke-width="1.6"/>
<text transform="translate(670.50 87.10) scale(1.05 1)" font-size="13.5" font-weight="normal" font-style="normal" text-anchor="start" fill="#000">FU2</text>
<path d="M63.9,309.3 V486.2 H328.3" fill="none" stroke="#000" stroke-width="1.8"/>
<line x1="57.4" y1="486.20" x2="63.9" y2="486.20" stroke="#000" stroke-width="1.8"/>
<text transform="translate(55.00 490.70) scale(1.03 1)" font-size="13" font-weight="bold" font-style="normal" text-anchor="end" fill="#000">0.00</text>
<line x1="57.4" y1="451.00" x2="63.9" y2="451.00" stroke="#000" stroke-width="1.8"/>
<text transform="translate(55.00 455.50) scale(1.03 1)" font-size="13" font-weight="bold" font-style="normal" text-anchor="end" fill="#000">0.05</text>
<line x1="57.4" y1="415.80" x2="63.9" y2="415.80" stroke="#000" stroke-width="1.8"/>
<text transform="translate(55.00 420.30) scale(1.03 1)" font-size="13" font-weight="bold" font-style="normal" text-anchor="end" fill="#000">0.10</text>
<line x1="57.4" y1="380.60" x2="63.9" y2="380.60" stroke="#000" stroke-width="1.8"/>
<text transform="translate(55.00 385.10) scale(1.03 1)" font-size="13" font-weight="bold" font-style="normal" text-anchor="end" fill="#000">0.15</text>
<line x1="57.4" y1="345.40" x2="63.9" y2="345.40" stroke="#000" stroke-width="1.8"/>
<text transform="translate(55.00 349.90) scale(1.03 1)" font-size="13" font-weight="bold" font-style="normal" text-anchor="end" fill="#000">0.20</text>
<line x1="57.4" y1="310.20" x2="63.9" y2="310.20" stroke="#000" stroke-width="1.8"/>
<text transform="translate(55.00 314.70) scale(1.03 1)" font-size="13" font-weight="bold" font-style="normal" text-anchor="end" fill="#000">0.25</text>
<line x1="91.0" y1="486.2" x2="91.0" y2="491.2" stroke="#000" stroke-width="1.8"/>
<text transform="translate(95.00 503.60) rotate(-45)" font-size="13.4" font-weight="bold" font-style="normal" text-anchor="end" fill="#000">BL-FU1</text>
<line x1="132.5" y1="486.2" x2="132.5" y2="491.2" stroke="#000" stroke-width="1.8"/>
<text transform="translate(136.50 503.60) rotate(-45)" font-size="13.4" font-weight="bold" font-style="normal" text-anchor="end" fill="#000">FU1-FU2</text>
<line x1="174.5" y1="486.2" x2="174.5" y2="491.2" stroke="#000" stroke-width="1.8"/>
<text transform="translate(178.50 503.60) rotate(-45)" font-size="13.4" font-weight="bold" font-style="normal" text-anchor="end" fill="#000">BL-FU2</text>
<line x1="215.8" y1="486.2" x2="215.8" y2="491.2" stroke="#000" stroke-width="1.8"/>
<text transform="translate(219.80 503.60) rotate(-45)" font-size="13.4" font-weight="bold" font-style="normal" text-anchor="end" fill="#000">between-subject BL</text>
<line x1="258.0" y1="486.2" x2="258.0" y2="491.2" stroke="#000" stroke-width="1.8"/>
<text transform="translate(262.00 503.60) rotate(-45)" font-size="13.4" font-weight="bold" font-style="normal" text-anchor="end" fill="#000">between-subject FU1</text>
<line x1="299.7" y1="486.2" x2="299.7" y2="491.2" stroke="#000" stroke-width="1.8"/>
<text transform="translate(303.70 503.60) rotate(-45)" font-size="13.4" font-weight="bold" font-style="normal" text-anchor="end" fill="#000">between-subject FU2</text>
<text transform="translate(15.10 397.70) rotate(-90)" font-size="14.2" font-weight="bold" font-style="italic" text-anchor="middle" fill="#000">Kolmogorov-Smirnov (D)</text>
<text transform="translate(195.40 287.00) scale(1.047 1)" font-size="16.4" font-weight="bold" font-style="normal" text-anchor="middle" fill="#000">Power spectra</text>
<text transform="translate(1.50 290.60) scale(1.08 1)" font-size="17.2" font-weight="bold" font-style="normal" text-anchor="start" fill="#000">C</text>
<text transform="translate(194.60 321.00)" font-size="24" font-weight="bold" font-style="normal" text-anchor="middle" fill="#000">*</text>
<path d="M79.5,334 V325.5 H186.2 V334" fill="none" stroke="#000" stroke-width="1.8"/>
<path d="M203.7,334 V325.5 H310.2 V334" fill="none" stroke="#000" stroke-width="1.8"/>
<path d="M94.90,381.50 L95.26,381.54 L95.59,381.66 L95.90,381.85 L96.15,382.10 L96.34,382.41 L96.46,382.74 L96.50,383.10 L96.58,383.25 L96.58,383.50 L96.59,383.75 L96.59,384.00 L96.59,384.25 L96.60,384.50 L96.60,384.75 L96.60,385.00 L96.60,385.25 L96.60,385.50 L96.60,385.75 L96.60,386.00 L96.60,386.25 L96.59,386.50 L96.59,386.75 L96.58,387.00 L96.57,387.25 L96.55,387.50 L96.54,387.75 L96.52,388.00 L96.50,388.25 L96.48,388.50 L96.46,388.75 L96.44,389.00 L96.42,389.25 L96.40,389.50 L96.37,389.75 L96.35,390.00 L96.32,390.25 L96.30,390.50 L96.27,390.75 L96.25,391.00 L96.22,391.25 L96.20,391.50 L96.17,391.75 L96.13,392.00 L96.10,392.25 L96.06,392.50 L96.03,392.75 L95.99,393.00 L95.95,393.25 L95.90,393.50 L95.86,393.75 L95.82,394.00 L95.77,394.25 L95.73,394.50 L95.69,394.75 L95.64,395.00 L95.60,395.25 L95.55,395.50 L95.51,395.75 L95.46,396.00 L95.42,396.25 L95.38,396.50 L95.34,396.75 L95.30,397.00 L95.26,397.25 L95.22,397.50 L95.17,397.75 L95.12,398.00 L95.07,398.25 L95.02,398.50 L94.97,398.75 L94.92,399.00 L94.88,399.25 L94.84,399.50 L94.80,399.75 L94.76,400.00 L94.74,400.25 L94.72,400.50 L94.70,400.75 L94.70,401.00 L94.70,401.25 L94.71,401.50 L94.71,401.75 L94.72,402.00 L94.74,402.25 L94.75,402.50 L94.77,402.75 L94.79,403.00 L94.81,403.25 L94.83,403.50 L94.86,403.75 L94.88,404.00 L94.91,404.25 L94.94,404.50 L94.97,404.75 L95.00,405.00 L95.04,405.25 L95.09,405.50 L95.16,405.75 L95.23,406.00 L95.32,406.25 L95.42,406.50 L95.53,406.75 L95.64,407.00 L95.76,407.25 L95.89,407.50 L96.03,407.75 L96.17,408.00 L96.31,408.25 L96.45,408.50 L96.60,408.75 L96.75,409.00 L96.90,409.25 L97.05,409.50 L97.19,409.75 L97.33,410.00 L97.47,410.25 L97.61,410.50 L97.76,410.75 L97.91,411.00 L98.06,411.25 L98.23,411.50 L98.39,411.75 L98.56,412.00 L98.73,412.25 L98.90,412.50 L99.07,412.75 L99.23,413.00 L99.40,413.25 L99.57,413.50 L99.73,413.75 L99.89,414.00 L100.04,414.25 L100.19,414.50 L100.33,414.75 L100.47,415.00 L100.61,415.25 L100.76,415.50 L100.90,415.75 L101.05,416.00 L101.19,416.25 L101.33,416.50 L101.47,416.75 L101.60,417.00 L101.73,417.25 L101.86,417.50 L101.97,417.75 L102.08,418.00 L102.17,418.25 L102.26,418.50 L102.34,418.75 L102.40,419.00 L102.46,419.25 L102.51,419.50 L102.57,419.75 L102.62,420.00 L102.67,420.25 L102.72,420.50 L102.77,420.75 L102.82,421.00 L102.86,421.25 L102.90,421.50 L102.94,421.75 L102.97,422.00 L103.01,422.25 L103.03,422.50 L103.05,422.75 L103.07,423.00 L103.09,423.25 L103.10,423.50 L103.10,423.75 L103.10,424.00 L103.09,424.25 L103.07,424.50 L103.05,424.75 L103.02,425.00 L102.98,425.25 L102.95,425.50 L102.90,425.75 L102.86,426.00 L102.81,426.25 L102.76,426.50 L102.72,426.75 L102.67,427.00 L102.62,427.25 L102.57,427.50 L102.52,427.75 L102.48,428.00 L102.44,428.25 L102.40,428.50 L102.36,428.75 L102.33,429.00 L102.28,429.25 L102.24,429.50 L102.20,429.75 L102.16,430.00 L102.11,430.25 L102.07,430.50 L102.02,430.75 L101.98,431.00 L101.94,431.25 L101.90,431.50 L101.87,431.75 L101.83,432.00 L101.80,432.25 L101.77,432.50 L101.75,432.75 L101.73,433.00 L101.71,433.25 L101.70,433.50 L101.70,433.75 L101.70,434.00 L101.71,434.25 L101.71,434.50 L101.73,434.75 L101.74,435.00 L101.76,435.25 L101.78,435.50 L101.79,435.75 L101.82,436.00 L101.84,436.25 L101.86,436.50 L101.88,436.75 L101.90,437.00 L101.92,437.25 L101.94,437.50 L101.96,437.75 L101.97,438.00 L101.98,438.25 L101.99,438.50 L102.00,438.75 L102.00,439.00 L102.00,439.25 L102.00,439.50 L101.99,439.75 L101.99,440.00 L101.99,440.25 L101.98,440.50 L101.97,440.75 L101.96,441.00 L101.96,441.25 L101.95,441.50 L101.94,441.75 L101.92,442.00 L101.91,442.25 L101.90,442.50 L101.89,442.75 L101.87,443.00 L101.86,443.25 L101.84,443.50 L101.83,443.75 L101.81,444.00 L101.80,444.25 L101.78,444.50 L101.75,444.75 L101.73,445.00 L101.70,445.25 L101.66,445.50 L101.62,445.75 L101.58,446.00 L101.54,446.25 L101.49,446.50 L101.44,446.75 L101.38,447.00 L101.33,447.25 L101.27,447.50 L101.21,447.75 L101.15,448.00 L101.09,448.25 L101.03,448.50 L100.97,448.75 L100.90,449.00 L100.84,449.25 L100.77,449.50 L100.70,449.75 L100.63,450.00 L100.55,450.25 L100.46,450.50 L100.37,450.75 L99.70,450.80 L99.66,451.16 L99.54,451.49 L99.35,451.80 L99.10,452.05 L98.79,452.24 L98.46,452.36 L98.10,452.40 L83.90,452.40 L83.54,452.36 L83.21,452.24 L82.90,452.05 L82.65,451.80 L82.46,451.49 L82.34,451.16 L82.30,450.80 L81.63,450.75 L81.54,450.50 L81.45,450.25 L81.37,450.00 L81.30,449.75 L81.23,449.50 L81.16,449.25 L81.10,449.00 L81.03,448.75 L80.97,448.50 L80.91,448.25 L80.85,448.00 L80.79,447.75 L80.73,447.50 L80.67,447.25 L80.62,447.00 L80.56,446.75 L80.51,446.50 L80.46,446.25 L80.42,446.00 L80.38,445.75 L80.34,445.50 L80.30,445.25 L80.27,445.00 L80.25,444.75 L80.22,444.50 L80.20,444.25 L80.19,444.00 L80.17,443.75 L80.16,443.50 L80.14,443.25 L80.13,443.00 L80.11,442.75 L80.10,442.50 L80.09,442.25 L80.08,442.00 L80.06,441.75 L80.05,441.50 L80.04,441.25 L80.04,441.00 L80.03,440.75 L80.02,440.50 L80.01,440.25 L80.01,440.00 L80.01,439.75 L80.00,439.50 L80.00,439.25 L80.00,439.00 L80.00,438.75 L80.01,438.50 L80.02,438.25 L80.03,438.00 L80.04,437.75 L80.06,437.50 L80.08,437.25 L80.10,437.00 L80.12,436.75 L80.14,436.50 L80.16,436.25 L80.18,436.00 L80.21,435.75 L80.22,435.50 L80.24,435.25 L80.26,435.00 L80.27,434.75 L80.29,434.50 L80.29,434.25 L80.30,434.00 L80.30,433.75 L80.30,433.50 L80.29,433.25 L80.27,433.00 L80.25,432.75 L80.23,432.50 L80.20,432.25 L80.17,432.00 L80.13,431.75 L80.10,431.50 L80.06,431.25 L80.02,431.00 L79.98,430.75 L79.93,430.50 L79.89,430.25 L79.84,430.00 L79.80,429.75 L79.76,429.50 L79.72,429.25 L79.67,429.00 L79.64,428.75 L79.60,428.50 L79.56,428.25 L79.52,428.00 L79.48,427.75 L79.43,427.50 L79.38,427.25 L79.33,427.00 L79.28,426.75 L79.24,426.50 L79.19,426.25 L79.14,426.00 L79.10,425.75 L79.05,425.50 L79.02,425.25 L78.98,425.00 L78.95,424.75 L78.93,424.50 L78.91,424.25 L78.90,424.00 L78.90,423.75 L78.90,423.50 L78.91,423.25 L78.93,423.00 L78.95,422.75 L78.97,422.50 L78.99,422.25 L79.03,422.00 L79.06,421.75 L79.10,421.50 L79.14,421.25 L79.18,421.00 L79.23,420.75 L79.28,420.50 L79.33,420.25 L79.38,420.00 L79.43,419.75 L79.49,419.50 L79.54,419.25 L79.60,419.00 L79.66,418.75 L79.74,418.50 L79.83,418.25 L79.92,418.00 L80.03,417.75 L80.14,417.50 L80.27,417.25 L80.40,417.00 L80.53,416.75 L80.67,416.50 L80.81,416.25 L80.95,416.00 L81.10,415.75 L81.24,415.50 L81.39,415.25 L81.53,415.00 L81.67,414.75 L81.81,414.50 L81.96,414.25 L82.11,414.00 L82.27,413.75 L82.43,413.50 L82.60,413.25 L82.77,413.00 L82.93,412.75 L83.10,412.50 L83.27,412.25 L83.44,412.00 L83.61,411.75 L83.77,411.50 L83.94,411.25 L84.09,411.00 L84.24,410.75 L84.39,410.50 L84.53,410.25 L84.67,410.00 L84.81,409.75 L84.95,409.50 L85.10,409.25 L85.25,409.00 L85.40,408.75 L85.55,408.50 L85.69,408.25 L85.83,408.00 L85.97,407.75 L86.11,407.50 L86.24,407.25 L86.36,407.00 L86.47,406.75 L86.58,406.50 L86.68,406.25 L86.77,406.00 L86.84,405.75 L86.91,405.50 L86.96,405.25 L87.00,405.00 L87.03,404.75 L87.06,404.50 L87.09,404.25 L87.12,404.00 L87.14,403.75 L87.17,403.50 L87.19,403.25 L87.21,403.00 L87.23,402.75 L87.25,402.50 L87.26,402.25 L87.28,402.00 L87.29,401.75 L87.29,401.50 L87.30,401.25 L87.30,401.00 L87.30,400.75 L87.28,400.50 L87.26,400.25 L87.24,400.00 L87.20,399.75 L87.16,399.50 L87.12,399.25 L87.08,399.00 L87.03,398.75 L86.98,398.50 L86.93,398.25 L86.88,398.00 L86.83,397.75 L86.78,397.50 L86.74,397.25 L86.70,397.00 L86.66,396.75 L86.62,396.50 L86.58,396.25 L86.54,396.00 L86.49,395.75 L86.45,395.50 L86.40,395.25 L86.36,395.00 L86.31,394.75 L86.27,394.50 L86.23,394.25 L86.18,394.00 L86.14,393.75 L86.10,393.50 L86.05,393.25 L86.01,393.00 L85.97,392.75 L85.94,392.50 L85.90,392.25 L85.87,392.00 L85.83,391.75 L85.80,391.50 L85.78,391.25 L85.75,391.00 L85.73,390.75 L85.70,390.50 L85.68,390.25 L85.65,390.00 L85.63,389.75 L85.60,389.50 L85.58,389.25 L85.56,389.00 L85.54,388.75 L85.52,388.50 L85.50,388.25 L85.48,388.00 L85.46,387.75 L85.45,387.50 L85.43,387.25 L85.42,387.00 L85.41,386.75 L85.41,386.50 L85.40,386.25 L85.40,386.00 L85.40,385.75 L85.40,385.50 L85.40,385.25 L85.40,385.00 L85.40,384.75 L85.40,384.50 L85.41,384.25 L85.41,384.00 L85.41,383.75 L85.42,383.50 L85.42,383.25 L85.50,383.10 L85.54,382.74 L85.66,382.41 L85.85,382.10 L86.10,381.85 L86.41,381.66 L86.74,381.54 L87.10,381.50 Z" fill="none" stroke="#000" stroke-width="2.9" stroke-linejoin="round"/>
<line x1="80.10" y1="424.00" x2="101.90" y2="424.00" stroke="#000" stroke-width="1.7"/>
<line x1="81.41" y1="444.40" x2="100.59" y2="444.40" stroke="#444" stroke-width="1.0" stroke-dasharray="1.6 1.4"/>
<line x1="88.50" y1="401.40" x2="93.50" y2="401.40" stroke="#bbb" stroke-width="1.0"/>
<path d="M142.10,379.40 L142.46,379.44 L142.79,379.56 L143.10,379.75 L143.35,380.00 L143.54,380.31 L143.66,380.64 L143.70,381.00 L143.38,381.15 L143.33,381.40 L143.28,381.65 L143.22,381.90 L143.17,382.15 L143.11,382.40 L143.06,382.65 L143.00,382.90 L142.94,383.15 L142.88,383.40 L142.82,383.65 L142.75,383.90 L142.69,384.15 L142.63,384.40 L142.56,384.65 L142.50,384.90 L142.43,385.15 L142.36,385.40 L142.30,385.65 L142.23,385.90 L142.16,386.15 L142.08,386.40 L142.01,386.65 L141.93,386.90 L141.85,387.15 L141.76,387.40 L141.68,387.65 L141.59,387.90 L141.50,388.15 L141.41,388.40 L141.32,388.65 L141.22,388.90 L141.13,389.15 L141.03,389.40 L140.94,389.65 L140.85,389.90 L140.75,390.15 L140.66,390.40 L140.57,390.65 L140.48,390.90 L140.39,391.15 L140.30,391.40 L140.22,391.65 L140.13,391.90 L140.05,392.15 L139.97,392.40 L139.89,392.65 L139.81,392.90 L139.73,393.15 L139.65,393.40 L139.57,393.65 L139.48,393.90 L139.40,394.15 L139.33,394.40 L139.25,394.65 L139.17,394.90 L139.09,395.15 L139.02,395.40 L138.94,395.65 L138.87,395.90 L138.79,396.15 L138.72,396.40 L138.65,396.65 L138.58,396.90 L138.52,397.15 L138.45,397.40 L138.39,397.65 L138.32,397.90 L138.26,398.15 L138.21,398.40 L138.15,398.65 L138.09,398.90 L138.03,399.15 L137.98,399.40 L137.92,399.65 L137.87,399.90 L137.82,400.15 L137.77,400.40 L137.71,400.65 L137.66,400.90 L137.61,401.15 L137.57,401.40 L137.52,401.65 L137.47,401.90 L137.42,402.15 L137.38,402.40 L137.33,402.65 L137.29,402.90 L137.24,403.15 L137.20,403.40 L137.16,403.65 L137.12,403.90 L137.08,404.15 L137.03,404.40 L136.99,404.65 L136.95,404.90 L136.91,405.15 L136.87,405.40 L136.83,405.65 L136.79,405.90 L136.74,406.15 L136.71,406.40 L136.67,406.65 L136.63,406.90 L136.59,407.15 L136.55,407.40 L136.52,407.65 L136.48,407.90 L136.45,408.15 L136.42,408.40 L136.39,408.65 L136.36,408.90 L136.33,409.15 L136.31,409.40 L136.28,409.65 L136.26,409.90 L136.24,410.15 L136.22,410.40 L136.20,410.65 L136.18,410.90 L136.15,411.15 L136.13,411.40 L136.11,411.65 L136.09,411.90 L136.07,412.15 L136.06,412.40 L136.04,412.65 L136.02,412.90 L136.00,413.15 L135.99,413.40 L135.97,413.65 L135.96,413.90 L135.95,414.15 L135.94,414.40 L135.93,414.65 L135.92,414.90 L135.91,415.15 L135.91,415.40 L135.90,415.65 L135.90,415.90 L135.90,416.15 L135.93,416.40 L135.98,416.65 L136.05,416.90 L136.14,417.15 L136.25,417.40 L136.37,417.65 L136.51,417.90 L136.66,418.15 L136.82,418.40 L136.99,418.65 L137.18,418.90 L137.36,419.15 L137.56,419.40 L137.75,419.65 L137.95,419.90 L138.15,420.15 L138.35,420.40 L138.55,420.65 L138.74,420.90 L138.93,421.15 L139.11,421.40 L139.28,421.65 L139.44,421.90 L139.59,422.15 L139.74,422.40 L139.90,422.65 L140.05,422.90 L140.21,423.15 L140.36,423.40 L140.52,423.65 L140.68,423.90 L140.83,424.15 L140.99,424.40 L141.15,424.65 L141.30,424.90 L141.46,425.15 L141.61,425.40 L141.77,425.65 L141.92,425.90 L142.07,426.15 L142.22,426.40 L142.36,426.65 L142.51,426.90 L142.65,427.15 L142.78,427.40 L142.92,427.65 L143.05,427.90 L143.18,428.15 L143.31,428.40 L143.45,428.65 L143.58,428.90 L143.72,429.15 L143.86,429.40 L144.00,429.65 L144.14,429.90 L144.27,430.15 L144.40,430.40 L144.53,430.65 L144.65,430.90 L144.76,431.15 L144.87,431.40 L144.97,431.65 L145.06,431.90 L145.14,432.15 L145.20,432.40 L145.26,432.65 L145.30,432.90 L145.33,433.15 L145.37,433.40 L145.40,433.65 L145.43,433.90 L145.46,434.15 L145.49,434.40 L145.52,434.65 L145.55,434.90 L145.57,435.15 L145.59,435.40 L145.61,435.65 L145.63,435.90 L145.65,436.15 L145.66,436.40 L145.68,436.65 L145.69,436.90 L145.69,437.15 L145.70,437.40 L145.70,437.65 L145.69,437.90 L145.66,438.15 L145.62,438.40 L145.55,438.65 L145.46,438.90 L145.36,439.15 L145.25,439.40 L145.12,439.65 L144.10,439.70 L144.06,440.06 L143.94,440.39 L143.75,440.70 L143.50,440.95 L143.19,441.14 L142.86,441.26 L142.50,441.30 L123.30,441.30 L122.94,441.26 L122.61,441.14 L122.30,440.95 L122.05,440.70 L121.86,440.39 L121.74,440.06 L121.70,439.70 L120.68,439.65 L120.55,439.40 L120.44,439.15 L120.34,438.90 L120.25,438.65 L120.18,438.40 L120.14,438.15 L120.11,437.90 L120.10,437.65 L120.10,437.40 L120.11,437.15 L120.11,436.90 L120.12,436.65 L120.14,436.40 L120.15,436.15 L120.17,435.90 L120.19,435.65 L120.21,435.40 L120.23,435.15 L120.25,434.90 L120.28,434.65 L120.31,434.40 L120.34,434.15 L120.37,433.90 L120.40,433.65 L120.43,433.40 L120.47,433.15 L120.50,432.90 L120.54,432.65 L120.60,432.40 L120.66,432.15 L120.74,431.90 L120.83,431.65 L120.93,431.40 L121.04,431.15 L121.15,430.90 L121.27,430.65 L121.40,430.40 L121.53,430.15 L121.66,429.90 L121.80,429.65 L121.94,429.40 L122.08,429.15 L122.22,428.90 L122.35,428.65 L122.49,428.40 L122.62,428.15 L122.75,427.90 L122.88,427.65 L123.02,427.40 L123.15,427.15 L123.29,426.90 L123.44,426.65 L123.58,426.40 L123.73,426.15 L123.88,425.90 L124.03,425.65 L124.19,425.40 L124.34,425.15 L124.50,424.90 L124.65,424.65 L124.81,424.40 L124.97,424.15 L125.12,423.90 L125.28,423.65 L125.44,423.40 L125.59,423.15 L125.75,422.90 L125.90,422.65 L126.06,422.40 L126.21,422.15 L126.36,421.90 L126.52,421.65 L126.69,421.40 L126.87,421.15 L127.06,420.90 L127.25,420.65 L127.45,420.40 L127.65,420.15 L127.85,419.90 L128.05,419.65 L128.24,419.40 L128.44,419.15 L128.62,418.90 L128.81,418.65 L128.98,418.40 L129.14,418.15 L129.29,417.90 L129.43,417.65 L129.55,417.40 L129.66,417.15 L129.75,416.90 L129.82,416.65 L129.87,416.40 L129.90,416.15 L129.90,415.90 L129.90,415.65 L129.89,415.40 L129.89,415.15 L129.88,414.90 L129.87,414.65 L129.86,414.40 L129.85,414.15 L129.84,413.90 L129.83,413.65 L129.81,413.40 L129.80,413.15 L129.78,412.90 L129.76,412.65 L129.74,412.40 L129.73,412.15 L129.71,411.90 L129.69,411.65 L129.67,411.40 L129.65,411.15 L129.62,410.90 L129.60,410.65 L129.58,410.40 L129.56,410.15 L129.54,409.90 L129.52,409.65 L129.49,409.40 L129.47,409.15 L129.44,408.90 L129.41,408.65 L129.38,408.40 L129.35,408.15 L129.32,407.90 L129.28,407.65 L129.25,407.40 L129.21,407.15 L129.17,406.90 L129.13,406.65 L129.09,406.40 L129.06,406.15 L129.01,405.90 L128.97,405.65 L128.93,405.40 L128.89,405.15 L128.85,404.90 L128.81,404.65 L128.77,404.40 L128.72,404.15 L128.68,403.90 L128.64,403.65 L128.60,403.40 L128.56,403.15 L128.51,402.90 L128.47,402.65 L128.42,402.40 L128.38,402.15 L128.33,401.90 L128.28,401.65 L128.23,401.40 L128.19,401.15 L128.14,400.90 L128.09,400.65 L128.03,400.40 L127.98,400.15 L127.93,399.90 L127.88,399.65 L127.82,399.40 L127.77,399.15 L127.71,398.90 L127.65,398.65 L127.59,398.40 L127.54,398.15 L127.48,397.90 L127.41,397.65 L127.35,397.40 L127.28,397.15 L127.22,396.90 L127.15,396.65 L127.08,396.40 L127.01,396.15 L126.93,395.90 L126.86,395.65 L126.78,395.40 L126.71,395.15 L126.63,394.90 L126.55,394.65 L126.47,394.40 L126.40,394.15 L126.32,393.90 L126.23,393.65 L126.15,393.40 L126.07,393.15 L125.99,392.90 L125.91,392.65 L125.83,392.40 L125.75,392.15 L125.67,391.90 L125.58,391.65 L125.50,391.40 L125.41,391.15 L125.32,390.90 L125.23,390.65 L125.14,390.40 L125.05,390.15 L124.95,389.90 L124.86,389.65 L124.77,389.40 L124.67,389.15 L124.58,388.90 L124.48,388.65 L124.39,388.40 L124.30,388.15 L124.21,387.90 L124.12,387.65 L124.04,387.40 L123.95,387.15 L123.87,386.90 L123.79,386.65 L123.72,386.40 L123.64,386.15 L123.57,385.90 L123.50,385.65 L123.44,385.40 L123.37,385.15 L123.30,384.90 L123.24,384.65 L123.17,384.40 L123.11,384.15 L123.05,383.90 L122.98,383.65 L122.92,383.40 L122.86,383.15 L122.80,382.90 L122.74,382.65 L122.69,382.40 L122.63,382.15 L122.58,381.90 L122.52,381.65 L122.47,381.40 L122.42,381.15 L122.10,381.00 L122.14,380.64 L122.26,380.31 L122.45,380.00 L122.70,379.75 L123.01,379.56 L123.34,379.44 L123.70,379.40 Z" fill="none" stroke="#000" stroke-width="2.9" stroke-linejoin="round"/>
<line x1="130.88" y1="416.30" x2="134.92" y2="416.30" stroke="#000" stroke-width="1.7"/>
<line x1="121.33" y1="436.50" x2="144.47" y2="436.50" stroke="#444" stroke-width="1.0" stroke-dasharray="1.6 1.4"/>
<path d="M177.30,386.90 L177.66,386.94 L177.99,387.06 L178.30,387.25 L178.55,387.50 L178.74,387.81 L178.86,388.14 L178.90,388.50 L178.19,388.65 L178.10,388.90 L178.02,389.15 L177.94,389.40 L177.87,389.65 L177.81,389.90 L177.75,390.15 L177.70,390.40 L177.66,390.65 L177.63,390.90 L177.61,391.15 L177.60,391.40 L177.59,391.65 L177.58,391.90 L177.57,392.15 L177.56,392.40 L177.55,392.65 L177.55,392.90 L177.54,393.15 L177.53,393.40 L177.53,393.65 L177.52,393.90 L177.52,394.15 L177.51,394.40 L177.51,394.65 L177.51,394.90 L177.50,395.15 L177.50,395.40 L177.50,395.65 L177.50,395.90 L177.50,396.15 L177.52,396.40 L177.55,396.65 L177.60,396.90 L177.66,397.15 L177.73,397.40 L177.80,397.65 L177.89,397.90 L177.99,398.15 L178.09,398.40 L178.20,398.65 L178.31,398.90 L178.42,399.15 L178.53,399.40 L178.65,399.65 L178.76,399.90 L178.87,400.15 L178.98,400.40 L179.08,400.65 L179.18,400.90 L179.29,401.15 L179.40,401.40 L179.52,401.65 L179.64,401.90 L179.76,402.15 L179.89,402.40 L180.02,402.65 L180.15,402.90 L180.28,403.15 L180.41,403.40 L180.53,403.65 L180.66,403.90 L180.78,404.15 L180.89,404.40 L181.00,404.65 L181.11,404.90 L181.21,405.15 L181.30,405.40 L181.39,405.65 L181.48,405.90 L181.57,406.15 L181.66,406.40 L181.75,406.65 L181.84,406.90 L181.93,407.15 L182.02,407.40 L182.11,407.65 L182.19,407.90 L182.27,408.15 L182.35,408.40 L182.43,408.65 L182.50,408.90 L182.57,409.15 L182.63,409.40 L182.69,409.65 L182.74,409.90 L182.78,410.15 L182.82,410.40 L182.85,410.65 L182.88,410.90 L182.90,411.15 L182.91,411.40 L182.92,411.65 L182.93,411.90 L182.94,412.15 L182.95,412.40 L182.96,412.65 L182.97,412.90 L182.98,413.15 L182.99,413.40 L183.00,413.65 L183.00,413.90 L183.01,414.15 L183.02,414.40 L183.02,414.65 L183.03,414.90 L183.03,415.15 L183.04,415.40 L183.04,415.65 L183.04,415.90 L183.05,416.15 L183.05,416.40 L183.05,416.65 L183.05,416.90 L183.05,417.15 L183.04,417.40 L183.03,417.65 L183.01,417.90 L182.98,418.15 L182.95,418.40 L182.91,418.65 L182.87,418.90 L182.83,419.15 L182.78,419.40 L182.73,419.65 L182.68,419.90 L182.63,420.15 L182.58,420.40 L182.53,420.65 L182.48,420.90 L182.43,421.15 L182.38,421.40 L182.33,421.65 L182.29,421.90 L182.25,422.15 L182.21,422.40 L182.18,422.65 L182.15,422.90 L182.12,423.15 L182.10,423.40 L182.07,423.65 L182.05,423.90 L182.02,424.15 L182.00,424.40 L181.97,424.65 L181.95,424.90 L181.92,425.15 L181.90,425.40 L181.87,425.65 L181.85,425.90 L181.83,426.15 L181.81,426.40 L181.78,426.65 L181.76,426.90 L181.74,427.15 L181.73,427.40 L181.71,427.65 L181.69,427.90 L181.68,428.15 L181.66,428.40 L181.65,428.65 L181.64,428.90 L181.63,429.15 L181.62,429.40 L181.61,429.65 L181.61,429.90 L181.60,430.15 L181.60,430.40 L181.60,430.65 L181.62,430.90 L181.66,431.15 L181.71,431.40 L181.78,431.65 L181.87,431.90 L181.96,432.15 L182.07,432.40 L182.18,432.65 L182.31,432.90 L182.44,433.15 L182.58,433.40 L182.73,433.65 L182.88,433.90 L183.03,434.15 L183.19,434.40 L183.34,434.65 L183.50,434.90 L183.65,435.15 L183.81,435.40 L183.95,435.65 L184.10,435.90 L184.24,436.15 L184.37,436.40 L184.49,436.65 L184.60,436.90 L184.71,437.15 L184.83,437.40 L184.95,437.65 L185.08,437.90 L185.20,438.15 L185.34,438.40 L185.47,438.65 L185.60,438.90 L185.73,439.15 L185.86,439.40 L185.99,439.65 L186.11,439.90 L186.23,440.15 L186.34,440.40 L186.44,440.65 L186.54,440.90 L186.63,441.15 L186.70,441.40 L186.77,441.65 L186.82,441.90 L186.86,442.15 L186.89,442.40 L186.90,442.65 L186.89,442.90 L186.87,443.15 L186.82,443.40 L186.75,443.65 L186.67,443.90 L185.70,444.10 L185.66,444.46 L185.54,444.79 L185.35,445.10 L185.10,445.35 L184.79,445.54 L184.46,445.66 L184.10,445.70 L165.30,445.70 L164.94,445.66 L164.61,445.54 L164.30,445.35 L164.05,445.10 L163.86,444.79 L163.74,444.46 L163.70,444.10 L162.73,443.90 L162.65,443.65 L162.58,443.40 L162.53,443.15 L162.51,442.90 L162.50,442.65 L162.51,442.40 L162.54,442.15 L162.58,441.90 L162.63,441.65 L162.70,441.40 L162.77,441.15 L162.86,440.90 L162.96,440.65 L163.06,440.40 L163.17,440.15 L163.29,439.90 L163.41,439.65 L163.54,439.40 L163.67,439.15 L163.80,438.90 L163.93,438.65 L164.06,438.40 L164.20,438.15 L164.32,437.90 L164.45,437.65 L164.57,437.40 L164.69,437.15 L164.80,436.90 L164.91,436.65 L165.03,436.40 L165.16,436.15 L165.30,435.90 L165.45,435.65 L165.59,435.40 L165.75,435.15 L165.90,434.90 L166.06,434.65 L166.21,434.40 L166.37,434.15 L166.52,433.90 L166.67,433.65 L166.82,433.40 L166.96,433.15 L167.09,432.90 L167.22,432.65 L167.33,432.40 L167.44,432.15 L167.53,431.90 L167.62,431.65 L167.69,431.40 L167.74,431.15 L167.78,430.90 L167.80,430.65 L167.80,430.40 L167.80,430.15 L167.79,429.90 L167.79,429.65 L167.78,429.40 L167.77,429.15 L167.76,428.90 L167.75,428.65 L167.74,428.40 L167.72,428.15 L167.71,427.90 L167.69,427.65 L167.67,427.40 L167.66,427.15 L167.64,426.90 L167.62,426.65 L167.59,426.40 L167.57,426.15 L167.55,425.90 L167.53,425.65 L167.50,425.40 L167.48,425.15 L167.45,424.90 L167.43,424.65 L167.40,424.40 L167.38,424.15 L167.35,423.90 L167.33,423.65 L167.30,423.40 L167.28,423.15 L167.25,422.90 L167.22,422.65 L167.19,422.40 L167.15,422.15 L167.11,421.90 L167.07,421.65 L167.02,421.40 L166.97,421.15 L166.92,420.90 L166.87,420.65 L166.82,420.40 L166.77,420.15 L166.72,419.90 L166.67,419.65 L166.62,419.40 L166.57,419.15 L166.53,418.90 L166.49,418.65 L166.45,418.40 L166.42,418.15 L166.39,417.90 L166.37,417.65 L166.36,417.40 L166.35,417.15 L166.35,416.90 L166.35,416.65 L166.35,416.40 L166.35,416.15 L166.36,415.90 L166.36,415.65 L166.36,415.40 L166.37,415.15 L166.37,414.90 L166.38,414.65 L166.38,414.40 L166.39,414.15 L166.40,413.90 L166.40,413.65 L166.41,413.40 L166.42,413.15 L166.43,412.90 L166.44,412.65 L166.45,412.40 L166.46,412.15 L166.47,411.90 L166.48,411.65 L166.49,411.40 L166.50,411.15 L166.52,410.90 L166.55,410.65 L166.58,410.40 L166.62,410.15 L166.66,409.90 L166.71,409.65 L166.77,409.40 L166.83,409.15 L166.90,408.90 L166.97,408.65 L167.05,408.40 L167.13,408.15 L167.21,407.90 L167.29,407.65 L167.38,407.40 L167.47,407.15 L167.56,406.90 L167.65,406.65 L167.74,406.40 L167.83,406.15 L167.92,405.90 L168.01,405.65 L168.10,405.40 L168.19,405.15 L168.29,404.90 L168.40,404.65 L168.51,404.40 L168.62,404.15 L168.74,403.90 L168.87,403.65 L168.99,403.40 L169.12,403.15 L169.25,402.90 L169.38,402.65 L169.51,402.40 L169.64,402.15 L169.76,401.90 L169.88,401.65 L170.00,401.40 L170.11,401.15 L170.22,400.90 L170.32,400.65 L170.42,400.40 L170.53,400.15 L170.64,399.90 L170.75,399.65 L170.87,399.40 L170.98,399.15 L171.09,398.90 L171.20,398.65 L171.31,398.40 L171.41,398.15 L171.51,397.90 L171.60,397.65 L171.67,397.40 L171.74,397.15 L171.80,396.90 L171.85,396.65 L171.88,396.40 L171.90,396.15 L171.90,395.90 L171.90,395.65 L171.90,395.40 L171.90,395.15 L171.89,394.90 L171.89,394.65 L171.89,394.40 L171.88,394.15 L171.88,393.90 L171.87,393.65 L171.87,393.40 L171.86,393.15 L171.85,392.90 L171.85,392.65 L171.84,392.40 L171.83,392.15 L171.82,391.90 L171.81,391.65 L171.80,391.40 L171.79,391.15 L171.77,390.90 L171.74,390.65 L171.70,390.40 L171.65,390.15 L171.59,389.90 L171.53,389.65 L171.46,389.40 L171.38,389.15 L171.30,388.90 L171.21,388.65 L170.50,388.50 L170.54,388.14 L170.66,387.81 L170.85,387.50 L171.10,387.25 L171.41,387.06 L171.74,386.94 L172.10,386.90 Z" fill="none" stroke="#000" stroke-width="2.9" stroke-linejoin="round"/>
<line x1="168.99" y1="430.80" x2="180.41" y2="430.80" stroke="#000" stroke-width="1.7"/>
<line x1="167.64" y1="412.60" x2="181.76" y2="412.60" stroke="#666" stroke-width="1.0" stroke-dasharray="1.6 1.4"/>
<line x1="164.24" y1="444.60" x2="185.16" y2="444.60" stroke="#555" stroke-width="1.0" stroke-dasharray="1.6 1.4"/>
<path d="M217.70,364.50 L218.06,364.54 L218.39,364.66 L218.70,364.85 L218.95,365.10 L219.14,365.41 L219.26,365.74 L219.30,366.10 L218.90,366.25 L218.87,366.50 L218.84,366.75 L218.82,367.00 L218.81,367.25 L218.80,367.50 L218.80,367.75 L218.81,368.00 L218.83,368.25 L218.85,368.50 L218.89,368.75 L218.93,369.00 L218.98,369.25 L219.04,369.50 L219.09,369.75 L219.15,370.00 L219.22,370.25 L219.28,370.50 L219.34,370.75 L219.40,371.00 L219.46,371.25 L219.52,371.50 L219.58,371.75 L219.65,372.00 L219.72,372.25 L219.79,372.50 L219.87,372.75 L219.96,373.00 L220.04,373.25 L220.14,373.50 L220.24,373.75 L220.35,374.00 L220.47,374.25 L220.60,374.50 L220.75,374.75 L220.94,375.00 L221.16,375.25 L221.41,375.50 L221.68,375.75 L221.97,376.00 L222.27,376.25 L222.58,376.50 L222.90,376.75 L223.22,377.00 L223.54,377.25 L223.86,377.50 L224.23,377.75 L224.62,378.00 L225.03,378.25 L225.44,378.50 L225.85,378.75 L226.23,379.00 L226.58,379.25 L226.89,379.50 L227.16,379.75 L227.44,380.00 L227.72,380.25 L227.97,380.50 L228.18,380.75 L228.33,381.00 L228.40,381.25 L228.39,381.50 L228.34,381.75 L228.27,382.00 L228.17,382.25 L228.04,382.50 L227.90,382.75 L227.73,383.00 L227.56,383.25 L227.38,383.50 L227.17,383.75 L223.90,384.00 L223.86,384.36 L223.74,384.69 L223.55,385.00 L223.30,385.25 L222.99,385.44 L222.66,385.56 L222.30,385.60 L209.50,385.60 L209.14,385.56 L208.81,385.44 L208.50,385.25 L208.25,385.00 L208.06,384.69 L207.94,384.36 L207.90,384.00 L204.63,383.75 L204.42,383.50 L204.24,383.25 L204.07,383.00 L203.90,382.75 L203.76,382.50 L203.63,382.25 L203.53,382.00 L203.46,381.75 L203.41,381.50 L203.40,381.25 L203.47,381.00 L203.62,380.75 L203.83,380.50 L204.08,380.25 L204.36,380.00 L204.64,379.75 L204.91,379.50 L205.22,379.25 L205.57,379.00 L205.95,378.75 L206.36,378.50 L206.77,378.25 L207.18,378.00 L207.57,377.75 L207.94,377.50 L208.26,377.25 L208.58,377.00 L208.90,376.75 L209.22,376.50 L209.53,376.25 L209.83,376.00 L210.12,375.75 L210.39,375.50 L210.64,375.25 L210.86,375.00 L211.05,374.75 L211.20,374.50 L211.33,374.25 L211.45,374.00 L211.56,373.75 L211.66,373.50 L211.76,373.25 L211.84,373.00 L211.93,372.75 L212.01,372.50 L212.08,372.25 L212.15,372.00 L212.22,371.75 L212.28,371.50 L212.34,371.25 L212.40,371.00 L212.46,370.75 L212.52,370.50 L212.58,370.25 L212.65,370.00 L212.71,369.75 L212.76,369.50 L212.82,369.25 L212.87,369.00 L212.91,368.75 L212.95,368.50 L212.97,368.25 L212.99,368.00 L213.00,367.75 L213.00,367.50 L212.99,367.25 L212.98,367.00 L212.96,366.75 L212.93,366.50 L212.90,366.25 L212.50,366.10 L212.54,365.74 L212.66,365.41 L212.85,365.10 L213.10,364.85 L213.41,364.66 L213.74,364.54 L214.10,364.50 Z" fill="none" stroke="#9c9c9c" stroke-width="2.6" stroke-linejoin="round"/>
<line x1="205.27" y1="381.00" x2="226.53" y2="381.00" stroke="#000" stroke-width="1.9"/>
<line x1="206.41" y1="383.20" x2="225.39" y2="383.20" stroke="#777" stroke-width="1.0" stroke-dasharray="1.5 1.3"/>
<line x1="213.01" y1="372.50" x2="218.79" y2="372.50" stroke="#ccc" stroke-width="1.0"/>
<path d="M260.25,344.30 L260.61,344.34 L260.94,344.46 L261.25,344.65 L261.50,344.90 L261.69,345.21 L261.81,345.54 L261.85,345.90 L260.97,346.05 L260.88,346.30 L260.79,346.55 L260.72,346.80 L260.66,347.05 L260.63,347.30 L260.60,347.55 L260.60,347.80 L260.60,348.05 L260.61,348.30 L260.61,348.55 L260.62,348.80 L260.63,349.05 L260.64,349.30 L260.65,349.55 L260.66,349.80 L260.68,350.05 L260.70,350.30 L260.72,350.55 L260.74,350.80 L260.76,351.05 L260.78,351.30 L260.80,351.55 L260.83,351.80 L260.85,352.05 L260.88,352.30 L260.91,352.55 L260.95,352.80 L261.00,353.05 L261.08,353.30 L261.17,353.55 L261.27,353.80 L261.38,354.05 L261.50,354.30 L261.64,354.55 L261.78,354.80 L261.92,355.05 L262.07,355.30 L262.22,355.55 L262.38,355.80 L262.53,356.05 L262.68,356.30 L262.83,356.55 L262.98,356.80 L263.12,357.05 L263.25,357.30 L263.38,357.55 L263.50,357.80 L263.63,358.05 L263.75,358.30 L263.88,358.55 L264.01,358.80 L264.14,359.05 L264.26,359.30 L264.39,359.55 L264.52,359.80 L264.65,360.05 L264.78,360.30 L264.91,360.55 L265.04,360.80 L265.16,361.05 L265.29,361.30 L265.42,361.55 L265.55,361.80 L265.67,362.05 L265.80,362.30 L265.93,362.55 L266.06,362.80 L266.19,363.05 L266.32,363.30 L266.45,363.55 L266.59,363.80 L266.72,364.05 L266.85,364.30 L266.98,364.55 L267.11,364.80 L267.24,365.05 L267.37,365.30 L267.49,365.55 L267.61,365.80 L267.73,366.05 L267.85,366.30 L267.96,366.55 L268.07,366.80 L268.17,367.05 L268.28,367.30 L268.38,367.55 L268.50,367.80 L268.61,368.05 L268.73,368.30 L268.84,368.55 L268.96,368.80 L269.07,369.05 L269.18,369.30 L269.29,369.55 L269.39,369.80 L269.49,370.05 L269.58,370.30 L269.67,370.55 L269.75,370.80 L269.81,371.05 L269.87,371.30 L269.92,371.55 L269.96,371.80 L269.99,372.05 L270.00,372.30 L270.00,372.55 L269.99,372.80 L269.97,373.05 L269.95,373.30 L269.92,373.55 L269.88,373.80 L269.84,374.05 L269.79,374.30 L269.74,374.55 L269.68,374.80 L269.62,375.05 L269.56,375.30 L269.50,375.55 L269.43,375.80 L269.37,376.05 L269.30,376.30 L269.24,376.55 L269.17,376.80 L269.10,377.05 L269.03,377.30 L268.95,377.55 L268.86,377.80 L268.77,378.05 L268.68,378.30 L268.58,378.55 L268.47,378.80 L268.37,379.05 L268.26,379.30 L268.15,379.55 L268.03,379.80 L267.92,380.05 L267.80,380.30 L267.69,380.55 L267.57,380.80 L267.45,381.05 L267.34,381.30 L267.22,381.55 L267.11,381.80 L266.99,382.05 L266.86,382.30 L266.74,382.55 L266.61,382.80 L266.48,383.05 L266.34,383.30 L266.21,383.55 L266.07,383.80 L265.93,384.05 L265.80,384.30 L265.66,384.55 L265.53,384.80 L265.40,385.05 L265.27,385.30 L265.15,385.55 L265.02,385.80 L264.91,386.05 L264.79,386.30 L264.69,386.55 L264.58,386.80 L264.47,387.05 L264.37,387.30 L264.27,387.55 L264.17,387.80 L264.07,388.05 L263.97,388.30 L263.88,388.55 L263.78,388.80 L263.69,389.05 L263.10,389.20 L263.06,389.56 L262.94,389.89 L262.75,390.20 L262.50,390.45 L262.19,390.64 L261.86,390.76 L261.50,390.80 L253.50,390.80 L253.14,390.76 L252.81,390.64 L252.50,390.45 L252.25,390.20 L252.06,389.89 L251.94,389.56 L251.90,389.20 L251.31,389.05 L251.22,388.80 L251.12,388.55 L251.03,388.30 L250.93,388.05 L250.83,387.80 L250.73,387.55 L250.63,387.30 L250.53,387.05 L250.42,386.80 L250.31,386.55 L250.21,386.30 L250.09,386.05 L249.98,385.80 L249.85,385.55 L249.73,385.30 L249.60,385.05 L249.47,384.80 L249.34,384.55 L249.20,384.30 L249.07,384.05 L248.93,383.80 L248.79,383.55 L248.66,383.30 L248.52,383.05 L248.39,382.80 L248.26,382.55 L248.14,382.30 L248.01,382.05 L247.89,381.80 L247.78,381.55 L247.66,381.30 L247.55,381.05 L247.43,380.80 L247.31,380.55 L247.20,380.30 L247.08,380.05 L246.97,379.80 L246.85,379.55 L246.74,379.30 L246.63,379.05 L246.53,378.80 L246.42,378.55 L246.32,378.30 L246.23,378.05 L246.14,377.80 L246.05,377.55 L245.97,377.30 L245.90,377.05 L245.83,376.80 L245.76,376.55 L245.70,376.30 L245.63,376.05 L245.57,375.80 L245.50,375.55 L245.44,375.30 L245.38,375.05 L245.32,374.80 L245.26,374.55 L245.21,374.30 L245.16,374.05 L245.12,373.80 L245.08,373.55 L245.05,373.30 L245.03,373.05 L245.01,372.80 L245.00,372.55 L245.00,372.30 L245.01,372.05 L245.04,371.80 L245.08,371.55 L245.13,371.30 L245.19,371.05 L245.25,370.80 L245.33,370.55 L245.42,370.30 L245.51,370.05 L245.61,369.80 L245.71,369.55 L245.82,369.30 L245.93,369.05 L246.04,368.80 L246.16,368.55 L246.27,368.30 L246.39,368.05 L246.50,367.80 L246.62,367.55 L246.72,367.30 L246.83,367.05 L246.93,366.80 L247.04,366.55 L247.15,366.30 L247.27,366.05 L247.39,365.80 L247.51,365.55 L247.63,365.30 L247.76,365.05 L247.89,364.80 L248.02,364.55 L248.15,364.30 L248.28,364.05 L248.41,363.80 L248.55,363.55 L248.68,363.30 L248.81,363.05 L248.94,362.80 L249.07,362.55 L249.20,362.30 L249.33,362.05 L249.45,361.80 L249.58,361.55 L249.71,361.30 L249.84,361.05 L249.96,360.80 L250.09,360.55 L250.22,360.30 L250.35,360.05 L250.48,359.80 L250.61,359.55 L250.74,359.30 L250.86,359.05 L250.99,358.80 L251.12,358.55 L251.25,358.30 L251.37,358.05 L251.50,357.80 L251.62,357.55 L251.75,357.30 L251.88,357.05 L252.02,356.80 L252.17,356.55 L252.32,356.30 L252.47,356.05 L252.62,355.80 L252.78,355.55 L252.93,355.30 L253.08,355.05 L253.22,354.80 L253.36,354.55 L253.50,354.30 L253.62,354.05 L253.73,353.80 L253.83,353.55 L253.92,353.30 L254.00,353.05 L254.05,352.80 L254.09,352.55 L254.12,352.30 L254.15,352.05 L254.17,351.80 L254.20,351.55 L254.22,351.30 L254.24,351.05 L254.26,350.80 L254.28,350.55 L254.30,350.30 L254.32,350.05 L254.34,349.80 L254.35,349.55 L254.36,349.30 L254.37,349.05 L254.38,348.80 L254.39,348.55 L254.39,348.30 L254.40,348.05 L254.40,347.80 L254.40,347.55 L254.37,347.30 L254.34,347.05 L254.28,346.80 L254.21,346.55 L254.12,346.30 L254.03,346.05 L253.15,345.90 L253.19,345.54 L253.31,345.21 L253.50,344.90 L253.75,344.65 L254.06,344.46 L254.39,344.34 L254.75,344.30 Z" fill="none" stroke="#9c9c9c" stroke-width="2.6" stroke-linejoin="round"/>
<line x1="246.50" y1="372.40" x2="268.50" y2="372.40" stroke="#000" stroke-width="1.9"/>
<line x1="248.54" y1="380.60" x2="266.46" y2="380.60" stroke="#d4d4d4" stroke-width="1.0" stroke-dasharray="1.5 1.3"/>
<line x1="250.96" y1="361.20" x2="264.04" y2="361.20" stroke="#d4d4d4" stroke-width="1.0" stroke-dasharray="1.5 1.3"/>
<path d="M301.60,347.70 L301.96,347.74 L302.29,347.86 L302.60,348.05 L302.85,348.30 L303.04,348.61 L303.16,348.94 L303.20,349.30 L302.58,349.45 L302.48,349.70 L302.38,349.95 L302.27,350.20 L302.17,350.45 L302.06,350.70 L301.95,350.95 L301.84,351.20 L301.73,351.45 L301.59,351.70 L301.45,351.95 L301.28,352.20 L301.12,352.45 L300.95,352.70 L300.79,352.95 L300.64,353.20 L300.50,353.45 L300.38,353.70 L300.29,353.95 L300.23,354.20 L300.20,354.45 L300.18,354.70 L300.16,354.95 L300.15,355.20 L300.14,355.45 L300.12,355.70 L300.11,355.95 L300.10,356.20 L300.09,356.45 L300.08,356.70 L300.07,356.95 L300.06,357.20 L300.05,357.45 L300.04,357.70 L300.03,357.95 L300.03,358.20 L300.02,358.45 L300.02,358.70 L300.01,358.95 L300.01,359.20 L300.01,359.45 L300.00,359.70 L300.00,359.95 L300.00,360.20 L300.00,360.45 L300.00,360.70 L300.00,360.95 L300.01,361.20 L300.01,361.45 L300.02,361.70 L300.03,361.95 L300.04,362.20 L300.05,362.45 L300.07,362.70 L300.08,362.95 L300.10,363.20 L300.12,363.45 L300.14,363.70 L300.16,363.95 L300.19,364.20 L300.21,364.45 L300.24,364.70 L300.27,364.95 L300.30,365.20 L300.33,365.45 L300.36,365.70 L300.39,365.95 L300.43,366.20 L300.49,366.45 L300.57,366.70 L300.66,366.95 L300.77,367.20 L300.90,367.45 L301.04,367.70 L301.19,367.95 L301.35,368.20 L301.53,368.45 L301.71,368.70 L301.91,368.95 L302.11,369.20 L302.31,369.45 L302.53,369.70 L302.75,369.95 L303.01,370.20 L303.33,370.45 L303.71,370.70 L304.12,370.95 L304.56,371.20 L305.01,371.45 L305.48,371.70 L305.94,371.95 L306.38,372.20 L306.81,372.45 L307.19,372.70 L307.54,372.95 L307.84,373.20 L308.15,373.45 L308.45,373.70 L308.74,373.95 L309.02,374.20 L309.30,374.45 L309.56,374.70 L309.81,374.95 L310.04,375.20 L310.25,375.45 L310.44,375.70 L310.61,375.95 L310.76,376.20 L310.90,376.45 L311.04,376.70 L311.18,376.95 L311.31,377.20 L311.43,377.45 L311.54,377.70 L311.63,377.95 L311.69,378.20 L311.74,378.45 L311.75,378.70 L311.73,378.95 L311.66,379.20 L311.56,379.45 L311.43,379.70 L311.27,379.95 L311.08,380.20 L310.88,380.45 L310.66,380.70 L310.42,380.95 L310.18,381.20 L309.94,381.45 L309.70,381.70 L309.45,381.95 L309.14,382.20 L308.77,382.45 L308.37,382.70 L307.93,382.95 L307.46,383.20 L306.99,383.45 L306.51,383.70 L306.04,383.95 L305.59,384.20 L305.16,384.45 L304.78,384.70 L304.44,384.95 L304.17,385.20 L303.96,385.45 L303.78,385.70 L303.61,385.95 L303.43,386.20 L303.27,386.45 L303.11,386.70 L302.95,386.95 L302.81,387.20 L302.67,387.45 L302.54,387.70 L302.43,387.95 L302.33,388.20 L302.24,388.45 L302.17,388.70 L302.11,388.95 L302.07,389.20 L302.05,389.45 L302.05,389.70 L302.06,389.95 L302.09,390.20 L302.12,390.45 L302.16,390.70 L302.21,390.95 L302.27,391.20 L302.33,391.45 L302.40,391.70 L302.47,391.95 L302.54,392.20 L302.62,392.45 L302.69,392.70 L302.76,392.95 L302.83,393.20 L302.89,393.45 L302.95,393.70 L303.01,393.95 L303.07,394.20 L303.14,394.45 L303.21,394.70 L303.28,394.95 L303.36,395.20 L303.43,395.45 L303.50,395.70 L303.57,395.95 L303.63,396.20 L303.69,396.45 L303.74,396.70 L303.78,396.95 L303.81,397.20 L303.84,397.45 L303.85,397.70 L303.85,397.95 L303.83,398.20 L303.45,398.30 L303.41,398.66 L303.29,398.99 L303.10,399.30 L302.85,399.55 L302.54,399.74 L302.21,399.86 L301.85,399.90 L297.35,399.90 L296.99,399.86 L296.66,399.74 L296.35,399.55 L296.10,399.30 L295.91,398.99 L295.79,398.66 L295.75,398.30 L295.37,398.20 L295.35,397.95 L295.35,397.70 L295.36,397.45 L295.39,397.20 L295.42,396.95 L295.46,396.70 L295.51,396.45 L295.57,396.20 L295.63,395.95 L295.70,395.70 L295.77,395.45 L295.84,395.20 L295.92,394.95 L295.99,394.70 L296.06,394.45 L296.13,394.20 L296.19,393.95 L296.25,393.70 L296.31,393.45 L296.37,393.20 L296.44,392.95 L296.51,392.70 L296.58,392.45 L296.66,392.20 L296.73,391.95 L296.80,391.70 L296.87,391.45 L296.93,391.20 L296.99,390.95 L297.04,390.70 L297.08,390.45 L297.11,390.20 L297.14,389.95 L297.15,389.70 L297.15,389.45 L297.13,389.20 L297.09,388.95 L297.03,388.70 L296.96,388.45 L296.87,388.20 L296.77,387.95 L296.66,387.70 L296.53,387.45 L296.39,387.20 L296.25,386.95 L296.09,386.70 L295.93,386.45 L295.77,386.20 L295.59,385.95 L295.42,385.70 L295.24,385.45 L295.03,385.20 L294.76,384.95 L294.42,384.70 L294.04,384.45 L293.61,384.20 L293.16,383.95 L292.69,383.70 L292.21,383.45 L291.74,383.20 L291.27,382.95 L290.83,382.70 L290.43,382.45 L290.06,382.20 L289.75,381.95 L289.50,381.70 L289.26,381.45 L289.02,381.20 L288.78,380.95 L288.54,380.70 L288.32,380.45 L288.12,380.20 L287.93,379.95 L287.77,379.70 L287.64,379.45 L287.54,379.20 L287.47,378.95 L287.45,378.70 L287.46,378.45 L287.51,378.20 L287.57,377.95 L287.66,377.70 L287.77,377.45 L287.89,377.20 L288.02,376.95 L288.16,376.70 L288.30,376.45 L288.44,376.20 L288.59,375.95 L288.76,375.70 L288.95,375.45 L289.16,375.20 L289.39,374.95 L289.64,374.70 L289.90,374.45 L290.18,374.20 L290.46,373.95 L290.75,373.70 L291.05,373.45 L291.36,373.20 L291.66,372.95 L292.01,372.70 L292.39,372.45 L292.82,372.20 L293.26,371.95 L293.72,371.70 L294.19,371.45 L294.64,371.20 L295.08,370.95 L295.49,370.70 L295.87,370.45 L296.19,370.20 L296.45,369.95 L296.67,369.70 L296.89,369.45 L297.09,369.20 L297.29,368.95 L297.49,368.70 L297.67,368.45 L297.85,368.20 L298.01,367.95 L298.16,367.70 L298.30,367.45 L298.43,367.20 L298.54,366.95 L298.63,366.70 L298.71,366.45 L298.77,366.20 L298.81,365.95 L298.84,365.70 L298.87,365.45 L298.90,365.20 L298.93,364.95 L298.96,364.70 L298.99,364.45 L299.01,364.20 L299.04,363.95 L299.06,363.70 L299.08,363.45 L299.10,363.20 L299.12,362.95 L299.13,362.70 L299.15,362.45 L299.16,362.20 L299.17,361.95 L299.18,361.70 L299.19,361.45 L299.19,361.20 L299.20,360.95 L299.20,360.70 L299.20,360.45 L299.20,360.20 L299.20,359.95 L299.20,359.70 L299.19,359.45 L299.19,359.20 L299.19,358.95 L299.18,358.70 L299.18,358.45 L299.17,358.20 L299.17,357.95 L299.16,357.70 L299.15,357.45 L299.14,357.20 L299.13,356.95 L299.12,356.70 L299.11,356.45 L299.10,356.20 L299.09,355.95 L299.08,355.70 L299.06,355.45 L299.05,355.20 L299.04,354.95 L299.02,354.70 L299.00,354.45 L298.97,354.20 L298.91,353.95 L298.82,353.70 L298.70,353.45 L298.56,353.20 L298.41,352.95 L298.25,352.70 L298.08,352.45 L297.92,352.20 L297.75,351.95 L297.61,351.70 L297.47,351.45 L297.36,351.20 L297.25,350.95 L297.14,350.70 L297.03,350.45 L296.93,350.20 L296.82,349.95 L296.72,349.70 L296.62,349.45 L296.00,349.30 L296.04,348.94 L296.16,348.61 L296.35,348.30 L296.60,348.05 L296.91,347.86 L297.24,347.74 L297.60,347.70 Z" fill="none" stroke="#9c9c9c" stroke-width="2.6" stroke-linejoin="round"/>
<line x1="288.95" y1="378.70" x2="310.25" y2="378.70" stroke="#000" stroke-width="1.9"/>
<line x1="290.55" y1="375.00" x2="308.65" y2="375.00" stroke="#ddd" stroke-width="1.0" stroke-dasharray="1.5 1.3"/>
</svg>
</body></html>
